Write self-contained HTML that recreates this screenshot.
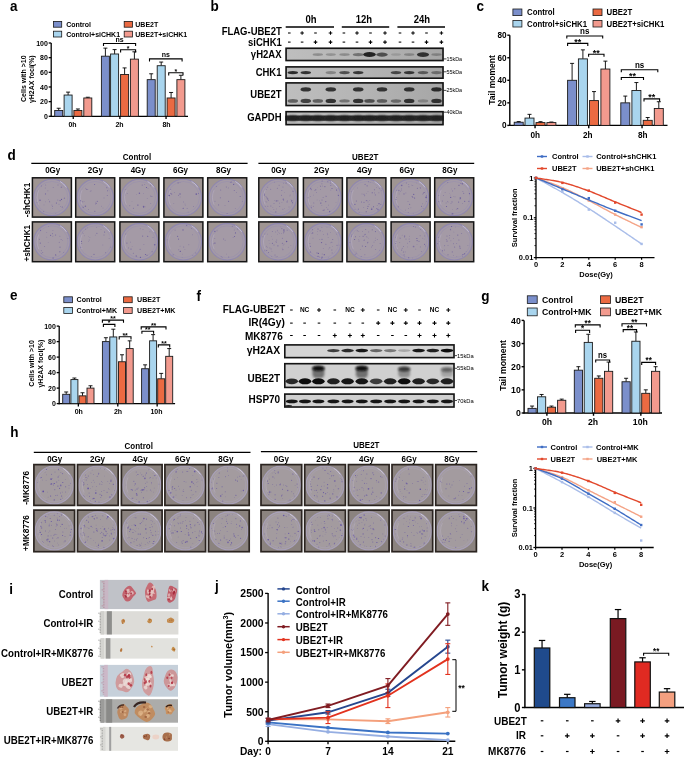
<!DOCTYPE html>
<html><head><meta charset="utf-8"><style>
html,body{margin:0;padding:0;background:#fff;width:685px;height:758px;overflow:hidden}
svg{display:block;will-change:transform}
</style></head><body>
<svg width="685" height="758" viewBox="0 0 685 758" font-family='"Liberation Sans", sans-serif'>
<defs>
<filter id="bl" x="-50%" y="-80%" width="200%" height="260%"><feGaussianBlur stdDeviation="1.1"/></filter>
<filter id="bl2" x="-50%" y="-80%" width="200%" height="260%"><feGaussianBlur stdDeviation="0.6"/></filter>
<filter id="bl3" x="-20%" y="-20%" width="140%" height="140%"><feGaussianBlur stdDeviation="0.35"/></filter>
<linearGradient id="gb" x1="0" y1="0" x2="1" y2="0"><stop offset="0" stop-color="#bebebe"/><stop offset="0.5" stop-color="#b4b4b4"/><stop offset="1" stop-color="#a6a6a6"/></linearGradient>
<radialGradient id="dish" cx="50%" cy="50%" r="50%"><stop offset="0" stop-color="#b8b0ba"/><stop offset="0.85" stop-color="#b4acb8"/><stop offset="1" stop-color="#a8a0c0"/></radialGradient>
</defs>
<rect x="0.00" y="0.00" width="685.00" height="758.00" fill="#ffffff"/>
<text x="10.00" y="11.00" font-size="14.58" font-weight="bold" text-anchor="start" fill="#000" textLength="7.51" lengthAdjust="spacingAndGlyphs">a</text>
<text x="210.60" y="10.80" font-size="14.58" font-weight="bold" text-anchor="start" fill="#000" textLength="8.25" lengthAdjust="spacingAndGlyphs">b</text>
<text x="476.50" y="11.00" font-size="14.58" font-weight="bold" text-anchor="start" fill="#000" textLength="7.51" lengthAdjust="spacingAndGlyphs">c</text>
<text x="7.60" y="159.80" font-size="14.58" font-weight="bold" text-anchor="start" fill="#000" textLength="8.25" lengthAdjust="spacingAndGlyphs">d</text>
<text x="10.00" y="300.30" font-size="14.58" font-weight="bold" text-anchor="start" fill="#000" textLength="7.51" lengthAdjust="spacingAndGlyphs">e</text>
<text x="196.60" y="300.80" font-size="14.58" font-weight="bold" text-anchor="start" fill="#000" textLength="4.50" lengthAdjust="spacingAndGlyphs">f</text>
<text x="481.20" y="300.50" font-size="14.58" font-weight="bold" text-anchor="start" fill="#000" textLength="8.25" lengthAdjust="spacingAndGlyphs">g</text>
<text x="10.20" y="437.10" font-size="14.58" font-weight="bold" text-anchor="start" fill="#000" textLength="8.25" lengthAdjust="spacingAndGlyphs">h</text>
<text x="9.30" y="593.70" font-size="14.58" font-weight="bold" text-anchor="start" fill="#000" textLength="3.75" lengthAdjust="spacingAndGlyphs">i</text>
<text x="215.00" y="591.20" font-size="14.58" font-weight="bold" text-anchor="start" fill="#000" textLength="3.75" lengthAdjust="spacingAndGlyphs">j</text>
<text x="481.60" y="591.30" font-size="14.58" font-weight="bold" text-anchor="start" fill="#000" textLength="7.51" lengthAdjust="spacingAndGlyphs">k</text>
<rect x="53.40" y="21.40" width="8.30" height="5.80" fill="#7b8fcb" stroke="#1a1a1a" stroke-width="0.8"/>
<text x="66.20" y="26.70" font-size="7.56" font-weight="bold" text-anchor="start" fill="#000" textLength="24.88" lengthAdjust="spacingAndGlyphs">Control</text>
<rect x="53.40" y="31.20" width="8.30" height="5.80" fill="#a9d5ee" stroke="#1a1a1a" stroke-width="0.8"/>
<text x="66.20" y="36.50" font-size="7.56" font-weight="bold" text-anchor="start" fill="#000" textLength="53.87" lengthAdjust="spacingAndGlyphs">Control+siCHK1</text>
<rect x="124.20" y="21.40" width="8.30" height="5.80" fill="#eb6a42" stroke="#1a1a1a" stroke-width="0.8"/>
<text x="135.30" y="26.70" font-size="7.56" font-weight="bold" text-anchor="start" fill="#000" textLength="22.95" lengthAdjust="spacingAndGlyphs">UBE2T</text>
<rect x="124.20" y="31.20" width="8.30" height="5.80" fill="#f29a8e" stroke="#1a1a1a" stroke-width="0.8"/>
<text x="135.30" y="36.50" font-size="7.56" font-weight="bold" text-anchor="start" fill="#000" textLength="51.93" lengthAdjust="spacingAndGlyphs">UBE2T+siCHK1</text>
<line x1="51.20" y1="43.00" x2="51.20" y2="116.90" stroke="#000" stroke-width="1.3"/>
<line x1="50.60" y1="116.30" x2="188.00" y2="116.30" stroke="#000" stroke-width="1.3"/>
<line x1="48.70" y1="116.30" x2="51.20" y2="116.30" stroke="#000" stroke-width="1.3"/>
<text x="47.90" y="118.82" font-size="7.56" font-weight="bold" text-anchor="end" fill="#000" textLength="3.89" lengthAdjust="spacingAndGlyphs">0</text>
<line x1="48.70" y1="101.64" x2="51.20" y2="101.64" stroke="#000" stroke-width="1.3"/>
<text x="47.90" y="104.16" font-size="7.56" font-weight="bold" text-anchor="end" fill="#000" textLength="7.79" lengthAdjust="spacingAndGlyphs">20</text>
<line x1="48.70" y1="86.98" x2="51.20" y2="86.98" stroke="#000" stroke-width="1.3"/>
<text x="47.90" y="89.50" font-size="7.56" font-weight="bold" text-anchor="end" fill="#000" textLength="7.79" lengthAdjust="spacingAndGlyphs">40</text>
<line x1="48.70" y1="72.32" x2="51.20" y2="72.32" stroke="#000" stroke-width="1.3"/>
<text x="47.90" y="74.84" font-size="7.56" font-weight="bold" text-anchor="end" fill="#000" textLength="7.79" lengthAdjust="spacingAndGlyphs">60</text>
<line x1="48.70" y1="57.66" x2="51.20" y2="57.66" stroke="#000" stroke-width="1.3"/>
<text x="47.90" y="60.18" font-size="7.56" font-weight="bold" text-anchor="end" fill="#000" textLength="7.79" lengthAdjust="spacingAndGlyphs">80</text>
<line x1="48.70" y1="43.00" x2="51.20" y2="43.00" stroke="#000" stroke-width="1.3"/>
<text x="47.90" y="45.52" font-size="7.56" font-weight="bold" text-anchor="end" fill="#000" textLength="11.68" lengthAdjust="spacingAndGlyphs">100</text>
<line x1="58.70" y1="108.24" x2="58.70" y2="110.44" stroke="#000" stroke-width="0.9"/>
<line x1="56.70" y1="108.24" x2="60.70" y2="108.24" stroke="#000" stroke-width="0.9"/>
<rect x="54.70" y="110.44" width="8.00" height="5.86" fill="#7b8fcb" stroke="#1a1a1a" stroke-width="0.9"/>
<line x1="68.10" y1="92.11" x2="68.10" y2="95.04" stroke="#000" stroke-width="0.9"/>
<line x1="66.10" y1="92.11" x2="70.10" y2="92.11" stroke="#000" stroke-width="0.9"/>
<rect x="64.10" y="95.04" width="8.00" height="21.26" fill="#a9d5ee" stroke="#1a1a1a" stroke-width="0.9"/>
<line x1="77.90" y1="108.97" x2="77.90" y2="110.44" stroke="#000" stroke-width="0.9"/>
<line x1="75.90" y1="108.97" x2="79.90" y2="108.97" stroke="#000" stroke-width="0.9"/>
<rect x="73.90" y="110.44" width="8.00" height="5.86" fill="#eb6a42" stroke="#1a1a1a" stroke-width="0.9"/>
<line x1="87.80" y1="97.24" x2="87.80" y2="97.97" stroke="#000" stroke-width="0.9"/>
<line x1="85.80" y1="97.24" x2="89.80" y2="97.24" stroke="#000" stroke-width="0.9"/>
<rect x="83.80" y="97.97" width="8.00" height="18.33" fill="#f29a8e" stroke="#1a1a1a" stroke-width="0.9"/>
<line x1="105.40" y1="48.13" x2="105.40" y2="56.19" stroke="#000" stroke-width="0.9"/>
<line x1="103.40" y1="48.13" x2="107.40" y2="48.13" stroke="#000" stroke-width="0.9"/>
<rect x="101.40" y="56.19" width="8.00" height="60.11" fill="#7b8fcb" stroke="#1a1a1a" stroke-width="0.9"/>
<line x1="114.60" y1="49.60" x2="114.60" y2="53.99" stroke="#000" stroke-width="0.9"/>
<line x1="112.60" y1="49.60" x2="116.60" y2="49.60" stroke="#000" stroke-width="0.9"/>
<rect x="110.60" y="53.99" width="8.00" height="62.30" fill="#a9d5ee" stroke="#1a1a1a" stroke-width="0.9"/>
<line x1="124.60" y1="67.92" x2="124.60" y2="74.52" stroke="#000" stroke-width="0.9"/>
<line x1="122.60" y1="67.92" x2="126.60" y2="67.92" stroke="#000" stroke-width="0.9"/>
<rect x="120.60" y="74.52" width="8.00" height="41.78" fill="#eb6a42" stroke="#1a1a1a" stroke-width="0.9"/>
<line x1="134.40" y1="51.80" x2="134.40" y2="59.13" stroke="#000" stroke-width="0.9"/>
<line x1="132.40" y1="51.80" x2="136.40" y2="51.80" stroke="#000" stroke-width="0.9"/>
<rect x="130.40" y="59.13" width="8.00" height="57.17" fill="#f29a8e" stroke="#1a1a1a" stroke-width="0.9"/>
<line x1="151.20" y1="73.79" x2="151.20" y2="79.65" stroke="#000" stroke-width="0.9"/>
<line x1="149.20" y1="73.79" x2="153.20" y2="73.79" stroke="#000" stroke-width="0.9"/>
<rect x="147.20" y="79.65" width="8.00" height="36.65" fill="#7b8fcb" stroke="#1a1a1a" stroke-width="0.9"/>
<line x1="161.20" y1="62.06" x2="161.20" y2="65.72" stroke="#000" stroke-width="0.9"/>
<line x1="159.20" y1="62.06" x2="163.20" y2="62.06" stroke="#000" stroke-width="0.9"/>
<rect x="157.20" y="65.72" width="8.00" height="50.58" fill="#a9d5ee" stroke="#1a1a1a" stroke-width="0.9"/>
<line x1="171.10" y1="92.48" x2="171.10" y2="97.97" stroke="#000" stroke-width="0.9"/>
<line x1="169.10" y1="92.48" x2="173.10" y2="92.48" stroke="#000" stroke-width="0.9"/>
<rect x="167.10" y="97.97" width="8.00" height="18.33" fill="#eb6a42" stroke="#1a1a1a" stroke-width="0.9"/>
<line x1="180.90" y1="75.25" x2="180.90" y2="79.65" stroke="#000" stroke-width="0.9"/>
<line x1="178.90" y1="75.25" x2="182.90" y2="75.25" stroke="#000" stroke-width="0.9"/>
<rect x="176.90" y="79.65" width="8.00" height="36.65" fill="#f29a8e" stroke="#1a1a1a" stroke-width="0.9"/>
<text x="72.50" y="127.20" font-size="7.56" font-weight="bold" text-anchor="middle" fill="#000" textLength="8.17" lengthAdjust="spacingAndGlyphs">0h</text>
<text x="119.50" y="127.20" font-size="7.56" font-weight="bold" text-anchor="middle" fill="#000" textLength="8.17" lengthAdjust="spacingAndGlyphs">2h</text>
<text x="166.50" y="127.20" font-size="7.56" font-weight="bold" text-anchor="middle" fill="#000" textLength="8.17" lengthAdjust="spacingAndGlyphs">8h</text>
<line x1="73.25" y1="116.30" x2="73.25" y2="119.10" stroke="#000" stroke-width="1.3"/>
<line x1="119.90" y1="116.30" x2="119.90" y2="119.10" stroke="#000" stroke-width="1.3"/>
<line x1="166.05" y1="116.30" x2="166.05" y2="119.10" stroke="#000" stroke-width="1.3"/>
<text x="26.30" y="78.70" font-size="7.56" font-weight="bold" text-anchor="middle" fill="#000" transform="rotate(-90 26.30 78.70)" textLength="46.49" lengthAdjust="spacingAndGlyphs">Cells with &gt;10</text>
<text x="34.00" y="79.20" font-size="7.56" font-weight="bold" text-anchor="middle" fill="#000" transform="rotate(-90 34.00 79.20)" textLength="47.84" lengthAdjust="spacingAndGlyphs">γH2AX foci(%)</text>
<path d="M103.50 46.10V43.50H135.60V46.10" fill="none" stroke="#000" stroke-width="1.1"/>
<text x="119.55" y="41.80" font-size="7.56" font-weight="bold" text-anchor="middle" fill="#000" textLength="8.17" lengthAdjust="spacingAndGlyphs">ns</text>
<path d="M120.60 52.40V49.80H135.60V52.40" fill="none" stroke="#000" stroke-width="1.1"/>
<text x="128.10" y="50.51" font-size="7.56" font-weight="bold" text-anchor="middle" fill="#000" textLength="2.72" lengthAdjust="spacingAndGlyphs">*</text>
<path d="M149.50 61.50V58.90H182.10V61.50" fill="none" stroke="#000" stroke-width="1.1"/>
<text x="165.80" y="57.20" font-size="7.56" font-weight="bold" text-anchor="middle" fill="#000" textLength="8.17" lengthAdjust="spacingAndGlyphs">ns</text>
<path d="M168.70 75.40V72.80H183.00V75.40" fill="none" stroke="#000" stroke-width="1.1"/>
<text x="175.85" y="73.51" font-size="7.56" font-weight="bold" text-anchor="middle" fill="#000" textLength="2.72" lengthAdjust="spacingAndGlyphs">*</text>
<rect x="512.90" y="9.00" width="9.00" height="6.60" fill="#7b8fcb" stroke="#1a1a1a" stroke-width="0.8"/>
<text x="527.00" y="15.20" font-size="8.42" font-weight="bold" text-anchor="start" fill="#000" textLength="27.73" lengthAdjust="spacingAndGlyphs">Control</text>
<rect x="512.90" y="20.40" width="9.00" height="6.60" fill="#a9d5ee" stroke="#1a1a1a" stroke-width="0.8"/>
<text x="527.00" y="26.60" font-size="8.42" font-weight="bold" text-anchor="start" fill="#000" textLength="60.02" lengthAdjust="spacingAndGlyphs">Control+siCHK1</text>
<rect x="593.00" y="9.00" width="9.00" height="6.60" fill="#eb6a42" stroke="#1a1a1a" stroke-width="0.8"/>
<text x="606.60" y="15.20" font-size="8.42" font-weight="bold" text-anchor="start" fill="#000" textLength="25.57" lengthAdjust="spacingAndGlyphs">UBE2T</text>
<rect x="593.00" y="20.40" width="9.00" height="6.60" fill="#f29a8e" stroke="#1a1a1a" stroke-width="0.8"/>
<text x="606.60" y="26.60" font-size="8.42" font-weight="bold" text-anchor="start" fill="#000" textLength="57.87" lengthAdjust="spacingAndGlyphs">UBE2T+siCHK1</text>
<line x1="509.80" y1="35.20" x2="509.80" y2="126.00" stroke="#000" stroke-width="1.4"/>
<line x1="509.20" y1="125.40" x2="667.50" y2="125.40" stroke="#000" stroke-width="1.4"/>
<line x1="507.30" y1="125.40" x2="509.80" y2="125.40" stroke="#000" stroke-width="1.4"/>
<text x="506.50" y="128.35" font-size="8.86" font-weight="bold" text-anchor="end" fill="#000" textLength="4.56" lengthAdjust="spacingAndGlyphs">0</text>
<line x1="507.30" y1="102.85" x2="509.80" y2="102.85" stroke="#000" stroke-width="1.4"/>
<text x="506.50" y="105.80" font-size="8.86" font-weight="bold" text-anchor="end" fill="#000" textLength="9.12" lengthAdjust="spacingAndGlyphs">20</text>
<line x1="507.30" y1="80.30" x2="509.80" y2="80.30" stroke="#000" stroke-width="1.4"/>
<text x="506.50" y="83.25" font-size="8.86" font-weight="bold" text-anchor="end" fill="#000" textLength="9.12" lengthAdjust="spacingAndGlyphs">40</text>
<line x1="507.30" y1="57.75" x2="509.80" y2="57.75" stroke="#000" stroke-width="1.4"/>
<text x="506.50" y="60.70" font-size="8.86" font-weight="bold" text-anchor="end" fill="#000" textLength="9.12" lengthAdjust="spacingAndGlyphs">60</text>
<line x1="507.30" y1="35.20" x2="509.80" y2="35.20" stroke="#000" stroke-width="1.4"/>
<text x="506.50" y="38.15" font-size="8.86" font-weight="bold" text-anchor="end" fill="#000" textLength="9.12" lengthAdjust="spacingAndGlyphs">80</text>
<line x1="518.70" y1="121.57" x2="518.70" y2="122.24" stroke="#000" stroke-width="0.9"/>
<line x1="516.70" y1="121.57" x2="520.70" y2="121.57" stroke="#000" stroke-width="0.9"/>
<rect x="514.20" y="122.24" width="9.00" height="3.16" fill="#7b8fcb" stroke="#1a1a1a" stroke-width="0.9"/>
<line x1="529.50" y1="114.35" x2="529.50" y2="118.07" stroke="#000" stroke-width="0.9"/>
<line x1="527.50" y1="114.35" x2="531.50" y2="114.35" stroke="#000" stroke-width="0.9"/>
<rect x="525.00" y="118.07" width="9.00" height="7.33" fill="#a9d5ee" stroke="#1a1a1a" stroke-width="0.9"/>
<line x1="540.50" y1="121.68" x2="540.50" y2="122.58" stroke="#000" stroke-width="0.9"/>
<line x1="538.50" y1="121.68" x2="542.50" y2="121.68" stroke="#000" stroke-width="0.9"/>
<rect x="536.00" y="122.58" width="9.00" height="2.82" fill="#eb6a42" stroke="#1a1a1a" stroke-width="0.9"/>
<line x1="551.40" y1="122.02" x2="551.40" y2="122.58" stroke="#000" stroke-width="0.9"/>
<line x1="549.40" y1="122.02" x2="553.40" y2="122.02" stroke="#000" stroke-width="0.9"/>
<rect x="546.90" y="122.58" width="9.00" height="2.82" fill="#f29a8e" stroke="#1a1a1a" stroke-width="0.9"/>
<line x1="572.10" y1="63.39" x2="572.10" y2="80.30" stroke="#000" stroke-width="0.9"/>
<line x1="570.10" y1="63.39" x2="574.10" y2="63.39" stroke="#000" stroke-width="0.9"/>
<rect x="567.60" y="80.30" width="9.00" height="45.10" fill="#7b8fcb" stroke="#1a1a1a" stroke-width="0.9"/>
<line x1="582.90" y1="49.86" x2="582.90" y2="58.88" stroke="#000" stroke-width="0.9"/>
<line x1="580.90" y1="49.86" x2="584.90" y2="49.86" stroke="#000" stroke-width="0.9"/>
<rect x="578.40" y="58.88" width="9.00" height="66.52" fill="#a9d5ee" stroke="#1a1a1a" stroke-width="0.9"/>
<line x1="594.00" y1="91.58" x2="594.00" y2="100.59" stroke="#000" stroke-width="0.9"/>
<line x1="592.00" y1="91.58" x2="596.00" y2="91.58" stroke="#000" stroke-width="0.9"/>
<rect x="589.50" y="100.59" width="9.00" height="24.81" fill="#eb6a42" stroke="#1a1a1a" stroke-width="0.9"/>
<line x1="605.40" y1="61.13" x2="605.40" y2="69.03" stroke="#000" stroke-width="0.9"/>
<line x1="603.40" y1="61.13" x2="607.40" y2="61.13" stroke="#000" stroke-width="0.9"/>
<rect x="600.90" y="69.03" width="9.00" height="56.38" fill="#f29a8e" stroke="#1a1a1a" stroke-width="0.9"/>
<line x1="625.30" y1="96.09" x2="625.30" y2="102.85" stroke="#000" stroke-width="0.9"/>
<line x1="623.30" y1="96.09" x2="627.30" y2="96.09" stroke="#000" stroke-width="0.9"/>
<rect x="620.80" y="102.85" width="9.00" height="22.55" fill="#7b8fcb" stroke="#1a1a1a" stroke-width="0.9"/>
<line x1="636.40" y1="82.56" x2="636.40" y2="90.45" stroke="#000" stroke-width="0.9"/>
<line x1="634.40" y1="82.56" x2="638.40" y2="82.56" stroke="#000" stroke-width="0.9"/>
<rect x="631.90" y="90.45" width="9.00" height="34.95" fill="#a9d5ee" stroke="#1a1a1a" stroke-width="0.9"/>
<line x1="647.70" y1="117.51" x2="647.70" y2="120.33" stroke="#000" stroke-width="0.9"/>
<line x1="645.70" y1="117.51" x2="649.70" y2="117.51" stroke="#000" stroke-width="0.9"/>
<rect x="643.20" y="120.33" width="9.00" height="5.07" fill="#eb6a42" stroke="#1a1a1a" stroke-width="0.9"/>
<line x1="658.80" y1="101.72" x2="658.80" y2="108.49" stroke="#000" stroke-width="0.9"/>
<line x1="656.80" y1="101.72" x2="660.80" y2="101.72" stroke="#000" stroke-width="0.9"/>
<rect x="654.30" y="108.49" width="9.00" height="16.91" fill="#f29a8e" stroke="#1a1a1a" stroke-width="0.9"/>
<text x="535.20" y="137.90" font-size="8.86" font-weight="bold" text-anchor="middle" fill="#000" textLength="9.57" lengthAdjust="spacingAndGlyphs">0h</text>
<text x="587.80" y="137.90" font-size="8.86" font-weight="bold" text-anchor="middle" fill="#000" textLength="9.57" lengthAdjust="spacingAndGlyphs">2h</text>
<text x="642.70" y="137.90" font-size="8.86" font-weight="bold" text-anchor="middle" fill="#000" textLength="9.57" lengthAdjust="spacingAndGlyphs">8h</text>
<line x1="535.05" y1="125.40" x2="535.05" y2="128.20" stroke="#000" stroke-width="1.4"/>
<line x1="588.75" y1="125.40" x2="588.75" y2="128.20" stroke="#000" stroke-width="1.4"/>
<line x1="642.05" y1="125.40" x2="642.05" y2="128.20" stroke="#000" stroke-width="1.4"/>
<text x="494.70" y="80.00" font-size="9.18" font-weight="bold" text-anchor="middle" fill="#000" transform="rotate(-90 494.70 80.00)" textLength="49.43" lengthAdjust="spacingAndGlyphs">Tail moment</text>
<path d="M566.80 38.60V36.00H602.70V38.60" fill="none" stroke="#000" stroke-width="1.1"/>
<text x="584.75" y="34.30" font-size="8.64" font-weight="bold" text-anchor="middle" fill="#000" textLength="9.34" lengthAdjust="spacingAndGlyphs">ns</text>
<path d="M567.60 46.00V43.40H587.80V46.00" fill="none" stroke="#000" stroke-width="1.1"/>
<text x="577.70" y="44.76" font-size="9.68" font-weight="bold" text-anchor="middle" fill="#000" textLength="6.97" lengthAdjust="spacingAndGlyphs">**</text>
<path d="M588.60 56.80V54.20H604.00V56.80" fill="none" stroke="#000" stroke-width="1.1"/>
<text x="596.30" y="55.56" font-size="9.68" font-weight="bold" text-anchor="middle" fill="#000" textLength="6.97" lengthAdjust="spacingAndGlyphs">**</text>
<path d="M621.30 72.30V69.70H657.80V72.30" fill="none" stroke="#000" stroke-width="1.1"/>
<text x="639.55" y="68.00" font-size="8.64" font-weight="bold" text-anchor="middle" fill="#000" textLength="9.34" lengthAdjust="spacingAndGlyphs">ns</text>
<path d="M621.30 80.10V77.50H643.50V80.10" fill="none" stroke="#000" stroke-width="1.1"/>
<text x="632.40" y="78.86" font-size="9.68" font-weight="bold" text-anchor="middle" fill="#000" textLength="6.97" lengthAdjust="spacingAndGlyphs">**</text>
<path d="M644.00 101.50V98.90H659.60V101.50" fill="none" stroke="#000" stroke-width="1.1"/>
<text x="651.80" y="100.26" font-size="9.68" font-weight="bold" text-anchor="middle" fill="#000" textLength="6.97" lengthAdjust="spacingAndGlyphs">**</text>
<rect x="63.80" y="296.80" width="8.60" height="5.90" fill="#7b8fcb" stroke="#1a1a1a" stroke-width="0.8"/>
<text x="76.60" y="302.40" font-size="7.67" font-weight="bold" text-anchor="start" fill="#000" textLength="25.24" lengthAdjust="spacingAndGlyphs">Control</text>
<rect x="63.80" y="307.50" width="8.60" height="5.90" fill="#a9d5ee" stroke="#1a1a1a" stroke-width="0.8"/>
<text x="76.60" y="313.10" font-size="7.67" font-weight="bold" text-anchor="start" fill="#000" textLength="40.43" lengthAdjust="spacingAndGlyphs">Control+MK</text>
<rect x="123.60" y="296.80" width="8.60" height="5.90" fill="#eb6a42" stroke="#1a1a1a" stroke-width="0.8"/>
<text x="137.00" y="302.40" font-size="7.67" font-weight="bold" text-anchor="start" fill="#000" textLength="23.28" lengthAdjust="spacingAndGlyphs">UBE2T</text>
<rect x="123.60" y="307.50" width="8.60" height="5.90" fill="#f29a8e" stroke="#1a1a1a" stroke-width="0.8"/>
<text x="137.00" y="313.10" font-size="7.67" font-weight="bold" text-anchor="start" fill="#000" textLength="38.47" lengthAdjust="spacingAndGlyphs">UBE2T+MK</text>
<line x1="59.20" y1="326.10" x2="59.20" y2="404.20" stroke="#000" stroke-width="1.3"/>
<line x1="58.60" y1="403.60" x2="175.10" y2="403.60" stroke="#000" stroke-width="1.3"/>
<line x1="56.70" y1="403.60" x2="59.20" y2="403.60" stroke="#000" stroke-width="1.3"/>
<text x="55.90" y="406.12" font-size="7.56" font-weight="bold" text-anchor="end" fill="#000" textLength="3.89" lengthAdjust="spacingAndGlyphs">0</text>
<line x1="56.70" y1="388.10" x2="59.20" y2="388.10" stroke="#000" stroke-width="1.3"/>
<text x="55.90" y="390.62" font-size="7.56" font-weight="bold" text-anchor="end" fill="#000" textLength="7.79" lengthAdjust="spacingAndGlyphs">20</text>
<line x1="56.70" y1="372.60" x2="59.20" y2="372.60" stroke="#000" stroke-width="1.3"/>
<text x="55.90" y="375.12" font-size="7.56" font-weight="bold" text-anchor="end" fill="#000" textLength="7.79" lengthAdjust="spacingAndGlyphs">40</text>
<line x1="56.70" y1="357.10" x2="59.20" y2="357.10" stroke="#000" stroke-width="1.3"/>
<text x="55.90" y="359.62" font-size="7.56" font-weight="bold" text-anchor="end" fill="#000" textLength="7.79" lengthAdjust="spacingAndGlyphs">60</text>
<line x1="56.70" y1="341.60" x2="59.20" y2="341.60" stroke="#000" stroke-width="1.3"/>
<text x="55.90" y="344.12" font-size="7.56" font-weight="bold" text-anchor="end" fill="#000" textLength="7.79" lengthAdjust="spacingAndGlyphs">80</text>
<line x1="56.70" y1="326.10" x2="59.20" y2="326.10" stroke="#000" stroke-width="1.3"/>
<text x="55.90" y="328.62" font-size="7.56" font-weight="bold" text-anchor="end" fill="#000" textLength="11.68" lengthAdjust="spacingAndGlyphs">100</text>
<line x1="66.20" y1="391.98" x2="66.20" y2="394.30" stroke="#000" stroke-width="0.9"/>
<line x1="64.20" y1="391.98" x2="68.20" y2="391.98" stroke="#000" stroke-width="0.9"/>
<rect x="62.70" y="394.30" width="7.00" height="9.30" fill="#7b8fcb" stroke="#1a1a1a" stroke-width="0.9"/>
<line x1="74.40" y1="378.03" x2="74.40" y2="379.58" stroke="#000" stroke-width="0.9"/>
<line x1="72.40" y1="378.03" x2="76.40" y2="378.03" stroke="#000" stroke-width="0.9"/>
<rect x="70.90" y="379.58" width="7.00" height="24.02" fill="#a9d5ee" stroke="#1a1a1a" stroke-width="0.9"/>
<line x1="82.50" y1="392.75" x2="82.50" y2="395.85" stroke="#000" stroke-width="0.9"/>
<line x1="80.50" y1="392.75" x2="84.50" y2="392.75" stroke="#000" stroke-width="0.9"/>
<rect x="79.00" y="395.85" width="7.00" height="7.75" fill="#eb6a42" stroke="#1a1a1a" stroke-width="0.9"/>
<line x1="90.50" y1="385.78" x2="90.50" y2="388.10" stroke="#000" stroke-width="0.9"/>
<line x1="88.50" y1="385.78" x2="92.50" y2="385.78" stroke="#000" stroke-width="0.9"/>
<rect x="87.00" y="388.10" width="7.00" height="15.50" fill="#f29a8e" stroke="#1a1a1a" stroke-width="0.9"/>
<line x1="105.90" y1="337.73" x2="105.90" y2="341.60" stroke="#000" stroke-width="0.9"/>
<line x1="103.90" y1="337.73" x2="107.90" y2="337.73" stroke="#000" stroke-width="0.9"/>
<rect x="102.40" y="341.60" width="7.00" height="62.00" fill="#7b8fcb" stroke="#1a1a1a" stroke-width="0.9"/>
<line x1="113.30" y1="329.20" x2="113.30" y2="336.95" stroke="#000" stroke-width="0.9"/>
<line x1="111.30" y1="329.20" x2="115.30" y2="329.20" stroke="#000" stroke-width="0.9"/>
<rect x="109.80" y="336.95" width="7.00" height="66.65" fill="#a9d5ee" stroke="#1a1a1a" stroke-width="0.9"/>
<line x1="122.00" y1="354.78" x2="122.00" y2="361.75" stroke="#000" stroke-width="0.9"/>
<line x1="120.00" y1="354.78" x2="124.00" y2="354.78" stroke="#000" stroke-width="0.9"/>
<rect x="118.50" y="361.75" width="7.00" height="41.85" fill="#eb6a42" stroke="#1a1a1a" stroke-width="0.9"/>
<line x1="129.70" y1="340.83" x2="129.70" y2="348.58" stroke="#000" stroke-width="0.9"/>
<line x1="127.70" y1="340.83" x2="131.70" y2="340.83" stroke="#000" stroke-width="0.9"/>
<rect x="126.20" y="348.58" width="7.00" height="55.02" fill="#f29a8e" stroke="#1a1a1a" stroke-width="0.9"/>
<line x1="145.10" y1="364.85" x2="145.10" y2="368.73" stroke="#000" stroke-width="0.9"/>
<line x1="143.10" y1="364.85" x2="147.10" y2="364.85" stroke="#000" stroke-width="0.9"/>
<rect x="141.60" y="368.73" width="7.00" height="34.88" fill="#7b8fcb" stroke="#1a1a1a" stroke-width="0.9"/>
<line x1="153.10" y1="334.62" x2="153.10" y2="340.83" stroke="#000" stroke-width="0.9"/>
<line x1="151.10" y1="334.62" x2="155.10" y2="334.62" stroke="#000" stroke-width="0.9"/>
<rect x="149.60" y="340.83" width="7.00" height="62.77" fill="#a9d5ee" stroke="#1a1a1a" stroke-width="0.9"/>
<line x1="161.20" y1="373.38" x2="161.20" y2="378.80" stroke="#000" stroke-width="0.9"/>
<line x1="159.20" y1="373.38" x2="163.20" y2="373.38" stroke="#000" stroke-width="0.9"/>
<rect x="157.70" y="378.80" width="7.00" height="24.80" fill="#eb6a42" stroke="#1a1a1a" stroke-width="0.9"/>
<line x1="169.20" y1="348.58" x2="169.20" y2="356.33" stroke="#000" stroke-width="0.9"/>
<line x1="167.20" y1="348.58" x2="171.20" y2="348.58" stroke="#000" stroke-width="0.9"/>
<rect x="165.70" y="356.33" width="7.00" height="47.27" fill="#f29a8e" stroke="#1a1a1a" stroke-width="0.9"/>
<text x="78.80" y="414.30" font-size="7.56" font-weight="bold" text-anchor="middle" fill="#000" textLength="8.17" lengthAdjust="spacingAndGlyphs">0h</text>
<text x="118.00" y="414.30" font-size="7.56" font-weight="bold" text-anchor="middle" fill="#000" textLength="8.17" lengthAdjust="spacingAndGlyphs">2h</text>
<text x="156.50" y="414.30" font-size="7.56" font-weight="bold" text-anchor="middle" fill="#000" textLength="12.06" lengthAdjust="spacingAndGlyphs">10h</text>
<line x1="78.35" y1="403.60" x2="78.35" y2="406.40" stroke="#000" stroke-width="1.3"/>
<line x1="117.80" y1="403.60" x2="117.80" y2="406.40" stroke="#000" stroke-width="1.3"/>
<line x1="157.15" y1="403.60" x2="157.15" y2="406.40" stroke="#000" stroke-width="1.3"/>
<text x="33.60" y="363.40" font-size="7.56" font-weight="bold" text-anchor="middle" fill="#000" transform="rotate(-90 33.60 363.40)" textLength="46.49" lengthAdjust="spacingAndGlyphs">Cells with &gt;10</text>
<text x="42.60" y="363.60" font-size="7.56" font-weight="bold" text-anchor="middle" fill="#000" transform="rotate(-90 42.60 363.60)" textLength="47.84" lengthAdjust="spacingAndGlyphs">γH2AX foci(%)</text>
<path d="M102.40 322.70V320.10H123.50V322.70" fill="none" stroke="#000" stroke-width="1.1"/>
<text x="112.95" y="320.81" font-size="7.56" font-weight="bold" text-anchor="middle" fill="#000" textLength="5.45" lengthAdjust="spacingAndGlyphs">**</text>
<path d="M103.40 327.00V324.40H114.90V327.00" fill="none" stroke="#000" stroke-width="1.1"/>
<text x="109.15" y="325.11" font-size="7.56" font-weight="bold" text-anchor="middle" fill="#000" textLength="2.72" lengthAdjust="spacingAndGlyphs">*</text>
<path d="M119.20 339.40V336.80H131.00V339.40" fill="none" stroke="#000" stroke-width="1.1"/>
<text x="125.10" y="337.51" font-size="7.56" font-weight="bold" text-anchor="middle" fill="#000" textLength="5.45" lengthAdjust="spacingAndGlyphs">**</text>
<path d="M141.20 329.50V326.90H166.00V329.50" fill="none" stroke="#000" stroke-width="1.1"/>
<text x="153.60" y="327.61" font-size="7.56" font-weight="bold" text-anchor="middle" fill="#000" textLength="5.45" lengthAdjust="spacingAndGlyphs">**</text>
<path d="M141.90 333.80V331.20H153.60V333.80" fill="none" stroke="#000" stroke-width="1.1"/>
<text x="147.75" y="331.91" font-size="7.56" font-weight="bold" text-anchor="middle" fill="#000" textLength="5.45" lengthAdjust="spacingAndGlyphs">**</text>
<path d="M158.30 347.50V344.90H169.70V347.50" fill="none" stroke="#000" stroke-width="1.1"/>
<text x="164.00" y="345.61" font-size="7.56" font-weight="bold" text-anchor="middle" fill="#000" textLength="5.45" lengthAdjust="spacingAndGlyphs">**</text>
<rect x="527.30" y="295.80" width="9.90" height="7.80" fill="#7b8fcb" stroke="#1a1a1a" stroke-width="0.8"/>
<text x="542.00" y="302.80" font-size="9.40" font-weight="bold" text-anchor="start" fill="#000" textLength="30.93" lengthAdjust="spacingAndGlyphs">Control</text>
<rect x="527.30" y="308.00" width="9.90" height="7.80" fill="#a9d5ee" stroke="#1a1a1a" stroke-width="0.8"/>
<text x="542.00" y="315.00" font-size="9.40" font-weight="bold" text-anchor="start" fill="#000" textLength="49.54" lengthAdjust="spacingAndGlyphs">Control+MK</text>
<rect x="600.60" y="295.80" width="9.90" height="7.80" fill="#eb6a42" stroke="#1a1a1a" stroke-width="0.8"/>
<text x="615.00" y="302.80" font-size="9.40" font-weight="bold" text-anchor="start" fill="#000" textLength="28.52" lengthAdjust="spacingAndGlyphs">UBE2T</text>
<rect x="600.60" y="308.00" width="9.90" height="7.80" fill="#f29a8e" stroke="#1a1a1a" stroke-width="0.8"/>
<text x="615.00" y="315.00" font-size="9.40" font-weight="bold" text-anchor="start" fill="#000" textLength="47.13" lengthAdjust="spacingAndGlyphs">UBE2T+MK</text>
<line x1="524.10" y1="320.40" x2="524.10" y2="413.60" stroke="#000" stroke-width="1.4"/>
<line x1="523.50" y1="413.00" x2="662.00" y2="413.00" stroke="#000" stroke-width="1.4"/>
<line x1="521.60" y1="413.00" x2="524.10" y2="413.00" stroke="#000" stroke-width="1.4"/>
<text x="520.80" y="416.13" font-size="9.40" font-weight="bold" text-anchor="end" fill="#000" textLength="4.84" lengthAdjust="spacingAndGlyphs">0</text>
<line x1="521.60" y1="389.85" x2="524.10" y2="389.85" stroke="#000" stroke-width="1.4"/>
<text x="520.80" y="392.98" font-size="9.40" font-weight="bold" text-anchor="end" fill="#000" textLength="9.68" lengthAdjust="spacingAndGlyphs">10</text>
<line x1="521.60" y1="366.70" x2="524.10" y2="366.70" stroke="#000" stroke-width="1.4"/>
<text x="520.80" y="369.83" font-size="9.40" font-weight="bold" text-anchor="end" fill="#000" textLength="9.68" lengthAdjust="spacingAndGlyphs">20</text>
<line x1="521.60" y1="343.55" x2="524.10" y2="343.55" stroke="#000" stroke-width="1.4"/>
<text x="520.80" y="346.68" font-size="9.40" font-weight="bold" text-anchor="end" fill="#000" textLength="9.68" lengthAdjust="spacingAndGlyphs">30</text>
<line x1="521.60" y1="320.40" x2="524.10" y2="320.40" stroke="#000" stroke-width="1.4"/>
<text x="520.80" y="323.53" font-size="9.40" font-weight="bold" text-anchor="end" fill="#000" textLength="9.68" lengthAdjust="spacingAndGlyphs">40</text>
<line x1="532.10" y1="406.06" x2="532.10" y2="408.37" stroke="#000" stroke-width="0.9"/>
<line x1="530.10" y1="406.06" x2="534.10" y2="406.06" stroke="#000" stroke-width="0.9"/>
<rect x="528.00" y="408.37" width="8.20" height="4.63" fill="#7b8fcb" stroke="#1a1a1a" stroke-width="0.9"/>
<line x1="541.60" y1="394.48" x2="541.60" y2="396.80" stroke="#000" stroke-width="0.9"/>
<line x1="539.60" y1="394.48" x2="543.60" y2="394.48" stroke="#000" stroke-width="0.9"/>
<rect x="537.50" y="396.80" width="8.20" height="16.20" fill="#a9d5ee" stroke="#1a1a1a" stroke-width="0.9"/>
<line x1="551.50" y1="406.06" x2="551.50" y2="407.21" stroke="#000" stroke-width="0.9"/>
<line x1="549.50" y1="406.06" x2="553.50" y2="406.06" stroke="#000" stroke-width="0.9"/>
<rect x="547.40" y="407.21" width="8.20" height="5.79" fill="#eb6a42" stroke="#1a1a1a" stroke-width="0.9"/>
<line x1="561.70" y1="399.11" x2="561.70" y2="400.27" stroke="#000" stroke-width="0.9"/>
<line x1="559.70" y1="399.11" x2="563.70" y2="399.11" stroke="#000" stroke-width="0.9"/>
<rect x="557.60" y="400.27" width="8.20" height="12.73" fill="#f29a8e" stroke="#1a1a1a" stroke-width="0.9"/>
<line x1="578.40" y1="366.70" x2="578.40" y2="370.17" stroke="#000" stroke-width="0.9"/>
<line x1="576.40" y1="366.70" x2="580.40" y2="366.70" stroke="#000" stroke-width="0.9"/>
<rect x="574.30" y="370.17" width="8.20" height="42.83" fill="#7b8fcb" stroke="#1a1a1a" stroke-width="0.9"/>
<line x1="588.30" y1="334.29" x2="588.30" y2="342.39" stroke="#000" stroke-width="0.9"/>
<line x1="586.30" y1="334.29" x2="590.30" y2="334.29" stroke="#000" stroke-width="0.9"/>
<rect x="584.20" y="342.39" width="8.20" height="70.61" fill="#a9d5ee" stroke="#1a1a1a" stroke-width="0.9"/>
<line x1="598.80" y1="375.96" x2="598.80" y2="378.27" stroke="#000" stroke-width="0.9"/>
<line x1="596.80" y1="375.96" x2="600.80" y2="375.96" stroke="#000" stroke-width="0.9"/>
<rect x="594.70" y="378.27" width="8.20" height="34.73" fill="#eb6a42" stroke="#1a1a1a" stroke-width="0.9"/>
<line x1="608.60" y1="362.07" x2="608.60" y2="371.33" stroke="#000" stroke-width="0.9"/>
<line x1="606.60" y1="362.07" x2="610.60" y2="362.07" stroke="#000" stroke-width="0.9"/>
<rect x="604.50" y="371.33" width="8.20" height="41.67" fill="#f29a8e" stroke="#1a1a1a" stroke-width="0.9"/>
<line x1="626.10" y1="378.27" x2="626.10" y2="381.75" stroke="#000" stroke-width="0.9"/>
<line x1="624.10" y1="378.27" x2="628.10" y2="378.27" stroke="#000" stroke-width="0.9"/>
<rect x="622.00" y="381.75" width="8.20" height="31.25" fill="#7b8fcb" stroke="#1a1a1a" stroke-width="0.9"/>
<line x1="635.90" y1="331.98" x2="635.90" y2="341.24" stroke="#000" stroke-width="0.9"/>
<line x1="633.90" y1="331.98" x2="637.90" y2="331.98" stroke="#000" stroke-width="0.9"/>
<rect x="631.80" y="341.24" width="8.20" height="71.76" fill="#a9d5ee" stroke="#1a1a1a" stroke-width="0.9"/>
<line x1="645.80" y1="389.85" x2="645.80" y2="393.32" stroke="#000" stroke-width="0.9"/>
<line x1="643.80" y1="389.85" x2="647.80" y2="389.85" stroke="#000" stroke-width="0.9"/>
<rect x="641.70" y="393.32" width="8.20" height="19.68" fill="#eb6a42" stroke="#1a1a1a" stroke-width="0.9"/>
<line x1="655.60" y1="366.70" x2="655.60" y2="371.33" stroke="#000" stroke-width="0.9"/>
<line x1="653.60" y1="366.70" x2="657.60" y2="366.70" stroke="#000" stroke-width="0.9"/>
<rect x="651.50" y="371.33" width="8.20" height="41.67" fill="#f29a8e" stroke="#1a1a1a" stroke-width="0.9"/>
<text x="547.00" y="424.50" font-size="9.40" font-weight="bold" text-anchor="middle" fill="#000" textLength="10.15" lengthAdjust="spacingAndGlyphs">0h</text>
<text x="593.00" y="424.50" font-size="9.40" font-weight="bold" text-anchor="middle" fill="#000" textLength="10.15" lengthAdjust="spacingAndGlyphs">2h</text>
<text x="640.30" y="424.50" font-size="9.40" font-weight="bold" text-anchor="middle" fill="#000" textLength="14.99" lengthAdjust="spacingAndGlyphs">10h</text>
<line x1="546.90" y1="413.00" x2="546.90" y2="415.80" stroke="#000" stroke-width="1.4"/>
<line x1="593.50" y1="413.00" x2="593.50" y2="415.80" stroke="#000" stroke-width="1.4"/>
<line x1="640.85" y1="413.00" x2="640.85" y2="415.80" stroke="#000" stroke-width="1.4"/>
<text x="505.70" y="365.40" font-size="9.40" font-weight="bold" text-anchor="middle" fill="#000" transform="rotate(-90 505.70 365.40)" textLength="50.59" lengthAdjust="spacingAndGlyphs">Tail moment</text>
<path d="M575.30 327.50V324.90H600.10V327.50" fill="none" stroke="#000" stroke-width="1.1"/>
<text x="587.70" y="325.94" font-size="8.64" font-weight="bold" text-anchor="middle" fill="#000" textLength="6.23" lengthAdjust="spacingAndGlyphs">**</text>
<path d="M575.60 332.90V330.30H589.60V332.90" fill="none" stroke="#000" stroke-width="1.1"/>
<text x="582.60" y="331.34" font-size="8.64" font-weight="bold" text-anchor="middle" fill="#000" textLength="3.11" lengthAdjust="spacingAndGlyphs">*</text>
<path d="M595.70 362.60V360.00H609.60V362.60" fill="none" stroke="#000" stroke-width="1.1"/>
<text x="602.65" y="358.30" font-size="8.42" font-weight="bold" text-anchor="middle" fill="#000" textLength="9.10" lengthAdjust="spacingAndGlyphs">ns</text>
<path d="M622.00 326.40V323.80H646.50V326.40" fill="none" stroke="#000" stroke-width="1.1"/>
<text x="634.25" y="324.84" font-size="8.64" font-weight="bold" text-anchor="middle" fill="#000" textLength="6.23" lengthAdjust="spacingAndGlyphs">**</text>
<path d="M623.20 332.20V329.60H636.60V332.20" fill="none" stroke="#000" stroke-width="1.1"/>
<text x="629.90" y="330.64" font-size="8.64" font-weight="bold" text-anchor="middle" fill="#000" textLength="6.23" lengthAdjust="spacingAndGlyphs">**</text>
<path d="M641.70 365.00V362.40H655.60V365.00" fill="none" stroke="#000" stroke-width="1.1"/>
<text x="648.65" y="363.44" font-size="8.64" font-weight="bold" text-anchor="middle" fill="#000" textLength="6.23" lengthAdjust="spacingAndGlyphs">**</text>
<text x="311.00" y="23.20" font-size="10.26" font-weight="bold" text-anchor="middle" fill="#000" textLength="11.09" lengthAdjust="spacingAndGlyphs">0h</text>
<line x1="285.70" y1="27.00" x2="334.00" y2="27.00" stroke="#000" stroke-width="1.3"/>
<text x="364.00" y="23.20" font-size="10.26" font-weight="bold" text-anchor="middle" fill="#000" textLength="16.37" lengthAdjust="spacingAndGlyphs">12h</text>
<line x1="341.80" y1="27.00" x2="389.20" y2="27.00" stroke="#000" stroke-width="1.3"/>
<text x="422.00" y="23.20" font-size="10.26" font-weight="bold" text-anchor="middle" fill="#000" textLength="16.37" lengthAdjust="spacingAndGlyphs">24h</text>
<line x1="397.40" y1="27.00" x2="445.00" y2="27.00" stroke="#000" stroke-width="1.3"/>
<text x="281.80" y="35.40" font-size="10.26" font-weight="bold" text-anchor="end" fill="#000" textLength="60.17" lengthAdjust="spacingAndGlyphs">FLAG-UBE2T</text>
<text x="281.80" y="45.60" font-size="10.26" font-weight="bold" text-anchor="end" fill="#000" textLength="33.79" lengthAdjust="spacingAndGlyphs">siCHK1</text>
<path d="M288.00 33.00H290.60" stroke="#000" stroke-width="1.05"/>
<path d="M288.00 42.10H290.60" stroke="#000" stroke-width="1.05"/>
<path d="M300.30 33.00H303.90M302.10 31.20V34.80" stroke="#000" stroke-width="1.05"/>
<path d="M300.80 42.10H303.40" stroke="#000" stroke-width="1.05"/>
<path d="M314.20 33.00H316.80" stroke="#000" stroke-width="1.05"/>
<path d="M313.70 42.10H317.30M315.50 40.30V43.90" stroke="#000" stroke-width="1.05"/>
<path d="M328.70 33.00H332.30M330.50 31.20V34.80" stroke="#000" stroke-width="1.05"/>
<path d="M328.70 42.10H332.30M330.50 40.30V43.90" stroke="#000" stroke-width="1.05"/>
<path d="M342.60 33.00H345.20" stroke="#000" stroke-width="1.05"/>
<path d="M342.60 42.10H345.20" stroke="#000" stroke-width="1.05"/>
<path d="M355.20 33.00H358.80M357.00 31.20V34.80" stroke="#000" stroke-width="1.05"/>
<path d="M355.70 42.10H358.30" stroke="#000" stroke-width="1.05"/>
<path d="M369.20 33.00H371.80" stroke="#000" stroke-width="1.05"/>
<path d="M368.70 42.10H372.30M370.50 40.30V43.90" stroke="#000" stroke-width="1.05"/>
<path d="M383.20 33.00H386.80M385.00 31.20V34.80" stroke="#000" stroke-width="1.05"/>
<path d="M383.20 42.10H386.80M385.00 40.30V43.90" stroke="#000" stroke-width="1.05"/>
<path d="M398.70 33.00H401.30" stroke="#000" stroke-width="1.05"/>
<path d="M398.70 42.10H401.30" stroke="#000" stroke-width="1.05"/>
<path d="M411.20 33.00H414.80M413.00 31.20V34.80" stroke="#000" stroke-width="1.05"/>
<path d="M411.70 42.10H414.30" stroke="#000" stroke-width="1.05"/>
<path d="M425.20 33.00H427.80" stroke="#000" stroke-width="1.05"/>
<path d="M424.70 42.10H428.30M426.50 40.30V43.90" stroke="#000" stroke-width="1.05"/>
<path d="M439.60 33.00H443.20M441.40 31.20V34.80" stroke="#000" stroke-width="1.05"/>
<path d="M439.60 42.10H443.20M441.40 40.30V43.90" stroke="#000" stroke-width="1.05"/>
<text x="281.50" y="58.20" font-size="10.26" font-weight="bold" text-anchor="end" fill="#000" textLength="30.63" lengthAdjust="spacingAndGlyphs">γH2AX</text>
<text x="281.50" y="75.80" font-size="10.26" font-weight="bold" text-anchor="end" fill="#000" textLength="25.87" lengthAdjust="spacingAndGlyphs">CHK1</text>
<text x="281.50" y="98.40" font-size="10.26" font-weight="bold" text-anchor="end" fill="#000" textLength="31.15" lengthAdjust="spacingAndGlyphs">UBE2T</text>
<text x="281.50" y="121.20" font-size="10.26" font-weight="bold" text-anchor="end" fill="#000" textLength="34.31" lengthAdjust="spacingAndGlyphs">GAPDH</text>
<clipPath id="cp1"><rect x="285.3" y="47.5" width="158.5" height="13.799999999999997"/></clipPath>
<rect x="285.30" y="47.50" width="158.50" height="13.80" fill="url(#gb)"/>
<g clip-path="url(#cp1)">
<ellipse cx="317.80" cy="54.60" rx="5.20" ry="1.45" fill="#1e1e1e" opacity="0.28" filter="url(#bl2)"/>
<ellipse cx="330.80" cy="54.60" rx="5.12" ry="1.38" fill="#1e1e1e" opacity="0.24" filter="url(#bl2)"/>
<ellipse cx="344.50" cy="54.60" rx="5.20" ry="1.45" fill="#1e1e1e" opacity="0.28" filter="url(#bl2)"/>
<ellipse cx="358.20" cy="54.60" rx="5.42" ry="1.68" fill="#1e1e1e" opacity="0.43" filter="url(#bl2)"/>
<ellipse cx="369.50" cy="54.60" rx="6.25" ry="2.50" fill="#1e1e1e" opacity="0.95" filter="url(#bl2)"/>
<ellipse cx="382.00" cy="54.60" rx="5.80" ry="2.05" fill="#1e1e1e" opacity="0.66" filter="url(#bl2)"/>
<ellipse cx="396.00" cy="54.60" rx="4.97" ry="1.23" fill="#1e1e1e" opacity="0.14" filter="url(#bl2)"/>
<ellipse cx="409.20" cy="54.60" rx="5.20" ry="1.45" fill="#1e1e1e" opacity="0.28" filter="url(#bl2)"/>
<ellipse cx="423.00" cy="54.60" rx="6.10" ry="2.35" fill="#1e1e1e" opacity="0.85" filter="url(#bl2)"/>
<ellipse cx="436.50" cy="54.60" rx="5.20" ry="1.45" fill="#1e1e1e" opacity="0.28" filter="url(#bl2)"/>
</g>
<rect x="286.10" y="48.30" width="156.90" height="12.20" fill="none" stroke="#141414" stroke-width="1.6"/>
<clipPath id="cp2"><rect x="285.3" y="66.1" width="158.5" height="12.900000000000006"/></clipPath>
<rect x="285.30" y="66.10" width="158.50" height="12.90" fill="url(#gb)"/>
<g clip-path="url(#cp2)">
<ellipse cx="292.80" cy="72.60" rx="5.25" ry="1.60" fill="#1e1e1e" opacity="0.90" filter="url(#bl2)"/>
<ellipse cx="305.80" cy="72.60" rx="5.25" ry="1.60" fill="#1e1e1e" opacity="0.85" filter="url(#bl2)"/>
<ellipse cx="330.80" cy="72.60" rx="5.25" ry="1.60" fill="#1e1e1e" opacity="0.33" filter="url(#bl2)"/>
<ellipse cx="344.50" cy="72.60" rx="5.25" ry="1.60" fill="#1e1e1e" opacity="0.66" filter="url(#bl2)"/>
<ellipse cx="358.20" cy="72.60" rx="5.25" ry="1.60" fill="#1e1e1e" opacity="0.81" filter="url(#bl2)"/>
<ellipse cx="396.00" cy="72.60" rx="5.25" ry="1.60" fill="#1e1e1e" opacity="0.71" filter="url(#bl2)"/>
<ellipse cx="409.20" cy="72.60" rx="5.25" ry="1.60" fill="#1e1e1e" opacity="0.81" filter="url(#bl2)"/>
<ellipse cx="423.00" cy="72.60" rx="5.25" ry="1.60" fill="#1e1e1e" opacity="0.57" filter="url(#bl2)"/>
<ellipse cx="436.50" cy="72.60" rx="5.25" ry="1.60" fill="#1e1e1e" opacity="0.43" filter="url(#bl2)"/>
</g>
<rect x="286.10" y="66.90" width="156.90" height="11.30" fill="none" stroke="#141414" stroke-width="1.6"/>
<clipPath id="cp3"><rect x="285.3" y="82.1" width="158.5" height="24.200000000000003"/></clipPath>
<rect x="285.30" y="82.10" width="158.50" height="24.20" fill="url(#gb)"/>
<g clip-path="url(#cp3)">
<ellipse cx="305.80" cy="89.40" rx="5.25" ry="2.10" fill="#1e1e1e" opacity="0.85" filter="url(#bl2)"/>
<ellipse cx="330.80" cy="89.40" rx="5.25" ry="2.10" fill="#1e1e1e" opacity="0.85" filter="url(#bl2)"/>
<ellipse cx="358.20" cy="89.40" rx="5.25" ry="2.10" fill="#1e1e1e" opacity="0.85" filter="url(#bl2)"/>
<ellipse cx="382.00" cy="89.40" rx="5.25" ry="2.10" fill="#1e1e1e" opacity="0.85" filter="url(#bl2)"/>
<ellipse cx="409.20" cy="89.40" rx="5.25" ry="2.10" fill="#1e1e1e" opacity="0.85" filter="url(#bl2)"/>
<ellipse cx="436.50" cy="89.40" rx="5.25" ry="2.10" fill="#1e1e1e" opacity="0.90" filter="url(#bl2)"/>
<ellipse cx="292.80" cy="100.90" rx="5.25" ry="1.86" fill="#1e1e1e" opacity="0.57" filter="url(#bl2)"/>
<ellipse cx="305.80" cy="100.90" rx="5.25" ry="2.08" fill="#1e1e1e" opacity="0.76" filter="url(#bl2)"/>
<ellipse cx="317.80" cy="100.90" rx="5.25" ry="1.86" fill="#1e1e1e" opacity="0.57" filter="url(#bl2)"/>
<ellipse cx="330.80" cy="100.90" rx="5.25" ry="2.19" fill="#1e1e1e" opacity="0.85" filter="url(#bl2)"/>
<ellipse cx="344.50" cy="100.90" rx="5.25" ry="1.70" fill="#1e1e1e" opacity="0.43" filter="url(#bl2)"/>
<ellipse cx="358.20" cy="100.90" rx="5.25" ry="2.19" fill="#1e1e1e" opacity="0.85" filter="url(#bl2)"/>
<ellipse cx="369.50" cy="100.90" rx="5.25" ry="1.97" fill="#1e1e1e" opacity="0.66" filter="url(#bl2)"/>
<ellipse cx="382.00" cy="100.90" rx="5.25" ry="1.86" fill="#1e1e1e" opacity="0.57" filter="url(#bl2)"/>
<ellipse cx="396.00" cy="100.90" rx="5.25" ry="1.75" fill="#1e1e1e" opacity="0.47" filter="url(#bl2)"/>
<ellipse cx="409.20" cy="100.90" rx="5.25" ry="2.19" fill="#1e1e1e" opacity="0.85" filter="url(#bl2)"/>
<ellipse cx="423.00" cy="100.90" rx="5.25" ry="1.53" fill="#1e1e1e" opacity="0.28" filter="url(#bl2)"/>
<ellipse cx="436.50" cy="100.90" rx="5.25" ry="2.19" fill="#1e1e1e" opacity="0.85" filter="url(#bl2)"/>
</g>
<rect x="286.10" y="82.90" width="156.90" height="22.60" fill="none" stroke="#141414" stroke-width="1.6"/>
<clipPath id="cp4"><rect x="285.3" y="110.9" width="158.5" height="14.5"/></clipPath>
<rect x="285.30" y="110.90" width="158.50" height="14.50" fill="url(#gb)"/>
<g clip-path="url(#cp4)">
<rect x="284" y="115.6" width="162" height="5.2" rx="2.2" fill="#2e2e2e" filter="url(#bl2)"/>
<ellipse cx="292.80" cy="118.20" rx="6.25" ry="2.90" fill="#1e1e1e" opacity="0.75" filter="url(#bl)"/>
<ellipse cx="305.80" cy="118.20" rx="6.25" ry="2.90" fill="#1e1e1e" opacity="0.75" filter="url(#bl)"/>
<ellipse cx="317.80" cy="118.20" rx="6.25" ry="2.90" fill="#1e1e1e" opacity="0.75" filter="url(#bl)"/>
<ellipse cx="330.80" cy="118.20" rx="6.25" ry="2.90" fill="#1e1e1e" opacity="0.75" filter="url(#bl)"/>
<ellipse cx="344.50" cy="118.20" rx="6.25" ry="2.90" fill="#1e1e1e" opacity="0.75" filter="url(#bl)"/>
<ellipse cx="358.20" cy="118.20" rx="6.25" ry="2.90" fill="#1e1e1e" opacity="0.75" filter="url(#bl)"/>
<ellipse cx="369.50" cy="118.20" rx="6.25" ry="2.90" fill="#1e1e1e" opacity="0.75" filter="url(#bl)"/>
<ellipse cx="382.00" cy="118.20" rx="6.25" ry="2.90" fill="#1e1e1e" opacity="0.75" filter="url(#bl)"/>
<ellipse cx="396.00" cy="118.20" rx="6.25" ry="2.90" fill="#1e1e1e" opacity="0.75" filter="url(#bl)"/>
<ellipse cx="409.20" cy="118.20" rx="6.25" ry="2.90" fill="#1e1e1e" opacity="0.75" filter="url(#bl)"/>
<ellipse cx="423.00" cy="118.20" rx="6.25" ry="2.90" fill="#1e1e1e" opacity="0.75" filter="url(#bl)"/>
<ellipse cx="436.50" cy="118.20" rx="6.25" ry="2.90" fill="#1e1e1e" opacity="0.75" filter="url(#bl)"/>
</g>
<rect x="286.10" y="111.70" width="156.90" height="12.90" fill="none" stroke="#141414" stroke-width="1.6"/>
<line x1="443.60" y1="58.90" x2="446.50" y2="58.90" stroke="#000" stroke-width="0.7"/>
<text x="446.50" y="60.80" font-size="5.83" font-weight="normal" text-anchor="start" fill="#000" textLength="15.61" lengthAdjust="spacingAndGlyphs">15kDa</text>
<line x1="443.60" y1="71.80" x2="446.50" y2="71.80" stroke="#000" stroke-width="0.7"/>
<text x="446.50" y="73.70" font-size="5.83" font-weight="normal" text-anchor="start" fill="#000" textLength="15.61" lengthAdjust="spacingAndGlyphs">55kDa</text>
<line x1="443.60" y1="90.40" x2="446.50" y2="90.40" stroke="#000" stroke-width="0.7"/>
<text x="446.50" y="92.30" font-size="5.83" font-weight="normal" text-anchor="start" fill="#000" textLength="15.61" lengthAdjust="spacingAndGlyphs">25kDa</text>
<line x1="443.60" y1="112.20" x2="446.50" y2="112.20" stroke="#000" stroke-width="0.7"/>
<text x="446.50" y="114.10" font-size="5.83" font-weight="normal" text-anchor="start" fill="#000" textLength="15.61" lengthAdjust="spacingAndGlyphs">40kDa</text>
<text x="285.40" y="313.20" font-size="10.69" font-weight="bold" text-anchor="end" fill="#000" textLength="62.70" lengthAdjust="spacingAndGlyphs">FLAG-UBE2T</text>
<text x="284.80" y="325.80" font-size="11.02" font-weight="bold" text-anchor="end" fill="#000" textLength="36.27" lengthAdjust="spacingAndGlyphs">IR(4Gy)</text>
<text x="282.70" y="339.80" font-size="10.80" font-weight="bold" text-anchor="end" fill="#000" textLength="37.80" lengthAdjust="spacingAndGlyphs">MK8776</text>
<path d="M290.10 310.00H292.70" stroke="#000" stroke-width="1.05"/>
<path d="M290.10 323.10H292.70" stroke="#000" stroke-width="1.05"/>
<path d="M290.10 335.50H292.70" stroke="#000" stroke-width="1.05"/>
<text x="304.60" y="312.40" font-size="7.02" font-weight="bold" text-anchor="middle" fill="#000" textLength="9.39" lengthAdjust="spacingAndGlyphs">NC</text>
<path d="M303.30 323.10H305.90" stroke="#000" stroke-width="1.05"/>
<path d="M303.30 335.50H305.90" stroke="#000" stroke-width="1.05"/>
<path d="M317.00 310.00H321.00M319.00 308.00V312.00" stroke="#000" stroke-width="1.05"/>
<path d="M317.70 323.10H320.30" stroke="#000" stroke-width="1.05"/>
<path d="M317.70 335.50H320.30" stroke="#000" stroke-width="1.05"/>
<path d="M333.50 310.00H336.10" stroke="#000" stroke-width="1.05"/>
<path d="M333.50 323.10H336.10" stroke="#000" stroke-width="1.05"/>
<path d="M332.80 335.50H336.80M334.80 333.50V337.50" stroke="#000" stroke-width="1.05"/>
<text x="349.90" y="312.40" font-size="7.02" font-weight="bold" text-anchor="middle" fill="#000" textLength="9.39" lengthAdjust="spacingAndGlyphs">NC</text>
<path d="M348.60 323.10H351.20" stroke="#000" stroke-width="1.05"/>
<path d="M347.90 335.50H351.90M349.90 333.50V337.50" stroke="#000" stroke-width="1.05"/>
<path d="M360.80 310.00H364.80M362.80 308.00V312.00" stroke="#000" stroke-width="1.05"/>
<path d="M361.50 323.10H364.10" stroke="#000" stroke-width="1.05"/>
<path d="M360.80 335.50H364.80M362.80 333.50V337.50" stroke="#000" stroke-width="1.05"/>
<path d="M376.90 310.00H379.50" stroke="#000" stroke-width="1.05"/>
<path d="M376.20 323.10H380.20M378.20 321.10V325.10" stroke="#000" stroke-width="1.05"/>
<path d="M376.90 335.50H379.50" stroke="#000" stroke-width="1.05"/>
<text x="392.40" y="312.40" font-size="7.02" font-weight="bold" text-anchor="middle" fill="#000" textLength="9.39" lengthAdjust="spacingAndGlyphs">NC</text>
<path d="M390.40 323.10H394.40M392.40 321.10V325.10" stroke="#000" stroke-width="1.05"/>
<path d="M391.10 335.50H393.70" stroke="#000" stroke-width="1.05"/>
<path d="M403.80 310.00H407.80M405.80 308.00V312.00" stroke="#000" stroke-width="1.05"/>
<path d="M403.80 323.10H407.80M405.80 321.10V325.10" stroke="#000" stroke-width="1.05"/>
<path d="M404.50 335.50H407.10" stroke="#000" stroke-width="1.05"/>
<path d="M418.20 310.00H420.80" stroke="#000" stroke-width="1.05"/>
<path d="M417.50 323.10H421.50M419.50 321.10V325.10" stroke="#000" stroke-width="1.05"/>
<path d="M417.50 335.50H421.50M419.50 333.50V337.50" stroke="#000" stroke-width="1.05"/>
<text x="434.50" y="312.40" font-size="7.02" font-weight="bold" text-anchor="middle" fill="#000" textLength="9.39" lengthAdjust="spacingAndGlyphs">NC</text>
<path d="M432.50 323.10H436.50M434.50 321.10V325.10" stroke="#000" stroke-width="1.05"/>
<path d="M432.50 335.50H436.50M434.50 333.50V337.50" stroke="#000" stroke-width="1.05"/>
<path d="M446.30 310.00H450.30M448.30 308.00V312.00" stroke="#000" stroke-width="1.05"/>
<path d="M446.30 323.10H450.30M448.30 321.10V325.10" stroke="#000" stroke-width="1.05"/>
<path d="M446.30 335.50H450.30M448.30 333.50V337.50" stroke="#000" stroke-width="1.05"/>
<text x="280.20" y="354.40" font-size="11.23" font-weight="bold" text-anchor="end" fill="#000" textLength="33.53" lengthAdjust="spacingAndGlyphs">γH2AX</text>
<text x="280.20" y="381.60" font-size="10.80" font-weight="bold" text-anchor="end" fill="#000" textLength="32.78" lengthAdjust="spacingAndGlyphs">UBE2T</text>
<text x="280.20" y="403.10" font-size="10.80" font-weight="bold" text-anchor="end" fill="#000" textLength="31.69" lengthAdjust="spacingAndGlyphs">HSP70</text>
<clipPath id="cp5"><rect x="284.0" y="344.1" width="170.8" height="14.299999999999955"/></clipPath>
<rect x="284.00" y="344.10" width="170.80" height="14.30" fill="#d4d4d4"/>
<g clip-path="url(#cp5)">
<ellipse cx="333.40" cy="350.60" rx="6.25" ry="1.68" fill="#111" opacity="0.75" filter="url(#bl2)"/>
<ellipse cx="347.60" cy="350.60" rx="6.25" ry="1.73" fill="#111" opacity="0.85" filter="url(#bl2)"/>
<ellipse cx="361.80" cy="350.60" rx="6.25" ry="1.77" fill="#111" opacity="0.95" filter="url(#bl2)"/>
<ellipse cx="376.20" cy="350.60" rx="6.25" ry="1.58" fill="#111" opacity="0.55" filter="url(#bl2)"/>
<ellipse cx="390.20" cy="350.60" rx="6.25" ry="1.53" fill="#111" opacity="0.45" filter="url(#bl2)"/>
<ellipse cx="404.20" cy="350.60" rx="6.25" ry="1.41" fill="#111" opacity="0.22" filter="url(#bl2)"/>
<ellipse cx="418.60" cy="350.60" rx="6.25" ry="1.77" fill="#111" opacity="0.95" filter="url(#bl2)"/>
<ellipse cx="432.80" cy="350.60" rx="6.25" ry="1.75" fill="#111" opacity="0.90" filter="url(#bl2)"/>
<ellipse cx="447.00" cy="350.60" rx="6.25" ry="1.80" fill="#111" opacity="1.00" filter="url(#bl2)"/>
</g>
<rect x="284.80" y="344.90" width="169.20" height="12.70" fill="none" stroke="#141414" stroke-width="1.6"/>
<clipPath id="cp6"><rect x="284.0" y="362.9" width="170.8" height="25.30000000000001"/></clipPath>
<rect x="284.00" y="362.90" width="170.80" height="25.30" fill="#d0d0d0"/>
<g clip-path="url(#cp6)">
<ellipse cx="291.80" cy="381.30" rx="6.25" ry="2.92" fill="#111" opacity="0.85" filter="url(#bl2)"/>
<ellipse cx="305.00" cy="381.30" rx="6.25" ry="3.00" fill="#111" opacity="1.00" filter="url(#bl2)"/>
<ellipse cx="318.40" cy="381.30" rx="6.25" ry="3.00" fill="#111" opacity="1.00" filter="url(#bl2)"/>
<ellipse cx="333.40" cy="381.30" rx="6.25" ry="2.95" fill="#111" opacity="0.90" filter="url(#bl2)"/>
<ellipse cx="347.60" cy="381.30" rx="6.25" ry="2.98" fill="#111" opacity="0.95" filter="url(#bl2)"/>
<ellipse cx="361.80" cy="381.30" rx="6.25" ry="2.98" fill="#111" opacity="0.95" filter="url(#bl2)"/>
<ellipse cx="376.20" cy="381.30" rx="6.25" ry="2.88" fill="#111" opacity="0.75" filter="url(#bl2)"/>
<ellipse cx="390.20" cy="381.30" rx="6.25" ry="2.95" fill="#111" opacity="0.90" filter="url(#bl2)"/>
<ellipse cx="404.20" cy="381.30" rx="6.25" ry="3.00" fill="#111" opacity="1.00" filter="url(#bl2)"/>
<ellipse cx="418.60" cy="381.30" rx="6.25" ry="2.95" fill="#111" opacity="0.90" filter="url(#bl2)"/>
<ellipse cx="432.80" cy="381.30" rx="6.25" ry="2.92" fill="#111" opacity="0.85" filter="url(#bl2)"/>
<ellipse cx="447.00" cy="381.30" rx="6.25" ry="2.95" fill="#111" opacity="0.90" filter="url(#bl2)"/>
<rect x="312.40" y="366.50" width="12.0" height="11.50" rx="4" fill="#222" opacity="0.55" filter="url(#bl)"/>
<ellipse cx="318.40" cy="368.40" rx="6.25" ry="2.60" fill="#0a0a0a" opacity="1.00" filter="url(#bl)"/>
<rect x="355.80" y="366.50" width="12.0" height="11.50" rx="4" fill="#222" opacity="0.55" filter="url(#bl)"/>
<ellipse cx="361.80" cy="368.40" rx="6.25" ry="2.60" fill="#0a0a0a" opacity="1.00" filter="url(#bl)"/>
<rect x="398.20" y="367.40" width="12.0" height="10.00" rx="4" fill="#222" opacity="0.39" filter="url(#bl)"/>
<ellipse cx="404.20" cy="369.00" rx="6.25" ry="2.60" fill="#0a0a0a" opacity="0.70" filter="url(#bl)"/>
<rect x="441.00" y="368.15" width="12.0" height="8.75" rx="4" fill="#222" opacity="0.25" filter="url(#bl)"/>
<ellipse cx="447.00" cy="369.50" rx="6.25" ry="2.60" fill="#0a0a0a" opacity="0.45" filter="url(#bl)"/>
</g>
<rect x="284.80" y="363.70" width="169.20" height="23.70" fill="none" stroke="#141414" stroke-width="1.6"/>
<clipPath id="cp7"><rect x="284.0" y="393.3" width="170.8" height="14.5"/></clipPath>
<rect x="284.00" y="393.30" width="170.80" height="14.50" fill="#d0d0d0"/>
<g clip-path="url(#cp7)">
<ellipse cx="291.80" cy="401.40" rx="6.00" ry="1.90" fill="#111" opacity="0.95" filter="url(#bl2)"/>
<ellipse cx="305.00" cy="401.40" rx="6.00" ry="1.90" fill="#111" opacity="0.95" filter="url(#bl2)"/>
<ellipse cx="318.40" cy="401.40" rx="6.00" ry="1.90" fill="#111" opacity="0.95" filter="url(#bl2)"/>
<ellipse cx="333.40" cy="401.40" rx="6.00" ry="1.90" fill="#111" opacity="0.95" filter="url(#bl2)"/>
<ellipse cx="347.60" cy="401.40" rx="6.00" ry="1.90" fill="#111" opacity="0.95" filter="url(#bl2)"/>
<ellipse cx="361.80" cy="401.40" rx="6.00" ry="1.90" fill="#111" opacity="0.95" filter="url(#bl2)"/>
<ellipse cx="376.20" cy="401.40" rx="6.00" ry="1.90" fill="#111" opacity="0.95" filter="url(#bl2)"/>
<ellipse cx="390.20" cy="401.40" rx="6.00" ry="1.90" fill="#111" opacity="0.95" filter="url(#bl2)"/>
<ellipse cx="404.20" cy="401.40" rx="6.00" ry="1.90" fill="#111" opacity="0.95" filter="url(#bl2)"/>
<ellipse cx="418.60" cy="401.40" rx="6.00" ry="1.90" fill="#111" opacity="0.95" filter="url(#bl2)"/>
<ellipse cx="432.80" cy="401.40" rx="6.00" ry="1.90" fill="#111" opacity="0.95" filter="url(#bl2)"/>
<ellipse cx="447.00" cy="401.40" rx="6.00" ry="1.90" fill="#111" opacity="0.95" filter="url(#bl2)"/>
<ellipse cx="288.50" cy="405.80" rx="3.50" ry="0.90" fill="#111" opacity="0.90" filter="url(#bl2)"/>
</g>
<rect x="284.80" y="394.10" width="169.20" height="12.90" fill="none" stroke="#141414" stroke-width="1.6"/>
<line x1="454.80" y1="355.60" x2="457.00" y2="355.60" stroke="#000" stroke-width="0.7"/>
<text x="457.00" y="357.60" font-size="6.26" font-weight="normal" text-anchor="start" fill="#000" textLength="16.77" lengthAdjust="spacingAndGlyphs">15kDa</text>
<line x1="454.80" y1="368.30" x2="457.00" y2="368.30" stroke="#000" stroke-width="0.7"/>
<text x="457.00" y="370.30" font-size="6.26" font-weight="normal" text-anchor="start" fill="#000" textLength="16.77" lengthAdjust="spacingAndGlyphs">55kDa</text>
<line x1="454.80" y1="400.50" x2="457.00" y2="400.50" stroke="#000" stroke-width="0.7"/>
<text x="457.00" y="402.50" font-size="6.26" font-weight="normal" text-anchor="start" fill="#000" textLength="16.77" lengthAdjust="spacingAndGlyphs">70kDa</text>
<text x="137.00" y="159.50" font-size="8.64" font-weight="bold" text-anchor="middle" fill="#000" textLength="28.44" lengthAdjust="spacingAndGlyphs">Control</text>
<text x="365.20" y="159.50" font-size="8.64" font-weight="bold" text-anchor="middle" fill="#000" textLength="26.23" lengthAdjust="spacingAndGlyphs">UBE2T</text>
<line x1="31.30" y1="163.40" x2="247.60" y2="163.40" stroke="#000" stroke-width="1.2"/>
<line x1="258.40" y1="163.40" x2="474.20" y2="163.40" stroke="#000" stroke-width="1.2"/>
<text x="52.70" y="173.20" font-size="8.64" font-weight="bold" text-anchor="middle" fill="#000" textLength="15.12" lengthAdjust="spacingAndGlyphs">0Gy</text>
<text x="278.70" y="173.20" font-size="8.64" font-weight="bold" text-anchor="middle" fill="#000" textLength="15.12" lengthAdjust="spacingAndGlyphs">0Gy</text>
<text x="95.40" y="173.20" font-size="8.64" font-weight="bold" text-anchor="middle" fill="#000" textLength="15.12" lengthAdjust="spacingAndGlyphs">2Gy</text>
<text x="321.60" y="173.20" font-size="8.64" font-weight="bold" text-anchor="middle" fill="#000" textLength="15.12" lengthAdjust="spacingAndGlyphs">2Gy</text>
<text x="138.20" y="173.20" font-size="8.64" font-weight="bold" text-anchor="middle" fill="#000" textLength="15.12" lengthAdjust="spacingAndGlyphs">4Gy</text>
<text x="364.50" y="173.20" font-size="8.64" font-weight="bold" text-anchor="middle" fill="#000" textLength="15.12" lengthAdjust="spacingAndGlyphs">4Gy</text>
<text x="180.50" y="173.20" font-size="8.64" font-weight="bold" text-anchor="middle" fill="#000" textLength="15.12" lengthAdjust="spacingAndGlyphs">6Gy</text>
<text x="407.00" y="173.20" font-size="8.64" font-weight="bold" text-anchor="middle" fill="#000" textLength="15.12" lengthAdjust="spacingAndGlyphs">6Gy</text>
<text x="223.50" y="173.20" font-size="8.64" font-weight="bold" text-anchor="middle" fill="#000" textLength="15.12" lengthAdjust="spacingAndGlyphs">8Gy</text>
<text x="449.80" y="173.20" font-size="8.64" font-weight="bold" text-anchor="middle" fill="#000" textLength="15.12" lengthAdjust="spacingAndGlyphs">8Gy</text>
<text x="30.40" y="200.00" font-size="8.86" font-weight="bold" text-anchor="middle" fill="#000" transform="rotate(-90 30.40 200.00)" textLength="34.63" lengthAdjust="spacingAndGlyphs">-shCHK1</text>
<text x="30.40" y="243.20" font-size="8.86" font-weight="bold" text-anchor="middle" fill="#000" transform="rotate(-90 30.40 243.20)" textLength="36.68" lengthAdjust="spacingAndGlyphs">+shCHK1</text>
<rect x="32.40" y="177.80" width="39.00" height="39.30" fill="#9f9592"/>
<circle cx="51.90" cy="197.45" r="18.20" fill="#a49aa6"/>
<circle cx="51.90" cy="197.45" r="18.20" fill="none" stroke="#8a82b6" stroke-width="1.1" opacity="0.75"/>
<circle cx="51.90" cy="197.45" r="16.00" fill="none" stroke="#8a82b6" stroke-width="0.8" opacity="0.35"/>
<path d="M60.09 181.43 A17.40 17.40 0 0 1 66.46 187.44" stroke="#e6e2ee" stroke-width="1" fill="none" opacity="0.55"/>
<path d="M38.80 190.17 A17.20 17.20 0 0 0 38.80 204.73" stroke="#cfc8e8" stroke-width="0.8" fill="none" opacity="0.3"/>
<g fill="#54449a"><circle cx="45.5" cy="193.9" r="0.57" opacity="0.56"/><circle cx="47.9" cy="190.8" r="0.36" opacity="0.66"/><circle cx="55.8" cy="213.4" r="0.32" opacity="0.39"/><circle cx="53.2" cy="187.4" r="0.43" opacity="0.64"/><circle cx="45.6" cy="201.8" r="0.42" opacity="0.40"/><circle cx="58.0" cy="185.1" r="0.49" opacity="0.53"/><circle cx="44.0" cy="204.9" r="0.41" opacity="0.35"/><circle cx="40.0" cy="200.2" r="0.70" opacity="0.67"/><circle cx="64.4" cy="198.2" r="0.64" opacity="0.43"/><circle cx="57.8" cy="200.1" r="0.49" opacity="0.51"/><circle cx="45.3" cy="188.0" r="0.44" opacity="0.49"/><circle cx="61.4" cy="187.3" r="0.79" opacity="0.39"/><circle cx="61.5" cy="199.4" r="0.56" opacity="0.73"/><circle cx="62.2" cy="207.0" r="0.52" opacity="0.71"/><circle cx="56.4" cy="202.9" r="0.52" opacity="0.75"/><circle cx="37.0" cy="202.6" r="0.34" opacity="0.75"/><circle cx="49.6" cy="201.2" r="0.45" opacity="0.51"/><circle cx="60.1" cy="200.6" r="0.53" opacity="0.77"/><circle cx="51.9" cy="205.0" r="0.33" opacity="0.76"/><circle cx="49.7" cy="202.1" r="0.48" opacity="0.36"/><circle cx="41.5" cy="186.0" r="0.43" opacity="0.71"/><circle cx="52.5" cy="206.2" r="0.48" opacity="0.59"/><circle cx="43.7" cy="211.4" r="0.38" opacity="0.75"/><circle cx="48.7" cy="199.7" r="0.36" opacity="0.42"/><circle cx="59.0" cy="204.2" r="0.40" opacity="0.65"/><circle cx="45.7" cy="185.0" r="0.40" opacity="0.60"/><circle cx="60.5" cy="206.3" r="0.39" opacity="0.68"/><circle cx="52.5" cy="208.4" r="0.43" opacity="0.37"/></g>
<rect x="32.40" y="177.80" width="39.00" height="39.30" fill="none" stroke="#151515" stroke-width="1.5"/>
<rect x="75.70" y="177.80" width="39.00" height="39.30" fill="#9f9592"/>
<circle cx="95.20" cy="197.45" r="18.20" fill="#a49aa6"/>
<circle cx="95.20" cy="197.45" r="18.20" fill="none" stroke="#8a82b6" stroke-width="1.1" opacity="0.75"/>
<circle cx="95.20" cy="197.45" r="16.00" fill="none" stroke="#8a82b6" stroke-width="0.8" opacity="0.35"/>
<path d="M103.39 181.43 A17.40 17.40 0 0 1 109.76 187.44" stroke="#e6e2ee" stroke-width="1" fill="none" opacity="0.55"/>
<path d="M82.10 190.17 A17.20 17.20 0 0 0 82.10 204.73" stroke="#cfc8e8" stroke-width="0.8" fill="none" opacity="0.3"/>
<g fill="#54449a"><circle cx="103.0" cy="208.0" r="0.35" opacity="0.62"/><circle cx="85.4" cy="206.2" r="0.76" opacity="0.59"/><circle cx="86.4" cy="189.2" r="0.55" opacity="0.52"/><circle cx="96.1" cy="203.4" r="0.53" opacity="0.62"/><circle cx="84.2" cy="201.7" r="0.36" opacity="0.42"/><circle cx="85.6" cy="188.3" r="0.49" opacity="0.39"/><circle cx="88.3" cy="209.5" r="0.44" opacity="0.54"/><circle cx="82.4" cy="206.9" r="0.35" opacity="0.61"/><circle cx="87.7" cy="189.4" r="0.46" opacity="0.65"/><circle cx="106.8" cy="187.7" r="0.48" opacity="0.78"/><circle cx="82.7" cy="201.8" r="0.54" opacity="0.53"/><circle cx="94.6" cy="184.5" r="0.56" opacity="0.59"/><circle cx="107.2" cy="195.5" r="0.41" opacity="0.77"/><circle cx="97.3" cy="201.4" r="0.54" opacity="0.52"/><circle cx="94.8" cy="211.3" r="0.56" opacity="0.55"/><circle cx="91.1" cy="190.8" r="0.42" opacity="0.57"/><circle cx="95.8" cy="202.2" r="0.41" opacity="0.40"/><circle cx="101.5" cy="206.2" r="0.39" opacity="0.54"/><circle cx="95.5" cy="204.7" r="0.38" opacity="0.44"/><circle cx="80.6" cy="200.7" r="0.53" opacity="0.73"/><circle cx="90.2" cy="191.2" r="0.33" opacity="0.71"/><circle cx="83.4" cy="207.2" r="0.57" opacity="0.56"/><circle cx="104.0" cy="197.9" r="0.36" opacity="0.67"/><circle cx="107.6" cy="190.8" r="0.57" opacity="0.56"/></g>
<rect x="75.70" y="177.80" width="39.00" height="39.30" fill="none" stroke="#151515" stroke-width="1.5"/>
<rect x="119.90" y="177.80" width="39.00" height="39.30" fill="#9f9592"/>
<circle cx="139.40" cy="197.45" r="18.20" fill="#a49aa6"/>
<circle cx="139.40" cy="197.45" r="18.20" fill="none" stroke="#8a82b6" stroke-width="1.1" opacity="0.75"/>
<circle cx="139.40" cy="197.45" r="16.00" fill="none" stroke="#8a82b6" stroke-width="0.8" opacity="0.35"/>
<path d="M147.59 181.43 A17.40 17.40 0 0 1 153.96 187.44" stroke="#e6e2ee" stroke-width="1" fill="none" opacity="0.55"/>
<path d="M126.30 190.17 A17.20 17.20 0 0 0 126.30 204.73" stroke="#cfc8e8" stroke-width="0.8" fill="none" opacity="0.3"/>
<g fill="#54449a"><circle cx="150.6" cy="196.0" r="0.50" opacity="0.45"/><circle cx="150.8" cy="203.6" r="0.33" opacity="0.75"/><circle cx="143.4" cy="193.3" r="0.32" opacity="0.72"/><circle cx="147.2" cy="198.7" r="0.33" opacity="0.59"/><circle cx="143.7" cy="207.2" r="0.51" opacity="0.54"/><circle cx="142.2" cy="185.1" r="0.53" opacity="0.52"/><circle cx="125.2" cy="189.6" r="0.47" opacity="0.46"/><circle cx="137.9" cy="205.1" r="0.58" opacity="0.75"/><circle cx="125.6" cy="194.9" r="0.38" opacity="0.42"/><circle cx="132.0" cy="201.5" r="0.33" opacity="0.39"/><circle cx="144.8" cy="184.6" r="0.33" opacity="0.80"/><circle cx="151.9" cy="196.4" r="0.52" opacity="0.48"/><circle cx="127.1" cy="193.5" r="0.41" opacity="0.55"/><circle cx="139.4" cy="193.2" r="0.72" opacity="0.64"/><circle cx="148.0" cy="188.6" r="0.46" opacity="0.45"/><circle cx="129.8" cy="205.8" r="0.48" opacity="0.56"/><circle cx="133.4" cy="208.3" r="0.49" opacity="0.66"/><circle cx="146.5" cy="187.5" r="0.57" opacity="0.76"/><circle cx="143.6" cy="206.6" r="0.83" opacity="0.63"/><circle cx="150.6" cy="185.7" r="0.49" opacity="0.50"/><circle cx="136.5" cy="194.3" r="0.31" opacity="0.63"/><circle cx="145.1" cy="206.8" r="0.38" opacity="0.48"/></g>
<rect x="119.90" y="177.80" width="39.00" height="39.30" fill="none" stroke="#151515" stroke-width="1.5"/>
<rect x="163.90" y="177.80" width="39.00" height="39.30" fill="#9f9592"/>
<circle cx="183.40" cy="197.45" r="18.20" fill="#a49aa6"/>
<circle cx="183.40" cy="197.45" r="18.20" fill="none" stroke="#8a82b6" stroke-width="1.1" opacity="0.75"/>
<circle cx="183.40" cy="197.45" r="16.00" fill="none" stroke="#8a82b6" stroke-width="0.8" opacity="0.35"/>
<path d="M191.59 181.43 A17.40 17.40 0 0 1 197.96 187.44" stroke="#e6e2ee" stroke-width="1" fill="none" opacity="0.55"/>
<path d="M170.30 190.17 A17.20 17.20 0 0 0 170.30 204.73" stroke="#cfc8e8" stroke-width="0.8" fill="none" opacity="0.3"/>
<g fill="#54449a"><circle cx="198.5" cy="193.6" r="0.50" opacity="0.50"/><circle cx="180.0" cy="182.8" r="0.30" opacity="0.75"/><circle cx="193.4" cy="206.6" r="0.39" opacity="0.74"/><circle cx="174.3" cy="192.3" r="0.39" opacity="0.63"/><circle cx="173.8" cy="203.6" r="0.45" opacity="0.43"/><circle cx="178.6" cy="195.2" r="0.47" opacity="0.72"/><circle cx="183.2" cy="208.2" r="0.56" opacity="0.80"/><circle cx="188.1" cy="212.0" r="0.31" opacity="0.71"/><circle cx="170.7" cy="193.5" r="0.56" opacity="0.43"/><circle cx="180.1" cy="197.0" r="0.41" opacity="0.42"/><circle cx="180.0" cy="194.0" r="0.64" opacity="0.72"/><circle cx="183.6" cy="201.9" r="0.47" opacity="0.63"/><circle cx="171.7" cy="193.9" r="0.50" opacity="0.73"/><circle cx="178.1" cy="182.9" r="0.55" opacity="0.58"/><circle cx="169.2" cy="195.4" r="0.76" opacity="0.76"/><circle cx="187.1" cy="208.5" r="0.43" opacity="0.61"/><circle cx="170.7" cy="189.4" r="0.47" opacity="0.60"/><circle cx="196.3" cy="194.1" r="0.84" opacity="0.66"/><circle cx="185.0" cy="204.0" r="0.39" opacity="0.39"/><circle cx="185.3" cy="205.2" r="0.37" opacity="0.39"/></g>
<rect x="163.90" y="177.80" width="39.00" height="39.30" fill="none" stroke="#151515" stroke-width="1.5"/>
<rect x="207.70" y="177.80" width="39.00" height="39.30" fill="#9f9592"/>
<circle cx="227.20" cy="197.45" r="18.20" fill="#a49aa6"/>
<circle cx="227.20" cy="197.45" r="18.20" fill="none" stroke="#8a82b6" stroke-width="1.1" opacity="0.75"/>
<circle cx="227.20" cy="197.45" r="16.00" fill="none" stroke="#8a82b6" stroke-width="0.8" opacity="0.35"/>
<path d="M235.39 181.43 A17.40 17.40 0 0 1 241.76 187.44" stroke="#e6e2ee" stroke-width="1" fill="none" opacity="0.55"/>
<path d="M214.10 190.17 A17.20 17.20 0 0 0 214.10 204.73" stroke="#cfc8e8" stroke-width="0.8" fill="none" opacity="0.3"/>
<g fill="#54449a"><circle cx="234.3" cy="190.6" r="0.52" opacity="0.49"/><circle cx="228.3" cy="187.9" r="0.35" opacity="0.69"/><circle cx="235.3" cy="208.3" r="0.40" opacity="0.54"/><circle cx="218.6" cy="204.9" r="0.55" opacity="0.45"/><circle cx="240.2" cy="196.5" r="0.57" opacity="0.59"/><circle cx="227.1" cy="213.5" r="0.58" opacity="0.40"/><circle cx="233.7" cy="184.4" r="0.55" opacity="0.79"/><circle cx="226.3" cy="187.0" r="0.45" opacity="0.69"/><circle cx="216.6" cy="186.6" r="0.44" opacity="0.78"/><circle cx="231.4" cy="181.9" r="0.50" opacity="0.54"/><circle cx="225.0" cy="205.7" r="0.34" opacity="0.57"/><circle cx="230.4" cy="182.2" r="0.57" opacity="0.36"/><circle cx="228.6" cy="201.2" r="0.54" opacity="0.68"/><circle cx="215.0" cy="201.3" r="0.54" opacity="0.38"/><circle cx="220.6" cy="190.0" r="0.57" opacity="0.46"/><circle cx="236.7" cy="192.4" r="0.32" opacity="0.76"/><circle cx="220.4" cy="197.8" r="0.54" opacity="0.46"/><circle cx="242.3" cy="201.7" r="0.37" opacity="0.51"/></g>
<rect x="207.70" y="177.80" width="39.00" height="39.30" fill="none" stroke="#151515" stroke-width="1.5"/>
<rect x="258.80" y="177.80" width="39.00" height="39.30" fill="#9f9592"/>
<circle cx="278.30" cy="197.45" r="18.20" fill="#a49aa6"/>
<circle cx="278.30" cy="197.45" r="18.20" fill="none" stroke="#8a82b6" stroke-width="1.1" opacity="0.75"/>
<circle cx="278.30" cy="197.45" r="16.00" fill="none" stroke="#8a82b6" stroke-width="0.8" opacity="0.35"/>
<path d="M286.49 181.43 A17.40 17.40 0 0 1 292.86 187.44" stroke="#e6e2ee" stroke-width="1" fill="none" opacity="0.55"/>
<path d="M265.20 190.17 A17.20 17.20 0 0 0 265.20 204.73" stroke="#cfc8e8" stroke-width="0.8" fill="none" opacity="0.3"/>
<g fill="#54449a"><circle cx="274.4" cy="182.1" r="0.30" opacity="0.72"/><circle cx="292.4" cy="202.7" r="0.53" opacity="0.79"/><circle cx="270.9" cy="205.9" r="0.48" opacity="0.69"/><circle cx="276.3" cy="208.9" r="0.34" opacity="0.57"/><circle cx="287.1" cy="201.9" r="0.53" opacity="0.55"/><circle cx="292.2" cy="200.8" r="0.33" opacity="0.69"/><circle cx="266.7" cy="201.9" r="0.47" opacity="0.54"/><circle cx="281.9" cy="202.6" r="0.36" opacity="0.49"/><circle cx="284.3" cy="192.6" r="0.34" opacity="0.41"/><circle cx="286.1" cy="183.1" r="0.51" opacity="0.60"/><circle cx="268.4" cy="200.5" r="0.48" opacity="0.59"/><circle cx="267.8" cy="206.2" r="0.54" opacity="0.41"/><circle cx="266.4" cy="189.5" r="0.45" opacity="0.39"/><circle cx="264.6" cy="194.0" r="0.44" opacity="0.60"/><circle cx="281.8" cy="190.5" r="0.53" opacity="0.40"/><circle cx="279.7" cy="206.4" r="0.52" opacity="0.38"/><circle cx="277.4" cy="188.2" r="0.54" opacity="0.40"/><circle cx="272.8" cy="207.3" r="0.42" opacity="0.40"/><circle cx="277.8" cy="200.8" r="0.58" opacity="0.48"/><circle cx="284.7" cy="208.7" r="0.30" opacity="0.65"/><circle cx="264.5" cy="195.0" r="0.54" opacity="0.69"/><circle cx="283.5" cy="183.2" r="0.45" opacity="0.37"/><circle cx="282.9" cy="209.3" r="0.46" opacity="0.54"/><circle cx="287.3" cy="200.4" r="0.36" opacity="0.46"/><circle cx="279.1" cy="185.2" r="0.41" opacity="0.75"/><circle cx="276.3" cy="200.9" r="0.54" opacity="0.75"/><circle cx="267.8" cy="199.0" r="0.54" opacity="0.74"/><circle cx="275.8" cy="211.9" r="0.57" opacity="0.50"/><circle cx="290.2" cy="195.0" r="0.38" opacity="0.39"/><circle cx="270.7" cy="189.3" r="0.46" opacity="0.55"/><circle cx="291.0" cy="199.7" r="0.32" opacity="0.59"/><circle cx="265.4" cy="201.8" r="0.32" opacity="0.44"/><circle cx="279.5" cy="203.1" r="0.36" opacity="0.79"/><circle cx="267.3" cy="187.7" r="0.30" opacity="0.67"/><circle cx="281.5" cy="195.3" r="0.58" opacity="0.39"/><circle cx="265.2" cy="206.6" r="0.40" opacity="0.61"/><circle cx="267.9" cy="187.1" r="0.36" opacity="0.44"/><circle cx="293.0" cy="191.4" r="0.57" opacity="0.43"/><circle cx="282.9" cy="187.0" r="0.54" opacity="0.37"/><circle cx="289.0" cy="206.9" r="0.38" opacity="0.63"/><circle cx="283.3" cy="199.2" r="0.74" opacity="0.51"/><circle cx="274.3" cy="200.8" r="0.32" opacity="0.66"/><circle cx="267.1" cy="198.1" r="0.56" opacity="0.43"/><circle cx="266.6" cy="197.0" r="0.45" opacity="0.58"/><circle cx="291.6" cy="200.9" r="0.55" opacity="0.73"/><circle cx="289.9" cy="195.9" r="0.42" opacity="0.45"/><circle cx="273.9" cy="209.6" r="0.31" opacity="0.77"/><circle cx="265.2" cy="196.5" r="0.40" opacity="0.39"/><circle cx="274.0" cy="203.3" r="0.41" opacity="0.74"/><circle cx="283.6" cy="200.4" r="0.47" opacity="0.60"/></g>
<rect x="258.80" y="177.80" width="39.00" height="39.30" fill="none" stroke="#151515" stroke-width="1.5"/>
<rect x="303.40" y="177.80" width="39.00" height="39.30" fill="#9f9592"/>
<circle cx="322.90" cy="197.45" r="18.20" fill="#a49aa6"/>
<circle cx="322.90" cy="197.45" r="18.20" fill="none" stroke="#8a82b6" stroke-width="1.1" opacity="0.75"/>
<circle cx="322.90" cy="197.45" r="16.00" fill="none" stroke="#8a82b6" stroke-width="0.8" opacity="0.35"/>
<path d="M331.09 181.43 A17.40 17.40 0 0 1 337.46 187.44" stroke="#e6e2ee" stroke-width="1" fill="none" opacity="0.55"/>
<path d="M309.80 190.17 A17.20 17.20 0 0 0 309.80 204.73" stroke="#cfc8e8" stroke-width="0.8" fill="none" opacity="0.3"/>
<g fill="#54449a"><circle cx="323.2" cy="210.2" r="0.57" opacity="0.57"/><circle cx="320.7" cy="203.2" r="0.58" opacity="0.46"/><circle cx="311.2" cy="189.6" r="0.55" opacity="0.49"/><circle cx="327.8" cy="209.3" r="0.56" opacity="0.41"/><circle cx="319.7" cy="200.8" r="0.35" opacity="0.42"/><circle cx="321.8" cy="205.6" r="0.42" opacity="0.46"/><circle cx="314.9" cy="190.6" r="0.38" opacity="0.70"/><circle cx="330.8" cy="185.5" r="0.55" opacity="0.48"/><circle cx="324.2" cy="210.0" r="0.47" opacity="0.76"/><circle cx="327.8" cy="181.7" r="0.49" opacity="0.71"/><circle cx="308.0" cy="197.7" r="0.55" opacity="0.50"/><circle cx="313.3" cy="206.3" r="0.46" opacity="0.53"/><circle cx="321.9" cy="183.7" r="0.56" opacity="0.36"/><circle cx="311.2" cy="205.9" r="0.45" opacity="0.47"/><circle cx="311.3" cy="207.7" r="0.49" opacity="0.76"/><circle cx="336.5" cy="190.0" r="0.56" opacity="0.77"/><circle cx="313.8" cy="202.9" r="0.42" opacity="0.79"/><circle cx="317.7" cy="187.8" r="0.32" opacity="0.38"/><circle cx="323.1" cy="197.7" r="0.41" opacity="0.78"/><circle cx="325.8" cy="201.6" r="0.55" opacity="0.58"/><circle cx="313.5" cy="195.1" r="0.41" opacity="0.40"/><circle cx="338.3" cy="195.2" r="0.54" opacity="0.64"/><circle cx="336.0" cy="202.7" r="0.32" opacity="0.42"/><circle cx="338.7" cy="195.3" r="0.42" opacity="0.70"/><circle cx="329.7" cy="211.4" r="0.55" opacity="0.65"/><circle cx="322.0" cy="200.0" r="0.43" opacity="0.72"/><circle cx="320.4" cy="189.7" r="0.41" opacity="0.51"/><circle cx="310.7" cy="188.4" r="0.57" opacity="0.55"/><circle cx="332.0" cy="188.5" r="0.53" opacity="0.75"/><circle cx="326.5" cy="207.3" r="0.36" opacity="0.63"/><circle cx="325.9" cy="196.1" r="0.46" opacity="0.72"/><circle cx="322.1" cy="181.0" r="0.57" opacity="0.47"/><circle cx="320.7" cy="186.4" r="0.37" opacity="0.75"/><circle cx="317.1" cy="199.9" r="0.36" opacity="0.38"/><circle cx="322.7" cy="186.0" r="0.38" opacity="0.47"/><circle cx="310.3" cy="196.6" r="0.32" opacity="0.75"/><circle cx="320.2" cy="185.8" r="0.41" opacity="0.42"/><circle cx="321.0" cy="202.9" r="0.31" opacity="0.80"/><circle cx="326.3" cy="196.5" r="0.40" opacity="0.51"/><circle cx="316.5" cy="192.3" r="0.42" opacity="0.58"/><circle cx="328.5" cy="205.1" r="0.42" opacity="0.57"/><circle cx="324.9" cy="186.6" r="0.54" opacity="0.67"/><circle cx="330.6" cy="183.1" r="0.49" opacity="0.66"/><circle cx="315.7" cy="189.8" r="0.77" opacity="0.35"/><circle cx="329.4" cy="212.1" r="0.31" opacity="0.69"/><circle cx="330.8" cy="190.1" r="0.44" opacity="0.48"/></g>
<rect x="303.40" y="177.80" width="39.00" height="39.30" fill="none" stroke="#151515" stroke-width="1.5"/>
<rect x="346.90" y="177.80" width="39.00" height="39.30" fill="#9f9592"/>
<circle cx="366.40" cy="197.45" r="18.20" fill="#a49aa6"/>
<circle cx="366.40" cy="197.45" r="18.20" fill="none" stroke="#8a82b6" stroke-width="1.1" opacity="0.75"/>
<circle cx="366.40" cy="197.45" r="16.00" fill="none" stroke="#8a82b6" stroke-width="0.8" opacity="0.35"/>
<path d="M374.59 181.43 A17.40 17.40 0 0 1 380.96 187.44" stroke="#e6e2ee" stroke-width="1" fill="none" opacity="0.55"/>
<path d="M353.30 190.17 A17.20 17.20 0 0 0 353.30 204.73" stroke="#cfc8e8" stroke-width="0.8" fill="none" opacity="0.3"/>
<g fill="#54449a"><circle cx="376.7" cy="208.5" r="0.55" opacity="0.47"/><circle cx="368.0" cy="201.9" r="0.36" opacity="0.73"/><circle cx="369.1" cy="204.2" r="0.56" opacity="0.40"/><circle cx="359.1" cy="212.3" r="0.41" opacity="0.66"/><circle cx="364.0" cy="194.3" r="0.50" opacity="0.55"/><circle cx="358.4" cy="209.2" r="0.58" opacity="0.44"/><circle cx="367.1" cy="185.8" r="0.58" opacity="0.57"/><circle cx="379.2" cy="188.4" r="0.33" opacity="0.78"/><circle cx="367.5" cy="208.5" r="0.48" opacity="0.70"/><circle cx="371.7" cy="209.2" r="0.75" opacity="0.71"/><circle cx="370.3" cy="182.5" r="0.35" opacity="0.42"/><circle cx="365.1" cy="184.4" r="0.55" opacity="0.46"/><circle cx="380.9" cy="204.5" r="0.48" opacity="0.68"/><circle cx="356.4" cy="201.0" r="0.52" opacity="0.57"/><circle cx="363.7" cy="207.5" r="0.41" opacity="0.43"/><circle cx="351.1" cy="191.4" r="0.46" opacity="0.36"/><circle cx="374.6" cy="192.9" r="0.38" opacity="0.75"/><circle cx="369.8" cy="200.3" r="0.36" opacity="0.58"/><circle cx="377.2" cy="205.5" r="0.44" opacity="0.38"/><circle cx="355.0" cy="209.3" r="0.42" opacity="0.52"/><circle cx="364.0" cy="202.2" r="0.47" opacity="0.78"/><circle cx="364.7" cy="195.7" r="0.47" opacity="0.65"/><circle cx="362.0" cy="194.0" r="0.43" opacity="0.39"/><circle cx="376.4" cy="187.6" r="0.35" opacity="0.53"/><circle cx="357.3" cy="187.9" r="0.33" opacity="0.60"/><circle cx="371.9" cy="207.9" r="0.48" opacity="0.40"/><circle cx="379.0" cy="203.7" r="0.58" opacity="0.75"/><circle cx="361.5" cy="202.0" r="0.49" opacity="0.74"/><circle cx="366.3" cy="193.7" r="0.39" opacity="0.37"/><circle cx="366.9" cy="200.6" r="0.49" opacity="0.67"/><circle cx="372.2" cy="192.8" r="0.53" opacity="0.72"/><circle cx="368.0" cy="206.4" r="0.56" opacity="0.53"/><circle cx="366.2" cy="200.8" r="0.52" opacity="0.41"/><circle cx="377.9" cy="209.5" r="0.86" opacity="0.43"/><circle cx="374.5" cy="189.7" r="0.54" opacity="0.52"/><circle cx="375.4" cy="194.9" r="0.56" opacity="0.41"/><circle cx="381.2" cy="190.6" r="0.33" opacity="0.57"/><circle cx="366.2" cy="211.8" r="0.56" opacity="0.71"/><circle cx="354.9" cy="204.4" r="0.54" opacity="0.69"/><circle cx="351.9" cy="203.9" r="0.40" opacity="0.55"/><circle cx="373.5" cy="206.7" r="0.51" opacity="0.77"/><circle cx="368.0" cy="191.8" r="0.44" opacity="0.36"/><circle cx="378.9" cy="192.8" r="0.39" opacity="0.65"/><circle cx="368.4" cy="181.8" r="0.46" opacity="0.61"/></g>
<rect x="346.90" y="177.80" width="39.00" height="39.30" fill="none" stroke="#151515" stroke-width="1.5"/>
<rect x="391.10" y="177.80" width="39.00" height="39.30" fill="#9f9592"/>
<circle cx="410.60" cy="197.45" r="18.20" fill="#a49aa6"/>
<circle cx="410.60" cy="197.45" r="18.20" fill="none" stroke="#8a82b6" stroke-width="1.1" opacity="0.75"/>
<circle cx="410.60" cy="197.45" r="16.00" fill="none" stroke="#8a82b6" stroke-width="0.8" opacity="0.35"/>
<path d="M418.79 181.43 A17.40 17.40 0 0 1 425.16 187.44" stroke="#e6e2ee" stroke-width="1" fill="none" opacity="0.55"/>
<path d="M397.50 190.17 A17.20 17.20 0 0 0 397.50 204.73" stroke="#cfc8e8" stroke-width="0.8" fill="none" opacity="0.3"/>
<g fill="#54449a"><circle cx="408.5" cy="208.6" r="0.45" opacity="0.58"/><circle cx="422.7" cy="194.1" r="0.45" opacity="0.55"/><circle cx="408.2" cy="212.6" r="0.35" opacity="0.75"/><circle cx="399.1" cy="193.9" r="0.32" opacity="0.70"/><circle cx="408.8" cy="184.4" r="0.34" opacity="0.80"/><circle cx="420.0" cy="187.6" r="0.42" opacity="0.42"/><circle cx="426.5" cy="201.6" r="0.41" opacity="0.57"/><circle cx="426.5" cy="195.8" r="0.49" opacity="0.59"/><circle cx="401.7" cy="185.5" r="0.79" opacity="0.56"/><circle cx="398.9" cy="190.4" r="0.56" opacity="0.54"/><circle cx="396.0" cy="199.4" r="0.51" opacity="0.53"/><circle cx="401.6" cy="189.9" r="0.49" opacity="0.54"/><circle cx="404.0" cy="193.9" r="0.53" opacity="0.62"/><circle cx="408.0" cy="201.7" r="0.37" opacity="0.70"/><circle cx="396.9" cy="190.3" r="0.56" opacity="0.42"/><circle cx="408.9" cy="186.7" r="0.53" opacity="0.45"/><circle cx="424.1" cy="192.5" r="0.52" opacity="0.78"/><circle cx="413.7" cy="194.4" r="0.62" opacity="0.68"/><circle cx="396.5" cy="197.6" r="0.33" opacity="0.75"/><circle cx="405.9" cy="192.9" r="0.33" opacity="0.73"/><circle cx="423.1" cy="208.3" r="0.33" opacity="0.63"/><circle cx="416.6" cy="183.0" r="0.31" opacity="0.41"/><circle cx="422.7" cy="203.8" r="0.34" opacity="0.66"/><circle cx="412.7" cy="185.4" r="0.49" opacity="0.45"/><circle cx="413.2" cy="213.6" r="0.37" opacity="0.37"/><circle cx="405.3" cy="210.1" r="0.36" opacity="0.63"/><circle cx="420.5" cy="188.0" r="0.54" opacity="0.51"/><circle cx="410.9" cy="207.8" r="0.33" opacity="0.58"/><circle cx="423.3" cy="193.3" r="0.48" opacity="0.61"/><circle cx="398.9" cy="191.9" r="0.45" opacity="0.39"/><circle cx="417.4" cy="188.3" r="0.52" opacity="0.58"/><circle cx="412.2" cy="196.5" r="0.57" opacity="0.58"/><circle cx="401.6" cy="188.3" r="0.39" opacity="0.48"/><circle cx="412.8" cy="197.5" r="0.57" opacity="0.50"/><circle cx="400.4" cy="191.2" r="0.40" opacity="0.61"/><circle cx="421.5" cy="206.2" r="0.50" opacity="0.67"/><circle cx="414.6" cy="198.0" r="0.55" opacity="0.80"/><circle cx="426.1" cy="197.4" r="0.80" opacity="0.73"/><circle cx="398.3" cy="206.7" r="0.56" opacity="0.52"/><circle cx="409.6" cy="204.2" r="0.57" opacity="0.61"/><circle cx="411.6" cy="185.0" r="0.31" opacity="0.66"/><circle cx="406.3" cy="183.0" r="0.38" opacity="0.69"/></g>
<rect x="391.10" y="177.80" width="39.00" height="39.30" fill="none" stroke="#151515" stroke-width="1.5"/>
<rect x="434.70" y="177.80" width="39.00" height="39.30" fill="#9f9592"/>
<circle cx="454.20" cy="197.45" r="18.20" fill="#a49aa6"/>
<circle cx="454.20" cy="197.45" r="18.20" fill="none" stroke="#8a82b6" stroke-width="1.1" opacity="0.75"/>
<circle cx="454.20" cy="197.45" r="16.00" fill="none" stroke="#8a82b6" stroke-width="0.8" opacity="0.35"/>
<path d="M462.39 181.43 A17.40 17.40 0 0 1 468.76 187.44" stroke="#e6e2ee" stroke-width="1" fill="none" opacity="0.55"/>
<path d="M441.10 190.17 A17.20 17.20 0 0 0 441.10 204.73" stroke="#cfc8e8" stroke-width="0.8" fill="none" opacity="0.3"/>
<g fill="#54449a"><circle cx="463.7" cy="193.3" r="0.53" opacity="0.57"/><circle cx="452.4" cy="209.6" r="0.32" opacity="0.49"/><circle cx="468.8" cy="201.2" r="0.56" opacity="0.63"/><circle cx="443.5" cy="195.5" r="0.47" opacity="0.47"/><circle cx="446.5" cy="206.5" r="0.58" opacity="0.70"/><circle cx="438.8" cy="201.6" r="0.57" opacity="0.44"/><circle cx="447.5" cy="201.7" r="0.43" opacity="0.57"/><circle cx="451.0" cy="203.4" r="0.34" opacity="0.78"/><circle cx="455.0" cy="196.8" r="0.37" opacity="0.56"/><circle cx="457.7" cy="208.6" r="0.43" opacity="0.58"/><circle cx="450.7" cy="197.4" r="0.56" opacity="0.74"/><circle cx="452.0" cy="201.9" r="0.58" opacity="0.43"/><circle cx="469.9" cy="193.8" r="0.33" opacity="0.41"/><circle cx="458.6" cy="202.1" r="0.55" opacity="0.60"/><circle cx="451.3" cy="188.9" r="0.32" opacity="0.46"/><circle cx="450.3" cy="195.1" r="0.31" opacity="0.35"/><circle cx="460.0" cy="199.6" r="0.33" opacity="0.73"/><circle cx="453.5" cy="196.2" r="0.32" opacity="0.56"/><circle cx="442.4" cy="200.9" r="0.50" opacity="0.46"/><circle cx="451.9" cy="213.9" r="0.45" opacity="0.77"/><circle cx="459.1" cy="185.2" r="0.51" opacity="0.44"/><circle cx="448.6" cy="202.0" r="0.35" opacity="0.43"/><circle cx="460.3" cy="198.1" r="0.81" opacity="0.67"/><circle cx="452.4" cy="190.9" r="0.43" opacity="0.77"/><circle cx="449.5" cy="193.5" r="0.32" opacity="0.41"/><circle cx="460.4" cy="183.4" r="0.33" opacity="0.76"/><circle cx="456.3" cy="209.1" r="0.37" opacity="0.69"/><circle cx="457.8" cy="208.8" r="0.48" opacity="0.78"/><circle cx="462.9" cy="191.4" r="0.40" opacity="0.74"/><circle cx="458.8" cy="185.3" r="0.57" opacity="0.43"/><circle cx="454.8" cy="188.7" r="0.48" opacity="0.63"/><circle cx="452.7" cy="213.8" r="0.76" opacity="0.49"/><circle cx="438.8" cy="195.5" r="0.47" opacity="0.50"/><circle cx="464.7" cy="201.3" r="0.56" opacity="0.73"/><circle cx="462.3" cy="183.8" r="0.74" opacity="0.61"/><circle cx="462.6" cy="203.4" r="0.37" opacity="0.56"/><circle cx="447.7" cy="182.5" r="0.54" opacity="0.42"/><circle cx="445.1" cy="192.6" r="0.42" opacity="0.56"/><circle cx="469.4" cy="193.6" r="0.53" opacity="0.73"/><circle cx="446.1" cy="203.0" r="0.44" opacity="0.47"/></g>
<rect x="434.70" y="177.80" width="39.00" height="39.30" fill="none" stroke="#151515" stroke-width="1.5"/>
<rect x="32.40" y="221.90" width="39.00" height="39.80" fill="#9f9592"/>
<circle cx="51.90" cy="241.80" r="18.20" fill="#a49aa6"/>
<circle cx="51.90" cy="241.80" r="18.20" fill="none" stroke="#8a82b6" stroke-width="1.1" opacity="0.75"/>
<circle cx="51.90" cy="241.80" r="16.00" fill="none" stroke="#8a82b6" stroke-width="0.8" opacity="0.35"/>
<path d="M60.09 225.78 A17.40 17.40 0 0 1 66.46 231.79" stroke="#e6e2ee" stroke-width="1" fill="none" opacity="0.55"/>
<path d="M38.80 234.52 A17.20 17.20 0 0 0 38.80 249.08" stroke="#cfc8e8" stroke-width="0.8" fill="none" opacity="0.3"/>
<g fill="#54449a"><circle cx="55.5" cy="235.0" r="0.56" opacity="0.53"/><circle cx="46.8" cy="237.2" r="0.35" opacity="0.45"/><circle cx="46.7" cy="232.3" r="0.41" opacity="0.45"/><circle cx="48.6" cy="226.3" r="0.40" opacity="0.49"/><circle cx="52.4" cy="233.7" r="0.46" opacity="0.74"/><circle cx="52.3" cy="236.3" r="0.33" opacity="0.45"/><circle cx="53.1" cy="258.0" r="0.86" opacity="0.36"/><circle cx="40.5" cy="230.2" r="0.55" opacity="0.68"/><circle cx="40.3" cy="243.1" r="0.54" opacity="0.66"/><circle cx="50.6" cy="235.3" r="0.52" opacity="0.79"/><circle cx="52.9" cy="230.6" r="0.46" opacity="0.52"/><circle cx="55.8" cy="255.1" r="0.55" opacity="0.69"/><circle cx="41.3" cy="250.7" r="0.43" opacity="0.61"/><circle cx="67.9" cy="238.4" r="0.34" opacity="0.69"/><circle cx="59.8" cy="251.8" r="0.68" opacity="0.38"/><circle cx="41.7" cy="253.6" r="0.32" opacity="0.74"/><circle cx="42.7" cy="252.5" r="0.47" opacity="0.57"/><circle cx="62.4" cy="240.6" r="0.36" opacity="0.47"/><circle cx="63.8" cy="252.7" r="0.34" opacity="0.70"/><circle cx="48.2" cy="242.5" r="0.36" opacity="0.54"/><circle cx="53.1" cy="236.0" r="0.31" opacity="0.51"/><circle cx="55.6" cy="254.6" r="0.46" opacity="0.49"/><circle cx="44.6" cy="246.4" r="0.45" opacity="0.64"/><circle cx="61.1" cy="239.6" r="0.47" opacity="0.72"/><circle cx="39.3" cy="239.2" r="0.46" opacity="0.75"/><circle cx="59.2" cy="242.3" r="0.44" opacity="0.66"/><circle cx="59.9" cy="236.2" r="0.45" opacity="0.46"/><circle cx="60.0" cy="247.2" r="0.62" opacity="0.43"/></g>
<rect x="32.40" y="221.90" width="39.00" height="39.80" fill="none" stroke="#151515" stroke-width="1.5"/>
<rect x="75.70" y="221.90" width="39.00" height="39.80" fill="#9f9592"/>
<circle cx="95.20" cy="241.80" r="18.20" fill="#a49aa6"/>
<circle cx="95.20" cy="241.80" r="18.20" fill="none" stroke="#8a82b6" stroke-width="1.1" opacity="0.75"/>
<circle cx="95.20" cy="241.80" r="16.00" fill="none" stroke="#8a82b6" stroke-width="0.8" opacity="0.35"/>
<path d="M103.39 225.78 A17.40 17.40 0 0 1 109.76 231.79" stroke="#e6e2ee" stroke-width="1" fill="none" opacity="0.55"/>
<path d="M82.10 234.52 A17.20 17.20 0 0 0 82.10 249.08" stroke="#cfc8e8" stroke-width="0.8" fill="none" opacity="0.3"/>
<g fill="#54449a"><circle cx="81.7" cy="243.4" r="0.47" opacity="0.76"/><circle cx="95.3" cy="235.1" r="0.36" opacity="0.53"/><circle cx="109.1" cy="238.5" r="0.43" opacity="0.45"/><circle cx="82.4" cy="232.1" r="0.35" opacity="0.51"/><circle cx="88.7" cy="236.5" r="0.32" opacity="0.49"/><circle cx="85.6" cy="229.1" r="0.46" opacity="0.71"/><circle cx="102.8" cy="245.0" r="0.49" opacity="0.35"/><circle cx="101.0" cy="229.7" r="0.42" opacity="0.43"/><circle cx="89.2" cy="239.9" r="0.49" opacity="0.45"/><circle cx="94.0" cy="254.4" r="0.55" opacity="0.53"/><circle cx="89.9" cy="237.6" r="0.32" opacity="0.63"/><circle cx="84.4" cy="235.8" r="0.33" opacity="0.57"/><circle cx="88.5" cy="241.2" r="0.32" opacity="0.66"/><circle cx="87.2" cy="227.8" r="0.40" opacity="0.50"/><circle cx="81.5" cy="241.4" r="0.54" opacity="0.61"/><circle cx="96.7" cy="227.4" r="0.42" opacity="0.50"/><circle cx="83.1" cy="233.4" r="0.36" opacity="0.52"/><circle cx="110.8" cy="247.1" r="0.40" opacity="0.79"/><circle cx="96.9" cy="233.2" r="0.56" opacity="0.60"/><circle cx="80.8" cy="247.3" r="0.56" opacity="0.49"/><circle cx="104.6" cy="232.0" r="0.56" opacity="0.66"/><circle cx="104.0" cy="235.0" r="0.47" opacity="0.55"/><circle cx="105.6" cy="252.8" r="0.45" opacity="0.59"/><circle cx="91.3" cy="256.6" r="0.38" opacity="0.63"/></g>
<rect x="75.70" y="221.90" width="39.00" height="39.80" fill="none" stroke="#151515" stroke-width="1.5"/>
<rect x="119.90" y="221.90" width="39.00" height="39.80" fill="#9f9592"/>
<circle cx="139.40" cy="241.80" r="18.20" fill="#a49aa6"/>
<circle cx="139.40" cy="241.80" r="18.20" fill="none" stroke="#8a82b6" stroke-width="1.1" opacity="0.75"/>
<circle cx="139.40" cy="241.80" r="16.00" fill="none" stroke="#8a82b6" stroke-width="0.8" opacity="0.35"/>
<path d="M147.59 225.78 A17.40 17.40 0 0 1 153.96 231.79" stroke="#e6e2ee" stroke-width="1" fill="none" opacity="0.55"/>
<path d="M126.30 234.52 A17.20 17.20 0 0 0 126.30 249.08" stroke="#cfc8e8" stroke-width="0.8" fill="none" opacity="0.3"/>
<g fill="#54449a"><circle cx="154.7" cy="244.8" r="0.80" opacity="0.60"/><circle cx="140.5" cy="257.4" r="0.54" opacity="0.62"/><circle cx="130.5" cy="242.1" r="0.42" opacity="0.56"/><circle cx="153.0" cy="237.6" r="0.31" opacity="0.79"/><circle cx="140.3" cy="228.8" r="0.48" opacity="0.42"/><circle cx="132.1" cy="246.7" r="0.35" opacity="0.37"/><circle cx="145.5" cy="254.5" r="0.55" opacity="0.73"/><circle cx="142.6" cy="236.1" r="0.56" opacity="0.56"/><circle cx="143.9" cy="244.4" r="0.49" opacity="0.40"/><circle cx="133.3" cy="253.3" r="0.47" opacity="0.66"/><circle cx="152.1" cy="251.7" r="0.49" opacity="0.77"/><circle cx="140.1" cy="249.3" r="0.48" opacity="0.77"/><circle cx="143.0" cy="229.4" r="0.40" opacity="0.64"/><circle cx="149.9" cy="231.7" r="0.44" opacity="0.44"/><circle cx="136.3" cy="256.1" r="0.80" opacity="0.44"/><circle cx="128.4" cy="247.9" r="0.40" opacity="0.78"/><circle cx="131.0" cy="249.1" r="0.56" opacity="0.59"/><circle cx="147.0" cy="255.2" r="0.53" opacity="0.63"/><circle cx="140.2" cy="257.1" r="0.44" opacity="0.79"/><circle cx="126.9" cy="243.1" r="0.57" opacity="0.55"/><circle cx="147.7" cy="236.3" r="0.54" opacity="0.78"/><circle cx="125.7" cy="234.0" r="0.44" opacity="0.51"/></g>
<rect x="119.90" y="221.90" width="39.00" height="39.80" fill="none" stroke="#151515" stroke-width="1.5"/>
<rect x="163.90" y="221.90" width="39.00" height="39.80" fill="#9f9592"/>
<circle cx="183.40" cy="241.80" r="18.20" fill="#a49aa6"/>
<circle cx="183.40" cy="241.80" r="18.20" fill="none" stroke="#8a82b6" stroke-width="1.1" opacity="0.75"/>
<circle cx="183.40" cy="241.80" r="16.00" fill="none" stroke="#8a82b6" stroke-width="0.8" opacity="0.35"/>
<path d="M191.59 225.78 A17.40 17.40 0 0 1 197.96 231.79" stroke="#e6e2ee" stroke-width="1" fill="none" opacity="0.55"/>
<path d="M170.30 234.52 A17.20 17.20 0 0 0 170.30 249.08" stroke="#cfc8e8" stroke-width="0.8" fill="none" opacity="0.3"/>
<g fill="#54449a"><circle cx="183.7" cy="247.0" r="0.49" opacity="0.63"/><circle cx="192.8" cy="255.4" r="0.49" opacity="0.38"/><circle cx="191.6" cy="228.3" r="0.39" opacity="0.79"/><circle cx="192.3" cy="234.8" r="0.33" opacity="0.79"/><circle cx="180.2" cy="251.4" r="0.54" opacity="0.76"/><circle cx="177.6" cy="236.2" r="0.57" opacity="0.74"/><circle cx="178.7" cy="249.7" r="0.57" opacity="0.39"/><circle cx="188.8" cy="244.7" r="0.49" opacity="0.43"/><circle cx="167.1" cy="239.8" r="0.43" opacity="0.41"/><circle cx="180.5" cy="251.0" r="0.36" opacity="0.50"/><circle cx="184.9" cy="249.2" r="0.32" opacity="0.69"/><circle cx="180.1" cy="246.2" r="0.42" opacity="0.41"/><circle cx="182.2" cy="257.6" r="0.32" opacity="0.36"/><circle cx="173.2" cy="254.8" r="0.54" opacity="0.47"/><circle cx="182.4" cy="254.1" r="0.42" opacity="0.37"/><circle cx="186.7" cy="225.4" r="0.57" opacity="0.53"/><circle cx="195.8" cy="252.9" r="0.42" opacity="0.79"/><circle cx="175.1" cy="230.1" r="0.45" opacity="0.71"/><circle cx="183.0" cy="229.9" r="0.56" opacity="0.78"/><circle cx="178.5" cy="239.1" r="0.53" opacity="0.72"/></g>
<rect x="163.90" y="221.90" width="39.00" height="39.80" fill="none" stroke="#151515" stroke-width="1.5"/>
<rect x="207.70" y="221.90" width="39.00" height="39.80" fill="#9f9592"/>
<circle cx="227.20" cy="241.80" r="18.20" fill="#a49aa6"/>
<circle cx="227.20" cy="241.80" r="18.20" fill="none" stroke="#8a82b6" stroke-width="1.1" opacity="0.75"/>
<circle cx="227.20" cy="241.80" r="16.00" fill="none" stroke="#8a82b6" stroke-width="0.8" opacity="0.35"/>
<path d="M235.39 225.78 A17.40 17.40 0 0 1 241.76 231.79" stroke="#e6e2ee" stroke-width="1" fill="none" opacity="0.55"/>
<path d="M214.10 234.52 A17.20 17.20 0 0 0 214.10 249.08" stroke="#cfc8e8" stroke-width="0.8" fill="none" opacity="0.3"/>
<g fill="#54449a"><circle cx="233.1" cy="237.3" r="0.33" opacity="0.69"/><circle cx="237.6" cy="228.9" r="0.49" opacity="0.66"/><circle cx="214.9" cy="243.1" r="0.64" opacity="0.74"/><circle cx="232.4" cy="226.3" r="0.51" opacity="0.42"/><circle cx="235.5" cy="232.9" r="0.54" opacity="0.70"/><circle cx="217.1" cy="230.8" r="0.42" opacity="0.59"/><circle cx="214.5" cy="231.3" r="0.55" opacity="0.62"/><circle cx="228.8" cy="257.0" r="0.41" opacity="0.74"/><circle cx="213.4" cy="243.8" r="0.35" opacity="0.78"/><circle cx="215.6" cy="231.8" r="0.46" opacity="0.55"/><circle cx="221.2" cy="256.8" r="0.48" opacity="0.50"/><circle cx="226.6" cy="254.1" r="0.47" opacity="0.39"/><circle cx="225.1" cy="240.2" r="0.34" opacity="0.78"/><circle cx="234.5" cy="236.5" r="0.57" opacity="0.71"/><circle cx="222.6" cy="257.4" r="0.35" opacity="0.44"/><circle cx="223.7" cy="239.1" r="0.49" opacity="0.71"/><circle cx="234.3" cy="230.0" r="0.44" opacity="0.47"/><circle cx="214.8" cy="238.6" r="0.44" opacity="0.70"/></g>
<rect x="207.70" y="221.90" width="39.00" height="39.80" fill="none" stroke="#151515" stroke-width="1.5"/>
<rect x="258.80" y="221.90" width="39.00" height="39.80" fill="#9f9592"/>
<circle cx="278.30" cy="241.80" r="18.20" fill="#a49aa6"/>
<circle cx="278.30" cy="241.80" r="18.20" fill="none" stroke="#8a82b6" stroke-width="1.1" opacity="0.75"/>
<circle cx="278.30" cy="241.80" r="16.00" fill="none" stroke="#8a82b6" stroke-width="0.8" opacity="0.35"/>
<path d="M286.49 225.78 A17.40 17.40 0 0 1 292.86 231.79" stroke="#e6e2ee" stroke-width="1" fill="none" opacity="0.55"/>
<path d="M265.20 234.52 A17.20 17.20 0 0 0 265.20 249.08" stroke="#cfc8e8" stroke-width="0.8" fill="none" opacity="0.3"/>
<g fill="#54449a"><circle cx="283.9" cy="230.1" r="0.80" opacity="0.64"/><circle cx="277.4" cy="230.3" r="0.44" opacity="0.53"/><circle cx="264.9" cy="234.0" r="0.46" opacity="0.49"/><circle cx="278.9" cy="232.3" r="0.32" opacity="0.58"/><circle cx="283.5" cy="232.1" r="0.49" opacity="0.57"/><circle cx="288.3" cy="247.2" r="0.36" opacity="0.47"/><circle cx="275.7" cy="231.9" r="0.41" opacity="0.63"/><circle cx="266.7" cy="250.6" r="0.50" opacity="0.61"/><circle cx="276.7" cy="240.0" r="0.42" opacity="0.51"/><circle cx="264.7" cy="250.8" r="0.51" opacity="0.37"/><circle cx="277.8" cy="231.5" r="0.31" opacity="0.42"/><circle cx="286.6" cy="241.5" r="0.74" opacity="0.74"/><circle cx="276.0" cy="241.7" r="0.47" opacity="0.56"/><circle cx="262.9" cy="236.8" r="0.42" opacity="0.75"/><circle cx="272.3" cy="231.5" r="0.39" opacity="0.69"/><circle cx="277.6" cy="234.2" r="0.38" opacity="0.40"/><circle cx="279.5" cy="233.3" r="0.38" opacity="0.45"/><circle cx="283.6" cy="233.1" r="0.32" opacity="0.70"/><circle cx="284.0" cy="244.1" r="0.31" opacity="0.64"/><circle cx="277.3" cy="256.7" r="0.35" opacity="0.54"/><circle cx="267.2" cy="247.3" r="0.46" opacity="0.37"/><circle cx="271.1" cy="248.9" r="0.42" opacity="0.74"/><circle cx="283.2" cy="245.1" r="0.43" opacity="0.39"/><circle cx="284.2" cy="231.8" r="0.50" opacity="0.56"/><circle cx="269.9" cy="247.9" r="0.42" opacity="0.67"/><circle cx="272.7" cy="239.2" r="0.35" opacity="0.45"/><circle cx="268.5" cy="252.5" r="0.56" opacity="0.47"/><circle cx="272.4" cy="243.3" r="0.53" opacity="0.69"/><circle cx="281.6" cy="233.6" r="0.36" opacity="0.56"/><circle cx="274.0" cy="245.0" r="0.49" opacity="0.65"/><circle cx="282.3" cy="238.3" r="0.44" opacity="0.67"/><circle cx="271.9" cy="251.2" r="0.35" opacity="0.46"/><circle cx="290.9" cy="245.7" r="0.31" opacity="0.66"/><circle cx="287.0" cy="230.1" r="0.43" opacity="0.67"/><circle cx="269.8" cy="243.7" r="0.32" opacity="0.48"/><circle cx="271.4" cy="236.6" r="0.36" opacity="0.37"/><circle cx="271.5" cy="256.6" r="0.36" opacity="0.49"/><circle cx="277.9" cy="245.8" r="0.60" opacity="0.54"/><circle cx="266.5" cy="246.2" r="0.41" opacity="0.65"/><circle cx="267.4" cy="234.1" r="0.33" opacity="0.59"/><circle cx="287.6" cy="230.6" r="0.34" opacity="0.36"/><circle cx="280.8" cy="226.9" r="0.32" opacity="0.43"/><circle cx="281.9" cy="228.6" r="0.56" opacity="0.50"/><circle cx="276.5" cy="242.4" r="0.43" opacity="0.50"/><circle cx="282.9" cy="249.6" r="0.53" opacity="0.51"/><circle cx="276.1" cy="256.7" r="0.48" opacity="0.41"/><circle cx="282.4" cy="243.2" r="0.56" opacity="0.56"/><circle cx="269.0" cy="240.4" r="0.37" opacity="0.43"/><circle cx="275.0" cy="254.9" r="0.50" opacity="0.49"/><circle cx="282.3" cy="248.2" r="0.41" opacity="0.35"/></g>
<rect x="258.80" y="221.90" width="39.00" height="39.80" fill="none" stroke="#151515" stroke-width="1.5"/>
<rect x="303.40" y="221.90" width="39.00" height="39.80" fill="#9f9592"/>
<circle cx="322.90" cy="241.80" r="18.20" fill="#a49aa6"/>
<circle cx="322.90" cy="241.80" r="18.20" fill="none" stroke="#8a82b6" stroke-width="1.1" opacity="0.75"/>
<circle cx="322.90" cy="241.80" r="16.00" fill="none" stroke="#8a82b6" stroke-width="0.8" opacity="0.35"/>
<path d="M331.09 225.78 A17.40 17.40 0 0 1 337.46 231.79" stroke="#e6e2ee" stroke-width="1" fill="none" opacity="0.55"/>
<path d="M309.80 234.52 A17.20 17.20 0 0 0 309.80 249.08" stroke="#cfc8e8" stroke-width="0.8" fill="none" opacity="0.3"/>
<g fill="#54449a"><circle cx="323.3" cy="248.6" r="0.41" opacity="0.53"/><circle cx="331.9" cy="250.0" r="0.46" opacity="0.71"/><circle cx="339.1" cy="245.1" r="0.42" opacity="0.52"/><circle cx="321.7" cy="242.4" r="0.50" opacity="0.62"/><circle cx="312.5" cy="229.8" r="0.44" opacity="0.77"/><circle cx="328.1" cy="237.3" r="0.33" opacity="0.63"/><circle cx="330.5" cy="242.8" r="0.39" opacity="0.47"/><circle cx="318.4" cy="253.4" r="0.56" opacity="0.77"/><circle cx="331.8" cy="242.2" r="0.55" opacity="0.50"/><circle cx="322.1" cy="257.2" r="0.58" opacity="0.69"/><circle cx="321.9" cy="227.4" r="0.42" opacity="0.64"/><circle cx="336.7" cy="234.1" r="0.38" opacity="0.53"/><circle cx="329.7" cy="247.8" r="0.57" opacity="0.40"/><circle cx="310.4" cy="246.2" r="0.53" opacity="0.63"/><circle cx="321.8" cy="258.3" r="0.43" opacity="0.76"/><circle cx="320.1" cy="230.8" r="0.50" opacity="0.66"/><circle cx="332.8" cy="239.6" r="0.39" opacity="0.56"/><circle cx="327.3" cy="233.3" r="0.44" opacity="0.46"/><circle cx="325.9" cy="244.3" r="0.51" opacity="0.51"/><circle cx="317.5" cy="231.5" r="0.45" opacity="0.35"/><circle cx="312.7" cy="232.9" r="0.58" opacity="0.59"/><circle cx="332.5" cy="246.4" r="0.32" opacity="0.42"/><circle cx="323.5" cy="234.3" r="0.34" opacity="0.71"/><circle cx="310.3" cy="252.1" r="0.50" opacity="0.69"/><circle cx="332.1" cy="252.9" r="0.45" opacity="0.76"/><circle cx="313.0" cy="238.1" r="0.38" opacity="0.68"/><circle cx="309.9" cy="243.5" r="0.50" opacity="0.38"/><circle cx="319.8" cy="239.3" r="0.40" opacity="0.54"/><circle cx="327.7" cy="234.7" r="0.44" opacity="0.61"/><circle cx="318.0" cy="256.3" r="0.56" opacity="0.78"/><circle cx="332.8" cy="239.4" r="0.31" opacity="0.77"/><circle cx="322.0" cy="239.2" r="0.52" opacity="0.68"/><circle cx="327.0" cy="227.3" r="0.36" opacity="0.38"/><circle cx="318.0" cy="229.0" r="0.52" opacity="0.76"/><circle cx="337.0" cy="245.2" r="0.53" opacity="0.52"/><circle cx="328.7" cy="249.0" r="0.35" opacity="0.49"/><circle cx="328.5" cy="257.3" r="0.33" opacity="0.38"/><circle cx="317.6" cy="234.6" r="0.32" opacity="0.40"/><circle cx="311.9" cy="233.6" r="0.44" opacity="0.62"/><circle cx="321.3" cy="242.8" r="0.45" opacity="0.75"/><circle cx="317.0" cy="252.9" r="0.55" opacity="0.49"/><circle cx="324.3" cy="254.7" r="0.63" opacity="0.69"/><circle cx="322.2" cy="254.0" r="0.44" opacity="0.50"/><circle cx="319.4" cy="257.0" r="0.43" opacity="0.47"/><circle cx="330.6" cy="232.5" r="0.43" opacity="0.36"/><circle cx="322.4" cy="231.5" r="0.32" opacity="0.43"/></g>
<rect x="303.40" y="221.90" width="39.00" height="39.80" fill="none" stroke="#151515" stroke-width="1.5"/>
<rect x="346.90" y="221.90" width="39.00" height="39.80" fill="#9f9592"/>
<circle cx="366.40" cy="241.80" r="18.20" fill="#a49aa6"/>
<circle cx="366.40" cy="241.80" r="18.20" fill="none" stroke="#8a82b6" stroke-width="1.1" opacity="0.75"/>
<circle cx="366.40" cy="241.80" r="16.00" fill="none" stroke="#8a82b6" stroke-width="0.8" opacity="0.35"/>
<path d="M374.59 225.78 A17.40 17.40 0 0 1 380.96 231.79" stroke="#e6e2ee" stroke-width="1" fill="none" opacity="0.55"/>
<path d="M353.30 234.52 A17.20 17.20 0 0 0 353.30 249.08" stroke="#cfc8e8" stroke-width="0.8" fill="none" opacity="0.3"/>
<g fill="#54449a"><circle cx="364.7" cy="234.9" r="0.33" opacity="0.70"/><circle cx="361.2" cy="256.6" r="0.47" opacity="0.62"/><circle cx="355.5" cy="236.7" r="0.53" opacity="0.58"/><circle cx="374.0" cy="242.1" r="0.34" opacity="0.78"/><circle cx="356.0" cy="251.9" r="0.32" opacity="0.38"/><circle cx="372.3" cy="229.8" r="0.55" opacity="0.55"/><circle cx="372.6" cy="245.6" r="0.54" opacity="0.35"/><circle cx="367.0" cy="237.1" r="0.30" opacity="0.76"/><circle cx="356.8" cy="253.2" r="0.36" opacity="0.70"/><circle cx="365.6" cy="246.5" r="0.54" opacity="0.70"/><circle cx="375.3" cy="231.7" r="0.33" opacity="0.74"/><circle cx="359.0" cy="241.0" r="0.51" opacity="0.42"/><circle cx="351.9" cy="234.3" r="0.34" opacity="0.54"/><circle cx="366.3" cy="236.6" r="0.45" opacity="0.40"/><circle cx="368.3" cy="238.2" r="0.33" opacity="0.42"/><circle cx="377.3" cy="239.5" r="0.48" opacity="0.48"/><circle cx="360.6" cy="249.5" r="0.35" opacity="0.66"/><circle cx="367.7" cy="242.3" r="0.38" opacity="0.42"/><circle cx="367.9" cy="242.3" r="0.52" opacity="0.36"/><circle cx="371.5" cy="246.9" r="0.50" opacity="0.38"/><circle cx="349.9" cy="242.5" r="0.46" opacity="0.52"/><circle cx="358.8" cy="231.6" r="0.47" opacity="0.51"/><circle cx="375.7" cy="249.6" r="0.45" opacity="0.75"/><circle cx="380.1" cy="243.6" r="0.49" opacity="0.63"/><circle cx="375.4" cy="231.6" r="0.54" opacity="0.42"/><circle cx="364.1" cy="240.3" r="0.51" opacity="0.56"/><circle cx="364.5" cy="239.5" r="0.33" opacity="0.41"/><circle cx="363.1" cy="236.3" r="0.56" opacity="0.63"/><circle cx="354.6" cy="239.4" r="0.52" opacity="0.79"/><circle cx="375.2" cy="240.4" r="0.30" opacity="0.71"/><circle cx="357.3" cy="230.8" r="0.55" opacity="0.43"/><circle cx="365.7" cy="229.5" r="0.51" opacity="0.51"/><circle cx="359.8" cy="236.4" r="0.36" opacity="0.60"/><circle cx="367.6" cy="243.0" r="0.48" opacity="0.45"/><circle cx="358.7" cy="239.6" r="0.45" opacity="0.43"/><circle cx="364.9" cy="254.7" r="0.44" opacity="0.58"/><circle cx="362.7" cy="231.7" r="0.33" opacity="0.69"/><circle cx="368.7" cy="231.9" r="0.43" opacity="0.68"/><circle cx="362.4" cy="245.9" r="0.52" opacity="0.58"/><circle cx="355.2" cy="254.2" r="0.53" opacity="0.40"/><circle cx="375.4" cy="238.1" r="0.37" opacity="0.50"/><circle cx="351.4" cy="236.0" r="0.45" opacity="0.78"/><circle cx="365.2" cy="234.4" r="0.57" opacity="0.46"/><circle cx="379.9" cy="250.2" r="0.31" opacity="0.78"/></g>
<rect x="346.90" y="221.90" width="39.00" height="39.80" fill="none" stroke="#151515" stroke-width="1.5"/>
<rect x="391.10" y="221.90" width="39.00" height="39.80" fill="#9f9592"/>
<circle cx="410.60" cy="241.80" r="18.20" fill="#a49aa6"/>
<circle cx="410.60" cy="241.80" r="18.20" fill="none" stroke="#8a82b6" stroke-width="1.1" opacity="0.75"/>
<circle cx="410.60" cy="241.80" r="16.00" fill="none" stroke="#8a82b6" stroke-width="0.8" opacity="0.35"/>
<path d="M418.79 225.78 A17.40 17.40 0 0 1 425.16 231.79" stroke="#e6e2ee" stroke-width="1" fill="none" opacity="0.55"/>
<path d="M397.50 234.52 A17.20 17.20 0 0 0 397.50 249.08" stroke="#cfc8e8" stroke-width="0.8" fill="none" opacity="0.3"/>
<g fill="#54449a"><circle cx="416.9" cy="238.6" r="0.52" opacity="0.79"/><circle cx="400.2" cy="238.2" r="0.32" opacity="0.78"/><circle cx="419.0" cy="241.3" r="0.53" opacity="0.61"/><circle cx="403.6" cy="246.5" r="0.42" opacity="0.66"/><circle cx="407.4" cy="246.9" r="0.30" opacity="0.58"/><circle cx="399.8" cy="242.3" r="0.33" opacity="0.79"/><circle cx="401.6" cy="250.1" r="0.56" opacity="0.43"/><circle cx="417.0" cy="244.4" r="0.33" opacity="0.42"/><circle cx="405.2" cy="251.9" r="0.41" opacity="0.58"/><circle cx="412.7" cy="258.0" r="0.37" opacity="0.53"/><circle cx="409.6" cy="241.6" r="0.58" opacity="0.36"/><circle cx="408.7" cy="257.7" r="0.51" opacity="0.72"/><circle cx="421.3" cy="251.4" r="0.35" opacity="0.77"/><circle cx="403.4" cy="251.9" r="0.48" opacity="0.71"/><circle cx="422.7" cy="238.2" r="0.40" opacity="0.47"/><circle cx="425.7" cy="245.9" r="0.37" opacity="0.66"/><circle cx="424.5" cy="244.2" r="0.53" opacity="0.72"/><circle cx="404.4" cy="237.4" r="0.34" opacity="0.57"/><circle cx="420.1" cy="235.7" r="0.43" opacity="0.62"/><circle cx="404.6" cy="236.1" r="0.65" opacity="0.67"/><circle cx="406.0" cy="239.1" r="0.54" opacity="0.36"/><circle cx="409.1" cy="239.0" r="0.43" opacity="0.63"/><circle cx="413.6" cy="246.5" r="0.86" opacity="0.47"/><circle cx="415.7" cy="249.1" r="0.40" opacity="0.52"/><circle cx="395.8" cy="243.5" r="0.44" opacity="0.74"/><circle cx="409.5" cy="236.2" r="0.45" opacity="0.38"/><circle cx="415.5" cy="227.0" r="0.43" opacity="0.73"/><circle cx="395.4" cy="237.2" r="0.40" opacity="0.36"/><circle cx="402.2" cy="235.2" r="0.35" opacity="0.46"/><circle cx="407.5" cy="243.2" r="0.41" opacity="0.55"/><circle cx="400.0" cy="238.0" r="0.46" opacity="0.52"/><circle cx="420.4" cy="229.6" r="0.40" opacity="0.72"/><circle cx="424.2" cy="239.0" r="0.33" opacity="0.58"/><circle cx="402.2" cy="248.2" r="0.42" opacity="0.72"/><circle cx="420.3" cy="246.9" r="0.46" opacity="0.74"/><circle cx="396.0" cy="241.4" r="0.30" opacity="0.75"/><circle cx="397.0" cy="246.0" r="0.36" opacity="0.61"/><circle cx="413.6" cy="226.5" r="0.48" opacity="0.71"/><circle cx="424.4" cy="235.9" r="0.38" opacity="0.75"/><circle cx="404.5" cy="256.8" r="0.33" opacity="0.38"/><circle cx="404.1" cy="254.9" r="0.66" opacity="0.40"/><circle cx="417.1" cy="240.6" r="0.56" opacity="0.68"/></g>
<rect x="391.10" y="221.90" width="39.00" height="39.80" fill="none" stroke="#151515" stroke-width="1.5"/>
<rect x="434.70" y="221.90" width="39.00" height="39.80" fill="#9f9592"/>
<circle cx="454.20" cy="241.80" r="18.20" fill="#a49aa6"/>
<circle cx="454.20" cy="241.80" r="18.20" fill="none" stroke="#8a82b6" stroke-width="1.1" opacity="0.75"/>
<circle cx="454.20" cy="241.80" r="16.00" fill="none" stroke="#8a82b6" stroke-width="0.8" opacity="0.35"/>
<path d="M462.39 225.78 A17.40 17.40 0 0 1 468.76 231.79" stroke="#e6e2ee" stroke-width="1" fill="none" opacity="0.55"/>
<path d="M441.10 234.52 A17.20 17.20 0 0 0 441.10 249.08" stroke="#cfc8e8" stroke-width="0.8" fill="none" opacity="0.3"/>
<g fill="#54449a"><circle cx="447.0" cy="241.1" r="0.57" opacity="0.62"/><circle cx="458.9" cy="240.0" r="0.52" opacity="0.46"/><circle cx="448.0" cy="254.8" r="0.56" opacity="0.49"/><circle cx="460.4" cy="248.3" r="0.36" opacity="0.58"/><circle cx="459.9" cy="246.9" r="0.55" opacity="0.39"/><circle cx="461.7" cy="233.5" r="0.41" opacity="0.66"/><circle cx="444.7" cy="245.8" r="0.45" opacity="0.67"/><circle cx="456.7" cy="243.3" r="0.40" opacity="0.70"/><circle cx="449.3" cy="237.9" r="0.42" opacity="0.57"/><circle cx="453.5" cy="255.6" r="0.38" opacity="0.52"/><circle cx="439.2" cy="241.6" r="0.40" opacity="0.60"/><circle cx="446.3" cy="239.7" r="0.39" opacity="0.72"/><circle cx="462.9" cy="254.5" r="0.56" opacity="0.64"/><circle cx="454.6" cy="247.0" r="0.57" opacity="0.54"/><circle cx="450.5" cy="229.3" r="0.55" opacity="0.56"/><circle cx="466.1" cy="251.4" r="0.34" opacity="0.45"/><circle cx="457.8" cy="235.1" r="0.53" opacity="0.62"/><circle cx="453.9" cy="232.0" r="0.35" opacity="0.63"/><circle cx="448.0" cy="245.4" r="0.35" opacity="0.65"/><circle cx="453.6" cy="243.7" r="0.43" opacity="0.69"/><circle cx="450.8" cy="230.5" r="0.32" opacity="0.56"/><circle cx="455.4" cy="227.0" r="0.34" opacity="0.60"/><circle cx="459.6" cy="245.9" r="0.50" opacity="0.46"/><circle cx="464.7" cy="253.7" r="0.50" opacity="0.72"/><circle cx="456.8" cy="256.7" r="0.40" opacity="0.39"/><circle cx="452.3" cy="251.9" r="0.53" opacity="0.47"/><circle cx="447.0" cy="236.1" r="0.53" opacity="0.45"/><circle cx="444.5" cy="250.0" r="0.48" opacity="0.59"/><circle cx="449.7" cy="235.4" r="0.39" opacity="0.71"/><circle cx="459.9" cy="248.2" r="0.55" opacity="0.35"/><circle cx="438.3" cy="237.3" r="0.44" opacity="0.72"/><circle cx="464.2" cy="253.9" r="0.31" opacity="0.66"/><circle cx="442.5" cy="250.5" r="0.42" opacity="0.59"/><circle cx="451.6" cy="226.5" r="0.57" opacity="0.79"/><circle cx="467.9" cy="245.6" r="0.47" opacity="0.48"/><circle cx="453.5" cy="238.7" r="0.42" opacity="0.45"/><circle cx="450.9" cy="240.8" r="0.34" opacity="0.58"/><circle cx="442.5" cy="250.9" r="0.50" opacity="0.35"/><circle cx="437.7" cy="243.7" r="0.45" opacity="0.71"/><circle cx="462.7" cy="256.1" r="0.40" opacity="0.80"/></g>
<rect x="434.70" y="221.90" width="39.00" height="39.80" fill="none" stroke="#151515" stroke-width="1.5"/>
<text x="138.70" y="448.60" font-size="8.64" font-weight="bold" text-anchor="middle" fill="#000" textLength="28.44" lengthAdjust="spacingAndGlyphs">Control</text>
<text x="366.40" y="448.20" font-size="8.64" font-weight="bold" text-anchor="middle" fill="#000" textLength="26.23" lengthAdjust="spacingAndGlyphs">UBE2T</text>
<line x1="33.80" y1="452.30" x2="250.50" y2="452.30" stroke="#000" stroke-width="1.2"/>
<line x1="260.90" y1="451.60" x2="477.20" y2="451.60" stroke="#000" stroke-width="1.2"/>
<text x="54.70" y="461.80" font-size="8.64" font-weight="bold" text-anchor="middle" fill="#000" textLength="15.12" lengthAdjust="spacingAndGlyphs">0Gy</text>
<text x="281.40" y="461.80" font-size="8.64" font-weight="bold" text-anchor="middle" fill="#000" textLength="15.12" lengthAdjust="spacingAndGlyphs">0Gy</text>
<text x="97.50" y="461.80" font-size="8.64" font-weight="bold" text-anchor="middle" fill="#000" textLength="15.12" lengthAdjust="spacingAndGlyphs">2Gy</text>
<text x="323.80" y="461.80" font-size="8.64" font-weight="bold" text-anchor="middle" fill="#000" textLength="15.12" lengthAdjust="spacingAndGlyphs">2Gy</text>
<text x="140.10" y="461.80" font-size="8.64" font-weight="bold" text-anchor="middle" fill="#000" textLength="15.12" lengthAdjust="spacingAndGlyphs">4Gy</text>
<text x="366.50" y="461.80" font-size="8.64" font-weight="bold" text-anchor="middle" fill="#000" textLength="15.12" lengthAdjust="spacingAndGlyphs">4Gy</text>
<text x="182.60" y="461.80" font-size="8.64" font-weight="bold" text-anchor="middle" fill="#000" textLength="15.12" lengthAdjust="spacingAndGlyphs">6Gy</text>
<text x="409.10" y="461.80" font-size="8.64" font-weight="bold" text-anchor="middle" fill="#000" textLength="15.12" lengthAdjust="spacingAndGlyphs">6Gy</text>
<text x="225.90" y="461.80" font-size="8.64" font-weight="bold" text-anchor="middle" fill="#000" textLength="15.12" lengthAdjust="spacingAndGlyphs">8Gy</text>
<text x="451.80" y="461.80" font-size="8.64" font-weight="bold" text-anchor="middle" fill="#000" textLength="15.12" lengthAdjust="spacingAndGlyphs">8Gy</text>
<text x="29.40" y="487.80" font-size="8.86" font-weight="bold" text-anchor="middle" fill="#000" transform="rotate(-90 29.40 487.80)" textLength="33.73" lengthAdjust="spacingAndGlyphs">-MK8776</text>
<text x="29.40" y="533.00" font-size="8.86" font-weight="bold" text-anchor="middle" fill="#000" transform="rotate(-90 29.40 533.00)" textLength="35.78" lengthAdjust="spacingAndGlyphs">+MK8776</text>
<rect x="33.90" y="464.60" width="40.70" height="40.80" fill="#8b837f"/>
<circle cx="54.25" cy="485.00" r="19.05" fill="#a39b9f"/>
<circle cx="54.25" cy="485.00" r="19.05" fill="none" stroke="#aea6c8" stroke-width="1.1" opacity="0.75"/>
<circle cx="54.25" cy="485.00" r="16.85" fill="none" stroke="#aea6c8" stroke-width="0.8" opacity="0.35"/>
<path d="M62.82 468.24 A18.25 18.25 0 0 1 69.49 474.52" stroke="#e6e2ee" stroke-width="1" fill="none" opacity="0.55"/>
<path d="M40.53 477.38 A18.05 18.05 0 0 0 40.53 492.62" stroke="#cfc8e8" stroke-width="0.8" fill="none" opacity="0.3"/>
<g fill="#5c4aa4"><circle cx="65.7" cy="492.0" r="0.40" opacity="0.76"/><circle cx="37.4" cy="482.6" r="0.37" opacity="0.66"/><circle cx="46.5" cy="469.6" r="0.52" opacity="0.85"/><circle cx="65.6" cy="486.8" r="0.54" opacity="0.68"/><circle cx="55.6" cy="495.3" r="0.41" opacity="0.92"/><circle cx="46.6" cy="474.8" r="0.33" opacity="0.66"/><circle cx="60.4" cy="493.0" r="0.39" opacity="0.90"/><circle cx="60.7" cy="485.4" r="0.84" opacity="0.58"/><circle cx="42.4" cy="480.0" r="0.35" opacity="0.81"/><circle cx="69.0" cy="485.5" r="0.39" opacity="0.74"/><circle cx="45.1" cy="472.2" r="0.33" opacity="0.55"/><circle cx="60.7" cy="499.2" r="0.54" opacity="0.79"/><circle cx="58.5" cy="469.3" r="0.51" opacity="0.85"/><circle cx="48.1" cy="497.1" r="0.36" opacity="0.64"/><circle cx="53.5" cy="485.0" r="0.41" opacity="0.90"/><circle cx="52.5" cy="478.4" r="0.40" opacity="0.49"/><circle cx="56.8" cy="482.1" r="0.48" opacity="0.93"/><circle cx="47.6" cy="492.1" r="0.33" opacity="0.61"/><circle cx="46.1" cy="480.6" r="0.33" opacity="0.48"/><circle cx="62.8" cy="482.6" r="0.51" opacity="0.93"/><circle cx="54.5" cy="483.4" r="0.51" opacity="0.84"/><circle cx="50.5" cy="484.5" r="0.29" opacity="0.81"/><circle cx="61.6" cy="495.9" r="0.51" opacity="0.81"/><circle cx="58.9" cy="470.8" r="0.28" opacity="0.74"/><circle cx="58.1" cy="477.0" r="0.62" opacity="0.68"/><circle cx="62.3" cy="498.1" r="0.45" opacity="0.62"/><circle cx="59.6" cy="488.4" r="0.55" opacity="0.72"/><circle cx="40.6" cy="478.3" r="0.33" opacity="0.52"/><circle cx="62.3" cy="492.1" r="0.44" opacity="0.64"/><circle cx="51.4" cy="483.9" r="0.84" opacity="0.65"/><circle cx="53.9" cy="483.5" r="0.62" opacity="0.52"/><circle cx="41.1" cy="477.5" r="0.57" opacity="0.89"/><circle cx="43.2" cy="491.4" r="0.87" opacity="0.91"/><circle cx="50.6" cy="496.0" r="0.56" opacity="0.91"/><circle cx="51.1" cy="479.1" r="0.87" opacity="0.79"/><circle cx="46.9" cy="500.6" r="0.35" opacity="0.58"/><circle cx="51.6" cy="474.2" r="0.46" opacity="0.81"/><circle cx="58.4" cy="476.8" r="0.31" opacity="0.54"/><circle cx="55.0" cy="472.0" r="0.46" opacity="0.65"/><circle cx="60.9" cy="472.7" r="0.38" opacity="0.71"/><circle cx="62.5" cy="473.6" r="0.61" opacity="0.56"/><circle cx="59.0" cy="475.3" r="0.28" opacity="0.67"/><circle cx="54.8" cy="489.7" r="0.49" opacity="0.91"/><circle cx="57.2" cy="495.2" r="0.53" opacity="0.56"/><circle cx="54.3" cy="499.9" r="0.71" opacity="0.68"/><circle cx="65.3" cy="479.4" r="0.40" opacity="0.49"/><circle cx="58.8" cy="480.2" r="0.41" opacity="0.59"/><circle cx="57.9" cy="486.1" r="0.54" opacity="0.72"/><circle cx="70.5" cy="483.2" r="0.49" opacity="0.56"/><circle cx="69.0" cy="488.1" r="0.29" opacity="0.78"/></g>
<rect x="33.90" y="464.60" width="40.70" height="40.80" fill="none" stroke="#2b2420" stroke-width="1.7"/>
<rect x="77.50" y="464.60" width="40.70" height="40.80" fill="#8b837f"/>
<circle cx="97.85" cy="485.00" r="19.05" fill="#a39b9f"/>
<circle cx="97.85" cy="485.00" r="19.05" fill="none" stroke="#aea6c8" stroke-width="1.1" opacity="0.75"/>
<circle cx="97.85" cy="485.00" r="16.85" fill="none" stroke="#aea6c8" stroke-width="0.8" opacity="0.35"/>
<path d="M106.42 468.24 A18.25 18.25 0 0 1 113.09 474.52" stroke="#e6e2ee" stroke-width="1" fill="none" opacity="0.55"/>
<path d="M84.13 477.38 A18.05 18.05 0 0 0 84.13 492.62" stroke="#cfc8e8" stroke-width="0.8" fill="none" opacity="0.3"/>
<g fill="#5c4aa4"><circle cx="84.3" cy="484.1" r="0.37" opacity="0.81"/><circle cx="98.7" cy="473.2" r="0.53" opacity="0.75"/><circle cx="107.1" cy="492.3" r="0.57" opacity="0.64"/><circle cx="93.3" cy="480.2" r="0.38" opacity="0.69"/><circle cx="84.7" cy="496.3" r="0.44" opacity="0.49"/><circle cx="87.7" cy="478.0" r="0.36" opacity="0.76"/><circle cx="82.1" cy="481.0" r="0.40" opacity="0.79"/><circle cx="89.1" cy="493.0" r="0.57" opacity="0.46"/><circle cx="104.6" cy="476.0" r="0.37" opacity="0.55"/><circle cx="90.9" cy="473.1" r="0.42" opacity="0.62"/><circle cx="92.2" cy="470.0" r="0.30" opacity="0.85"/><circle cx="113.3" cy="484.2" r="0.57" opacity="0.87"/><circle cx="97.2" cy="476.2" r="0.49" opacity="0.72"/><circle cx="99.0" cy="502.0" r="0.52" opacity="0.57"/><circle cx="101.5" cy="491.6" r="0.39" opacity="0.82"/><circle cx="83.7" cy="495.3" r="0.30" opacity="0.89"/><circle cx="83.5" cy="484.9" r="0.53" opacity="0.54"/><circle cx="114.3" cy="490.5" r="0.40" opacity="0.50"/><circle cx="87.4" cy="484.7" r="0.33" opacity="0.79"/><circle cx="85.4" cy="475.0" r="0.57" opacity="0.49"/><circle cx="83.7" cy="482.8" r="0.55" opacity="0.68"/><circle cx="95.8" cy="493.1" r="0.83" opacity="0.82"/><circle cx="101.9" cy="484.4" r="0.34" opacity="0.86"/><circle cx="104.5" cy="469.6" r="0.46" opacity="0.69"/><circle cx="83.8" cy="479.7" r="0.37" opacity="0.54"/><circle cx="109.8" cy="483.4" r="0.29" opacity="0.78"/><circle cx="102.2" cy="482.2" r="0.29" opacity="0.84"/><circle cx="101.6" cy="495.5" r="0.66" opacity="0.50"/><circle cx="89.6" cy="496.2" r="0.49" opacity="0.90"/><circle cx="86.0" cy="477.6" r="0.49" opacity="0.95"/><circle cx="109.2" cy="497.2" r="0.42" opacity="0.63"/><circle cx="91.3" cy="482.2" r="0.30" opacity="0.93"/><circle cx="98.5" cy="474.6" r="0.49" opacity="0.51"/><circle cx="88.1" cy="488.4" r="0.87" opacity="0.84"/><circle cx="111.8" cy="494.8" r="0.50" opacity="0.78"/><circle cx="110.0" cy="496.9" r="0.56" opacity="0.82"/><circle cx="93.4" cy="474.4" r="0.36" opacity="0.74"/><circle cx="93.9" cy="498.4" r="0.67" opacity="0.87"/><circle cx="88.4" cy="476.1" r="0.49" opacity="0.72"/><circle cx="90.3" cy="500.7" r="0.31" opacity="0.76"/><circle cx="100.0" cy="494.3" r="0.57" opacity="0.54"/><circle cx="100.3" cy="468.2" r="0.46" opacity="0.53"/><circle cx="95.9" cy="490.2" r="0.43" opacity="0.61"/><circle cx="92.9" cy="498.7" r="0.54" opacity="0.70"/><circle cx="109.1" cy="489.4" r="0.32" opacity="0.50"/><circle cx="101.4" cy="481.4" r="0.39" opacity="0.74"/><circle cx="96.5" cy="486.7" r="0.40" opacity="0.67"/><circle cx="111.0" cy="480.3" r="0.71" opacity="0.51"/><circle cx="95.3" cy="501.4" r="0.56" opacity="0.58"/><circle cx="100.8" cy="497.6" r="0.46" opacity="0.83"/><circle cx="90.6" cy="488.8" r="0.32" opacity="0.82"/><circle cx="107.8" cy="481.4" r="0.37" opacity="0.60"/><circle cx="87.1" cy="495.0" r="0.32" opacity="0.50"/><circle cx="110.9" cy="481.3" r="0.53" opacity="0.79"/><circle cx="86.2" cy="480.1" r="0.48" opacity="0.76"/><circle cx="94.3" cy="482.2" r="0.37" opacity="0.60"/><circle cx="99.8" cy="484.0" r="0.42" opacity="0.94"/><circle cx="92.7" cy="486.8" r="0.47" opacity="0.47"/><circle cx="108.4" cy="488.8" r="0.43" opacity="0.50"/><circle cx="104.0" cy="490.6" r="0.49" opacity="0.56"/></g>
<rect x="77.50" y="464.60" width="40.70" height="40.80" fill="none" stroke="#2b2420" stroke-width="1.7"/>
<rect x="121.40" y="464.60" width="40.70" height="40.80" fill="#8b837f"/>
<circle cx="141.75" cy="485.00" r="19.05" fill="#a39b9f"/>
<circle cx="141.75" cy="485.00" r="19.05" fill="none" stroke="#aea6c8" stroke-width="1.1" opacity="0.75"/>
<circle cx="141.75" cy="485.00" r="16.85" fill="none" stroke="#aea6c8" stroke-width="0.8" opacity="0.35"/>
<path d="M150.32 468.24 A18.25 18.25 0 0 1 156.99 474.52" stroke="#e6e2ee" stroke-width="1" fill="none" opacity="0.55"/>
<path d="M128.03 477.38 A18.05 18.05 0 0 0 128.03 492.62" stroke="#cfc8e8" stroke-width="0.8" fill="none" opacity="0.3"/>
<g fill="#5c4aa4"><circle cx="146.7" cy="486.7" r="0.40" opacity="0.90"/><circle cx="154.2" cy="488.1" r="0.38" opacity="0.53"/><circle cx="136.5" cy="493.7" r="0.65" opacity="0.67"/><circle cx="153.3" cy="492.1" r="0.30" opacity="0.67"/><circle cx="146.2" cy="482.0" r="0.32" opacity="0.46"/><circle cx="153.0" cy="478.0" r="0.36" opacity="0.83"/><circle cx="133.0" cy="498.1" r="0.34" opacity="0.71"/><circle cx="145.3" cy="475.8" r="0.40" opacity="0.71"/><circle cx="136.2" cy="472.1" r="0.48" opacity="0.69"/><circle cx="136.5" cy="475.6" r="0.29" opacity="0.54"/><circle cx="148.9" cy="469.8" r="0.48" opacity="0.62"/><circle cx="138.1" cy="488.0" r="0.42" opacity="0.62"/><circle cx="143.7" cy="489.8" r="0.77" opacity="0.63"/><circle cx="143.4" cy="497.7" r="0.50" opacity="0.77"/><circle cx="159.0" cy="484.1" r="0.47" opacity="0.69"/><circle cx="149.4" cy="500.7" r="0.41" opacity="0.47"/><circle cx="146.9" cy="490.8" r="0.36" opacity="0.59"/><circle cx="131.3" cy="489.6" r="0.61" opacity="0.63"/><circle cx="151.5" cy="491.1" r="0.28" opacity="0.49"/><circle cx="137.9" cy="474.5" r="0.58" opacity="0.69"/><circle cx="141.8" cy="474.8" r="0.38" opacity="0.93"/><circle cx="150.2" cy="477.4" r="0.50" opacity="0.64"/><circle cx="142.2" cy="489.9" r="0.84" opacity="0.71"/><circle cx="135.2" cy="483.4" r="0.48" opacity="0.84"/><circle cx="137.0" cy="489.0" r="0.57" opacity="0.76"/><circle cx="145.3" cy="474.7" r="0.30" opacity="0.78"/><circle cx="132.2" cy="498.3" r="0.50" opacity="0.78"/><circle cx="136.6" cy="499.7" r="0.29" opacity="0.89"/><circle cx="135.3" cy="484.4" r="0.43" opacity="0.63"/><circle cx="149.8" cy="478.6" r="0.36" opacity="0.55"/><circle cx="136.9" cy="495.0" r="0.86" opacity="0.55"/><circle cx="147.2" cy="501.6" r="0.55" opacity="0.73"/><circle cx="150.3" cy="490.0" r="0.38" opacity="0.91"/><circle cx="146.4" cy="473.0" r="0.52" opacity="0.82"/><circle cx="143.2" cy="476.2" r="0.53" opacity="0.69"/><circle cx="135.2" cy="490.1" r="0.43" opacity="0.77"/><circle cx="154.3" cy="475.7" r="0.46" opacity="0.80"/><circle cx="144.6" cy="487.8" r="0.54" opacity="0.78"/><circle cx="132.5" cy="490.0" r="0.51" opacity="0.83"/><circle cx="144.9" cy="478.3" r="0.87" opacity="0.66"/><circle cx="125.8" cy="485.0" r="0.33" opacity="0.63"/><circle cx="147.2" cy="482.1" r="0.36" opacity="0.61"/><circle cx="145.5" cy="483.6" r="0.40" opacity="0.74"/><circle cx="151.5" cy="482.7" r="0.47" opacity="0.67"/><circle cx="133.9" cy="481.2" r="0.49" opacity="0.90"/><circle cx="139.1" cy="501.9" r="0.63" opacity="0.78"/><circle cx="140.5" cy="472.9" r="0.29" opacity="0.52"/><circle cx="153.1" cy="473.0" r="0.35" opacity="0.68"/><circle cx="155.1" cy="475.2" r="0.51" opacity="0.74"/><circle cx="151.6" cy="483.8" r="0.40" opacity="0.48"/><circle cx="141.6" cy="492.2" r="0.40" opacity="0.75"/><circle cx="134.6" cy="485.1" r="0.29" opacity="0.83"/><circle cx="156.2" cy="477.9" r="0.37" opacity="0.68"/><circle cx="140.7" cy="490.2" r="0.41" opacity="0.59"/><circle cx="147.5" cy="501.0" r="0.30" opacity="0.65"/></g>
<rect x="121.40" y="464.60" width="40.70" height="40.80" fill="none" stroke="#2b2420" stroke-width="1.7"/>
<rect x="164.90" y="464.60" width="40.70" height="40.80" fill="#8b837f"/>
<circle cx="185.25" cy="485.00" r="19.05" fill="#a39b9f"/>
<circle cx="185.25" cy="485.00" r="19.05" fill="none" stroke="#aea6c8" stroke-width="1.1" opacity="0.75"/>
<circle cx="185.25" cy="485.00" r="16.85" fill="none" stroke="#aea6c8" stroke-width="0.8" opacity="0.35"/>
<path d="M193.82 468.24 A18.25 18.25 0 0 1 200.49 474.52" stroke="#e6e2ee" stroke-width="1" fill="none" opacity="0.55"/>
<path d="M171.53 477.38 A18.05 18.05 0 0 0 171.53 492.62" stroke="#cfc8e8" stroke-width="0.8" fill="none" opacity="0.3"/>
<g fill="#5c4aa4"><circle cx="197.9" cy="481.8" r="0.33" opacity="0.66"/><circle cx="186.0" cy="482.0" r="0.33" opacity="0.86"/><circle cx="197.2" cy="486.6" r="0.41" opacity="0.50"/><circle cx="182.6" cy="491.0" r="0.34" opacity="0.63"/><circle cx="182.1" cy="495.6" r="0.31" opacity="0.71"/><circle cx="176.1" cy="470.1" r="0.31" opacity="0.69"/><circle cx="186.8" cy="471.4" r="0.41" opacity="0.72"/><circle cx="189.7" cy="468.5" r="0.42" opacity="0.85"/><circle cx="174.7" cy="488.6" r="0.50" opacity="0.84"/><circle cx="191.9" cy="481.9" r="0.74" opacity="0.92"/><circle cx="186.4" cy="497.7" r="0.49" opacity="0.69"/><circle cx="172.1" cy="487.3" r="0.47" opacity="0.68"/><circle cx="179.6" cy="489.0" r="0.29" opacity="0.93"/><circle cx="178.5" cy="486.2" r="0.42" opacity="0.86"/><circle cx="176.0" cy="495.1" r="0.30" opacity="0.65"/><circle cx="191.3" cy="490.2" r="0.52" opacity="0.55"/><circle cx="193.4" cy="483.3" r="0.60" opacity="0.53"/><circle cx="182.6" cy="472.0" r="0.55" opacity="0.53"/><circle cx="192.8" cy="475.4" r="0.42" opacity="0.45"/><circle cx="190.2" cy="486.7" r="0.69" opacity="0.72"/><circle cx="176.0" cy="490.1" r="0.36" opacity="0.83"/><circle cx="201.9" cy="480.1" r="0.29" opacity="0.82"/><circle cx="196.9" cy="479.3" r="0.35" opacity="0.92"/><circle cx="193.5" cy="494.4" r="0.39" opacity="0.49"/><circle cx="172.4" cy="488.9" r="0.52" opacity="0.61"/><circle cx="183.7" cy="491.5" r="0.44" opacity="0.78"/><circle cx="169.0" cy="490.5" r="0.57" opacity="0.62"/><circle cx="184.1" cy="481.5" r="0.47" opacity="0.71"/><circle cx="194.8" cy="484.8" r="0.36" opacity="0.51"/><circle cx="183.0" cy="500.7" r="0.32" opacity="0.66"/><circle cx="170.6" cy="492.9" r="0.71" opacity="0.74"/><circle cx="171.3" cy="492.1" r="0.44" opacity="0.82"/><circle cx="176.1" cy="471.9" r="0.78" opacity="0.53"/><circle cx="195.8" cy="491.7" r="0.56" opacity="0.50"/><circle cx="190.7" cy="497.6" r="0.54" opacity="0.49"/><circle cx="192.1" cy="494.9" r="0.41" opacity="0.64"/><circle cx="194.7" cy="471.4" r="0.85" opacity="0.78"/><circle cx="173.5" cy="497.1" r="0.86" opacity="0.51"/><circle cx="172.6" cy="486.7" r="0.62" opacity="0.52"/><circle cx="183.5" cy="489.8" r="0.41" opacity="0.64"/><circle cx="177.6" cy="477.7" r="0.30" opacity="0.86"/><circle cx="187.7" cy="471.4" r="0.52" opacity="0.56"/><circle cx="174.5" cy="479.2" r="0.49" opacity="0.50"/><circle cx="196.6" cy="482.8" r="0.28" opacity="0.76"/><circle cx="177.5" cy="469.3" r="0.47" opacity="0.54"/></g>
<rect x="164.90" y="464.60" width="40.70" height="40.80" fill="none" stroke="#2b2420" stroke-width="1.7"/>
<rect x="208.50" y="464.60" width="40.70" height="40.80" fill="#8b837f"/>
<circle cx="228.85" cy="485.00" r="19.05" fill="#a39b9f"/>
<circle cx="228.85" cy="485.00" r="19.05" fill="none" stroke="#aea6c8" stroke-width="1.1" opacity="0.75"/>
<circle cx="228.85" cy="485.00" r="16.85" fill="none" stroke="#aea6c8" stroke-width="0.8" opacity="0.35"/>
<path d="M237.42 468.24 A18.25 18.25 0 0 1 244.09 474.52" stroke="#e6e2ee" stroke-width="1" fill="none" opacity="0.55"/>
<path d="M215.13 477.38 A18.05 18.05 0 0 0 215.13 492.62" stroke="#cfc8e8" stroke-width="0.8" fill="none" opacity="0.3"/>
<g fill="#5c4aa4"><circle cx="235.5" cy="480.1" r="0.52" opacity="0.82"/><circle cx="220.7" cy="496.0" r="0.76" opacity="0.80"/><circle cx="235.9" cy="495.3" r="0.53" opacity="0.83"/><circle cx="225.5" cy="496.8" r="0.34" opacity="0.52"/><circle cx="237.1" cy="480.8" r="0.46" opacity="0.66"/><circle cx="239.8" cy="476.2" r="0.51" opacity="0.53"/><circle cx="243.4" cy="490.4" r="0.76" opacity="0.68"/><circle cx="216.8" cy="483.3" r="0.47" opacity="0.64"/><circle cx="219.2" cy="473.0" r="0.53" opacity="0.72"/><circle cx="227.5" cy="470.9" r="0.51" opacity="0.57"/><circle cx="218.9" cy="477.4" r="0.49" opacity="0.74"/><circle cx="228.6" cy="475.4" r="0.39" opacity="0.66"/><circle cx="234.3" cy="497.6" r="0.33" opacity="0.66"/><circle cx="237.6" cy="481.3" r="0.43" opacity="0.79"/><circle cx="241.1" cy="479.6" r="0.29" opacity="0.54"/><circle cx="227.6" cy="467.9" r="0.42" opacity="0.58"/><circle cx="225.5" cy="476.8" r="0.48" opacity="0.75"/><circle cx="243.2" cy="475.9" r="0.50" opacity="0.74"/><circle cx="216.6" cy="488.6" r="0.52" opacity="0.57"/><circle cx="211.7" cy="482.2" r="0.42" opacity="0.53"/><circle cx="241.1" cy="491.0" r="0.35" opacity="0.85"/><circle cx="222.1" cy="486.7" r="0.55" opacity="0.71"/><circle cx="222.1" cy="494.2" r="0.44" opacity="0.66"/><circle cx="213.5" cy="478.9" r="0.29" opacity="0.94"/><circle cx="225.3" cy="491.8" r="0.56" opacity="0.48"/><circle cx="237.6" cy="477.1" r="0.34" opacity="0.83"/><circle cx="217.1" cy="483.1" r="0.29" opacity="0.50"/><circle cx="222.7" cy="501.0" r="0.58" opacity="0.65"/><circle cx="212.6" cy="487.6" r="0.40" opacity="0.70"/><circle cx="212.2" cy="488.7" r="0.70" opacity="0.61"/></g>
<rect x="208.50" y="464.60" width="40.70" height="40.80" fill="none" stroke="#2b2420" stroke-width="1.7"/>
<rect x="261.00" y="464.60" width="40.70" height="40.80" fill="#8b837f"/>
<circle cx="281.35" cy="485.00" r="19.05" fill="#a39b9f"/>
<circle cx="281.35" cy="485.00" r="19.05" fill="none" stroke="#aea6c8" stroke-width="1.1" opacity="0.75"/>
<circle cx="281.35" cy="485.00" r="16.85" fill="none" stroke="#aea6c8" stroke-width="0.8" opacity="0.35"/>
<path d="M289.92 468.24 A18.25 18.25 0 0 1 296.59 474.52" stroke="#e6e2ee" stroke-width="1" fill="none" opacity="0.55"/>
<path d="M267.63 477.38 A18.05 18.05 0 0 0 267.63 492.62" stroke="#cfc8e8" stroke-width="0.8" fill="none" opacity="0.3"/>
<g fill="#5c4aa4"><circle cx="269.4" cy="479.1" r="0.42" opacity="0.69"/><circle cx="274.5" cy="486.2" r="0.32" opacity="0.49"/><circle cx="275.6" cy="473.5" r="0.39" opacity="0.64"/><circle cx="267.7" cy="492.8" r="0.42" opacity="0.45"/><circle cx="274.7" cy="478.0" r="0.33" opacity="0.65"/><circle cx="281.7" cy="496.4" r="0.35" opacity="0.82"/><circle cx="297.6" cy="487.2" r="0.48" opacity="0.53"/><circle cx="280.4" cy="483.9" r="0.45" opacity="0.91"/><circle cx="291.8" cy="491.7" r="0.45" opacity="0.68"/><circle cx="270.8" cy="491.9" r="0.52" opacity="0.63"/><circle cx="278.2" cy="473.1" r="0.50" opacity="0.53"/><circle cx="288.1" cy="500.7" r="0.29" opacity="0.84"/><circle cx="268.9" cy="494.7" r="0.43" opacity="0.88"/><circle cx="293.5" cy="493.8" r="0.38" opacity="0.87"/><circle cx="274.8" cy="470.4" r="0.41" opacity="0.89"/><circle cx="278.2" cy="472.0" r="0.57" opacity="0.88"/><circle cx="281.5" cy="495.3" r="0.43" opacity="0.94"/><circle cx="267.5" cy="481.0" r="0.50" opacity="0.82"/><circle cx="269.6" cy="491.2" r="0.54" opacity="0.54"/><circle cx="268.2" cy="483.6" r="0.50" opacity="0.76"/><circle cx="297.1" cy="484.1" r="0.61" opacity="0.53"/><circle cx="286.8" cy="486.2" r="0.50" opacity="0.58"/><circle cx="294.2" cy="496.0" r="0.49" opacity="0.61"/><circle cx="275.2" cy="499.4" r="0.54" opacity="0.55"/><circle cx="282.5" cy="489.3" r="0.53" opacity="0.75"/><circle cx="291.6" cy="480.2" r="0.50" opacity="0.72"/><circle cx="290.0" cy="500.0" r="0.50" opacity="0.76"/><circle cx="287.7" cy="490.5" r="0.75" opacity="0.60"/><circle cx="280.0" cy="484.8" r="0.53" opacity="0.95"/><circle cx="269.5" cy="492.5" r="0.65" opacity="0.59"/><circle cx="282.5" cy="498.4" r="0.37" opacity="0.48"/><circle cx="275.1" cy="494.7" r="0.55" opacity="0.66"/><circle cx="272.2" cy="473.0" r="0.32" opacity="0.61"/><circle cx="276.5" cy="485.0" r="0.41" opacity="0.68"/><circle cx="272.7" cy="484.3" r="0.38" opacity="0.86"/><circle cx="272.9" cy="476.9" r="0.54" opacity="0.66"/><circle cx="295.1" cy="485.3" r="0.32" opacity="0.82"/><circle cx="282.3" cy="495.0" r="0.49" opacity="0.56"/><circle cx="292.9" cy="474.0" r="0.53" opacity="0.86"/><circle cx="285.8" cy="485.6" r="0.46" opacity="0.66"/><circle cx="283.4" cy="485.0" r="0.38" opacity="0.60"/><circle cx="274.1" cy="472.1" r="0.37" opacity="0.58"/></g>
<rect x="261.00" y="464.60" width="40.70" height="40.80" fill="none" stroke="#2b2420" stroke-width="1.7"/>
<rect x="304.70" y="464.60" width="40.70" height="40.80" fill="#8b837f"/>
<circle cx="325.05" cy="485.00" r="19.05" fill="#a39b9f"/>
<circle cx="325.05" cy="485.00" r="19.05" fill="none" stroke="#aea6c8" stroke-width="1.1" opacity="0.75"/>
<circle cx="325.05" cy="485.00" r="16.85" fill="none" stroke="#aea6c8" stroke-width="0.8" opacity="0.35"/>
<path d="M333.62 468.24 A18.25 18.25 0 0 1 340.29 474.52" stroke="#e6e2ee" stroke-width="1" fill="none" opacity="0.55"/>
<path d="M311.33 477.38 A18.05 18.05 0 0 0 311.33 492.62" stroke="#cfc8e8" stroke-width="0.8" fill="none" opacity="0.3"/>
<g fill="#5c4aa4"><circle cx="338.4" cy="488.8" r="0.75" opacity="0.46"/><circle cx="335.5" cy="480.9" r="0.37" opacity="0.92"/><circle cx="318.7" cy="500.9" r="0.37" opacity="0.80"/><circle cx="337.0" cy="496.9" r="0.61" opacity="0.75"/><circle cx="327.6" cy="484.6" r="0.57" opacity="0.81"/><circle cx="317.5" cy="492.7" r="0.36" opacity="0.58"/><circle cx="333.8" cy="491.1" r="0.30" opacity="0.55"/><circle cx="322.7" cy="496.3" r="0.50" opacity="0.86"/><circle cx="324.8" cy="500.9" r="0.56" opacity="0.92"/><circle cx="319.8" cy="478.1" r="0.35" opacity="0.55"/><circle cx="341.6" cy="479.8" r="0.50" opacity="0.49"/><circle cx="329.9" cy="478.3" r="0.37" opacity="0.79"/><circle cx="314.9" cy="490.4" r="0.45" opacity="0.76"/><circle cx="324.1" cy="485.9" r="0.31" opacity="0.73"/><circle cx="323.5" cy="492.6" r="0.54" opacity="0.88"/><circle cx="314.0" cy="477.1" r="0.58" opacity="0.80"/><circle cx="326.7" cy="467.9" r="0.39" opacity="0.59"/><circle cx="316.8" cy="495.2" r="0.42" opacity="0.48"/><circle cx="325.6" cy="493.7" r="0.59" opacity="0.61"/><circle cx="333.7" cy="475.7" r="0.48" opacity="0.93"/><circle cx="324.1" cy="482.3" r="0.45" opacity="0.49"/><circle cx="340.4" cy="478.4" r="0.45" opacity="0.46"/><circle cx="331.4" cy="476.3" r="0.35" opacity="0.68"/><circle cx="327.9" cy="473.4" r="0.56" opacity="0.45"/><circle cx="331.8" cy="475.6" r="0.50" opacity="0.61"/><circle cx="330.1" cy="499.0" r="0.36" opacity="0.56"/><circle cx="332.8" cy="493.9" r="0.54" opacity="0.78"/><circle cx="335.7" cy="485.9" r="0.41" opacity="0.68"/><circle cx="327.5" cy="488.1" r="0.75" opacity="0.56"/><circle cx="330.2" cy="498.2" r="0.69" opacity="0.54"/><circle cx="311.2" cy="486.5" r="0.53" opacity="0.59"/><circle cx="334.6" cy="481.0" r="0.70" opacity="0.70"/><circle cx="330.6" cy="471.5" r="0.57" opacity="0.52"/><circle cx="320.8" cy="489.7" r="0.64" opacity="0.69"/><circle cx="311.3" cy="489.7" r="0.63" opacity="0.53"/><circle cx="322.9" cy="468.2" r="0.40" opacity="0.80"/><circle cx="310.5" cy="481.5" r="0.34" opacity="0.79"/><circle cx="321.5" cy="486.3" r="0.44" opacity="0.65"/><circle cx="317.5" cy="485.3" r="0.54" opacity="0.50"/><circle cx="316.5" cy="490.2" r="0.56" opacity="0.60"/><circle cx="342.0" cy="481.7" r="0.67" opacity="0.49"/><circle cx="318.4" cy="478.8" r="0.54" opacity="0.76"/><circle cx="314.5" cy="495.6" r="0.58" opacity="0.58"/><circle cx="329.6" cy="494.1" r="0.30" opacity="0.53"/><circle cx="310.5" cy="484.0" r="0.46" opacity="0.75"/><circle cx="327.6" cy="492.6" r="0.38" opacity="0.64"/><circle cx="333.8" cy="489.3" r="0.36" opacity="0.75"/><circle cx="317.1" cy="496.7" r="0.50" opacity="0.52"/><circle cx="312.0" cy="479.3" r="0.45" opacity="0.50"/><circle cx="325.0" cy="470.5" r="0.53" opacity="0.89"/><circle cx="329.1" cy="474.6" r="0.40" opacity="0.45"/></g>
<rect x="304.70" y="464.60" width="40.70" height="40.80" fill="none" stroke="#2b2420" stroke-width="1.7"/>
<rect x="348.40" y="464.60" width="40.70" height="40.80" fill="#8b837f"/>
<circle cx="368.75" cy="485.00" r="19.05" fill="#a39b9f"/>
<circle cx="368.75" cy="485.00" r="19.05" fill="none" stroke="#aea6c8" stroke-width="1.1" opacity="0.75"/>
<circle cx="368.75" cy="485.00" r="16.85" fill="none" stroke="#aea6c8" stroke-width="0.8" opacity="0.35"/>
<path d="M377.32 468.24 A18.25 18.25 0 0 1 383.99 474.52" stroke="#e6e2ee" stroke-width="1" fill="none" opacity="0.55"/>
<path d="M355.03 477.38 A18.05 18.05 0 0 0 355.03 492.62" stroke="#cfc8e8" stroke-width="0.8" fill="none" opacity="0.3"/>
<g fill="#5c4aa4"><circle cx="376.7" cy="481.9" r="0.43" opacity="0.46"/><circle cx="376.7" cy="496.6" r="0.36" opacity="0.81"/><circle cx="364.5" cy="483.5" r="0.31" opacity="0.64"/><circle cx="381.3" cy="477.1" r="0.41" opacity="0.65"/><circle cx="382.8" cy="477.1" r="0.38" opacity="0.62"/><circle cx="361.7" cy="470.5" r="0.34" opacity="0.45"/><circle cx="364.6" cy="483.3" r="0.45" opacity="0.83"/><circle cx="357.9" cy="495.5" r="0.45" opacity="0.85"/><circle cx="363.4" cy="488.8" r="0.28" opacity="0.59"/><circle cx="362.3" cy="499.4" r="0.51" opacity="0.66"/><circle cx="373.7" cy="474.7" r="0.48" opacity="0.84"/><circle cx="376.4" cy="480.4" r="0.48" opacity="0.72"/><circle cx="374.7" cy="499.4" r="0.46" opacity="0.53"/><circle cx="372.3" cy="488.0" r="0.45" opacity="0.83"/><circle cx="366.3" cy="495.1" r="0.60" opacity="0.89"/><circle cx="362.1" cy="480.3" r="0.33" opacity="0.90"/><circle cx="361.2" cy="474.6" r="0.46" opacity="0.81"/><circle cx="368.5" cy="488.8" r="0.87" opacity="0.73"/><circle cx="355.5" cy="475.4" r="0.52" opacity="0.88"/><circle cx="381.2" cy="492.9" r="0.58" opacity="0.81"/><circle cx="354.2" cy="487.2" r="0.49" opacity="0.89"/><circle cx="365.7" cy="478.1" r="0.44" opacity="0.48"/><circle cx="378.7" cy="482.1" r="0.51" opacity="0.80"/><circle cx="372.8" cy="491.1" r="0.35" opacity="0.56"/><circle cx="380.0" cy="498.0" r="0.42" opacity="0.53"/><circle cx="372.9" cy="492.2" r="0.50" opacity="0.87"/><circle cx="356.7" cy="481.2" r="0.36" opacity="0.63"/><circle cx="366.9" cy="474.0" r="0.48" opacity="0.89"/><circle cx="357.6" cy="475.2" r="0.29" opacity="0.81"/><circle cx="366.8" cy="483.6" r="0.37" opacity="0.82"/><circle cx="372.8" cy="472.8" r="0.58" opacity="0.62"/><circle cx="367.3" cy="495.2" r="0.42" opacity="0.58"/><circle cx="359.7" cy="489.4" r="0.41" opacity="0.61"/><circle cx="369.3" cy="500.7" r="0.50" opacity="0.64"/><circle cx="363.7" cy="490.0" r="0.34" opacity="0.93"/><circle cx="363.5" cy="470.7" r="0.49" opacity="0.86"/><circle cx="354.1" cy="491.0" r="0.47" opacity="0.78"/><circle cx="360.4" cy="500.2" r="0.87" opacity="0.60"/><circle cx="364.5" cy="496.1" r="0.49" opacity="0.94"/><circle cx="357.1" cy="490.0" r="0.42" opacity="0.94"/><circle cx="371.7" cy="494.0" r="0.52" opacity="0.85"/><circle cx="380.5" cy="476.2" r="0.48" opacity="0.91"/><circle cx="356.0" cy="477.1" r="0.43" opacity="0.66"/><circle cx="362.0" cy="487.7" r="0.49" opacity="0.74"/><circle cx="352.7" cy="480.4" r="0.33" opacity="0.80"/><circle cx="371.0" cy="478.6" r="0.65" opacity="0.65"/></g>
<rect x="348.40" y="464.60" width="40.70" height="40.80" fill="none" stroke="#2b2420" stroke-width="1.7"/>
<rect x="392.00" y="464.60" width="40.70" height="40.80" fill="#8b837f"/>
<circle cx="412.35" cy="485.00" r="19.05" fill="#a39b9f"/>
<circle cx="412.35" cy="485.00" r="19.05" fill="none" stroke="#aea6c8" stroke-width="1.1" opacity="0.75"/>
<circle cx="412.35" cy="485.00" r="16.85" fill="none" stroke="#aea6c8" stroke-width="0.8" opacity="0.35"/>
<path d="M420.92 468.24 A18.25 18.25 0 0 1 427.59 474.52" stroke="#e6e2ee" stroke-width="1" fill="none" opacity="0.55"/>
<path d="M398.63 477.38 A18.05 18.05 0 0 0 398.63 492.62" stroke="#cfc8e8" stroke-width="0.8" fill="none" opacity="0.3"/>
<g fill="#5c4aa4"><circle cx="399.0" cy="477.0" r="0.36" opacity="0.89"/><circle cx="425.7" cy="481.1" r="0.38" opacity="0.51"/><circle cx="406.2" cy="483.1" r="0.52" opacity="0.84"/><circle cx="422.0" cy="496.5" r="0.52" opacity="0.50"/><circle cx="420.3" cy="489.2" r="0.80" opacity="0.92"/><circle cx="404.7" cy="489.0" r="0.63" opacity="0.69"/><circle cx="425.4" cy="489.5" r="0.38" opacity="0.69"/><circle cx="400.6" cy="474.0" r="0.31" opacity="0.52"/><circle cx="418.3" cy="481.4" r="0.41" opacity="0.82"/><circle cx="403.3" cy="498.9" r="0.39" opacity="0.61"/><circle cx="403.7" cy="496.4" r="0.44" opacity="0.79"/><circle cx="412.4" cy="483.4" r="0.33" opacity="0.91"/><circle cx="407.4" cy="483.7" r="0.47" opacity="0.55"/><circle cx="422.0" cy="480.7" r="0.33" opacity="0.70"/><circle cx="402.5" cy="480.7" r="0.36" opacity="0.88"/><circle cx="409.2" cy="492.9" r="0.64" opacity="0.64"/><circle cx="399.7" cy="477.7" r="0.34" opacity="0.91"/><circle cx="404.4" cy="486.4" r="0.32" opacity="0.78"/><circle cx="422.9" cy="494.5" r="0.31" opacity="0.73"/><circle cx="400.0" cy="489.4" r="0.30" opacity="0.57"/><circle cx="409.1" cy="474.1" r="0.49" opacity="0.81"/><circle cx="423.1" cy="477.7" r="0.39" opacity="0.78"/><circle cx="419.7" cy="500.4" r="0.56" opacity="0.93"/><circle cx="395.3" cy="481.2" r="0.48" opacity="0.61"/><circle cx="423.2" cy="482.2" r="0.34" opacity="0.46"/><circle cx="406.7" cy="483.7" r="0.62" opacity="0.69"/><circle cx="402.0" cy="493.5" r="0.28" opacity="0.47"/><circle cx="408.5" cy="469.0" r="0.54" opacity="0.79"/><circle cx="421.1" cy="480.0" r="0.38" opacity="0.60"/><circle cx="426.3" cy="494.4" r="0.37" opacity="0.65"/><circle cx="396.3" cy="479.0" r="0.48" opacity="0.87"/><circle cx="407.0" cy="490.7" r="0.38" opacity="0.46"/><circle cx="405.9" cy="497.0" r="0.46" opacity="0.72"/><circle cx="400.5" cy="491.6" r="0.29" opacity="0.57"/><circle cx="425.1" cy="484.4" r="0.29" opacity="0.61"/><circle cx="417.2" cy="481.4" r="0.37" opacity="0.82"/><circle cx="427.6" cy="489.8" r="0.36" opacity="0.49"/><circle cx="424.9" cy="494.5" r="0.49" opacity="0.66"/></g>
<rect x="392.00" y="464.60" width="40.70" height="40.80" fill="none" stroke="#2b2420" stroke-width="1.7"/>
<rect x="435.70" y="464.60" width="40.70" height="40.80" fill="#8b837f"/>
<circle cx="456.05" cy="485.00" r="19.05" fill="#a39b9f"/>
<circle cx="456.05" cy="485.00" r="19.05" fill="none" stroke="#aea6c8" stroke-width="1.1" opacity="0.75"/>
<circle cx="456.05" cy="485.00" r="16.85" fill="none" stroke="#aea6c8" stroke-width="0.8" opacity="0.35"/>
<path d="M464.62 468.24 A18.25 18.25 0 0 1 471.29 474.52" stroke="#e6e2ee" stroke-width="1" fill="none" opacity="0.55"/>
<path d="M442.33 477.38 A18.05 18.05 0 0 0 442.33 492.62" stroke="#cfc8e8" stroke-width="0.8" fill="none" opacity="0.3"/>
<g fill="#5c4aa4"><circle cx="446.9" cy="483.9" r="0.50" opacity="0.77"/><circle cx="464.6" cy="486.2" r="0.38" opacity="0.78"/><circle cx="441.9" cy="482.4" r="0.31" opacity="0.78"/><circle cx="458.7" cy="495.2" r="0.40" opacity="0.64"/><circle cx="471.6" cy="487.7" r="0.54" opacity="0.81"/><circle cx="467.0" cy="483.6" r="0.48" opacity="0.72"/><circle cx="440.4" cy="481.2" r="0.56" opacity="0.51"/><circle cx="459.7" cy="480.3" r="0.33" opacity="0.49"/><circle cx="450.8" cy="487.1" r="0.41" opacity="0.66"/><circle cx="469.4" cy="492.3" r="0.44" opacity="0.62"/><circle cx="455.5" cy="498.1" r="0.56" opacity="0.67"/><circle cx="454.4" cy="498.8" r="0.55" opacity="0.52"/><circle cx="448.9" cy="495.9" r="0.41" opacity="0.56"/><circle cx="449.5" cy="484.0" r="0.46" opacity="0.85"/><circle cx="452.0" cy="485.0" r="0.47" opacity="0.68"/><circle cx="468.1" cy="492.7" r="0.66" opacity="0.68"/><circle cx="462.0" cy="495.5" r="0.33" opacity="0.52"/><circle cx="463.0" cy="499.7" r="0.33" opacity="0.74"/><circle cx="459.5" cy="491.4" r="0.36" opacity="0.89"/><circle cx="453.3" cy="481.3" r="0.34" opacity="0.59"/><circle cx="463.5" cy="491.5" r="0.55" opacity="0.86"/><circle cx="469.6" cy="488.8" r="0.81" opacity="0.67"/><circle cx="470.8" cy="476.8" r="0.45" opacity="0.64"/><circle cx="453.9" cy="498.8" r="0.34" opacity="0.79"/><circle cx="446.0" cy="488.7" r="0.53" opacity="0.72"/></g>
<rect x="435.70" y="464.60" width="40.70" height="40.80" fill="none" stroke="#2b2420" stroke-width="1.7"/>
<rect x="33.90" y="510.10" width="40.70" height="41.60" fill="#8b837f"/>
<circle cx="54.25" cy="530.90" r="19.05" fill="#a39b9f"/>
<circle cx="54.25" cy="530.90" r="19.05" fill="none" stroke="#aea6c8" stroke-width="1.1" opacity="0.75"/>
<circle cx="54.25" cy="530.90" r="16.85" fill="none" stroke="#aea6c8" stroke-width="0.8" opacity="0.35"/>
<path d="M62.82 514.14 A18.25 18.25 0 0 1 69.49 520.42" stroke="#e6e2ee" stroke-width="1" fill="none" opacity="0.55"/>
<path d="M40.53 523.28 A18.05 18.05 0 0 0 40.53 538.52" stroke="#cfc8e8" stroke-width="0.8" fill="none" opacity="0.3"/>
<g fill="#5c4aa4"><circle cx="48.1" cy="545.0" r="0.31" opacity="0.65"/><circle cx="62.5" cy="524.6" r="0.46" opacity="0.54"/><circle cx="50.2" cy="518.5" r="0.50" opacity="0.69"/><circle cx="56.8" cy="538.8" r="0.30" opacity="0.68"/><circle cx="41.6" cy="522.7" r="0.47" opacity="0.82"/><circle cx="70.8" cy="531.8" r="0.43" opacity="0.49"/><circle cx="56.8" cy="534.6" r="0.31" opacity="0.64"/><circle cx="57.4" cy="513.8" r="0.47" opacity="0.53"/><circle cx="66.3" cy="528.2" r="0.38" opacity="0.53"/><circle cx="55.5" cy="529.7" r="0.41" opacity="0.94"/><circle cx="41.6" cy="534.6" r="0.52" opacity="0.87"/><circle cx="56.1" cy="526.7" r="0.32" opacity="0.65"/><circle cx="57.0" cy="524.9" r="0.58" opacity="0.78"/><circle cx="53.4" cy="546.4" r="0.49" opacity="0.60"/><circle cx="56.2" cy="523.2" r="0.42" opacity="0.58"/><circle cx="70.8" cy="525.1" r="0.33" opacity="0.45"/><circle cx="46.9" cy="539.9" r="0.65" opacity="0.79"/><circle cx="60.6" cy="526.3" r="0.39" opacity="0.81"/><circle cx="51.3" cy="521.5" r="0.56" opacity="0.85"/><circle cx="49.2" cy="525.7" r="0.56" opacity="0.70"/><circle cx="47.6" cy="517.0" r="0.33" opacity="0.63"/><circle cx="64.0" cy="541.9" r="0.32" opacity="0.76"/><circle cx="54.2" cy="515.3" r="0.44" opacity="0.90"/><circle cx="45.5" cy="522.0" r="0.54" opacity="0.75"/><circle cx="48.1" cy="535.9" r="0.60" opacity="0.46"/><circle cx="51.5" cy="525.2" r="0.49" opacity="0.55"/><circle cx="64.5" cy="528.2" r="0.31" opacity="0.78"/><circle cx="69.0" cy="525.8" r="0.40" opacity="0.54"/><circle cx="47.9" cy="541.1" r="0.35" opacity="0.84"/><circle cx="42.5" cy="541.5" r="0.40" opacity="0.58"/><circle cx="65.1" cy="541.0" r="0.67" opacity="0.48"/><circle cx="38.1" cy="534.0" r="0.35" opacity="0.85"/><circle cx="62.6" cy="535.5" r="0.55" opacity="0.77"/><circle cx="62.9" cy="532.0" r="0.50" opacity="0.55"/><circle cx="65.4" cy="536.7" r="0.34" opacity="0.49"/><circle cx="48.9" cy="514.8" r="0.35" opacity="0.84"/><circle cx="57.7" cy="543.0" r="0.33" opacity="0.70"/><circle cx="70.2" cy="535.2" r="0.71" opacity="0.50"/><circle cx="53.9" cy="535.3" r="0.49" opacity="0.70"/><circle cx="45.4" cy="531.0" r="0.47" opacity="0.80"/><circle cx="40.9" cy="526.3" r="0.57" opacity="0.86"/><circle cx="59.7" cy="516.4" r="0.41" opacity="0.95"/><circle cx="49.6" cy="541.7" r="0.67" opacity="0.73"/><circle cx="52.7" cy="538.0" r="0.55" opacity="0.70"/><circle cx="71.3" cy="529.4" r="0.55" opacity="0.62"/><circle cx="43.5" cy="542.3" r="0.41" opacity="0.58"/><circle cx="45.6" cy="516.4" r="0.72" opacity="0.60"/><circle cx="58.3" cy="544.9" r="0.39" opacity="0.63"/><circle cx="57.7" cy="519.0" r="0.29" opacity="0.54"/><circle cx="49.3" cy="524.1" r="0.39" opacity="0.76"/><circle cx="59.3" cy="520.3" r="0.73" opacity="0.52"/><circle cx="39.3" cy="530.5" r="0.29" opacity="0.76"/><circle cx="54.6" cy="541.0" r="0.46" opacity="0.48"/><circle cx="64.7" cy="536.6" r="0.34" opacity="0.61"/><circle cx="40.2" cy="532.4" r="0.57" opacity="0.86"/><circle cx="51.0" cy="535.8" r="0.35" opacity="0.85"/><circle cx="57.1" cy="517.9" r="0.30" opacity="0.77"/><circle cx="47.9" cy="539.3" r="0.79" opacity="0.60"/><circle cx="41.6" cy="527.9" r="0.74" opacity="0.50"/><circle cx="55.0" cy="534.4" r="0.56" opacity="0.48"/><circle cx="56.3" cy="524.6" r="0.29" opacity="0.48"/><circle cx="62.1" cy="524.2" r="0.54" opacity="0.95"/><circle cx="61.5" cy="515.0" r="0.47" opacity="0.93"/><circle cx="48.7" cy="532.8" r="0.30" opacity="0.64"/><circle cx="49.8" cy="531.0" r="0.45" opacity="0.58"/><circle cx="45.1" cy="520.6" r="0.57" opacity="0.90"/><circle cx="52.4" cy="545.8" r="0.37" opacity="0.90"/><circle cx="57.5" cy="520.1" r="0.56" opacity="0.92"/><circle cx="70.7" cy="532.4" r="0.43" opacity="0.89"/><circle cx="58.0" cy="537.7" r="0.50" opacity="0.83"/></g>
<rect x="33.90" y="510.10" width="40.70" height="41.60" fill="none" stroke="#2b2420" stroke-width="1.7"/>
<rect x="77.50" y="510.10" width="40.70" height="41.60" fill="#8b837f"/>
<circle cx="97.85" cy="530.90" r="19.05" fill="#a39b9f"/>
<circle cx="97.85" cy="530.90" r="19.05" fill="none" stroke="#aea6c8" stroke-width="1.1" opacity="0.75"/>
<circle cx="97.85" cy="530.90" r="16.85" fill="none" stroke="#aea6c8" stroke-width="0.8" opacity="0.35"/>
<path d="M106.42 514.14 A18.25 18.25 0 0 1 113.09 520.42" stroke="#e6e2ee" stroke-width="1" fill="none" opacity="0.55"/>
<path d="M84.13 523.28 A18.05 18.05 0 0 0 84.13 538.52" stroke="#cfc8e8" stroke-width="0.8" fill="none" opacity="0.3"/>
<g fill="#5c4aa4"><circle cx="88.3" cy="536.8" r="0.55" opacity="0.60"/><circle cx="107.8" cy="516.9" r="0.83" opacity="0.94"/><circle cx="96.9" cy="546.6" r="0.33" opacity="0.65"/><circle cx="92.2" cy="516.6" r="0.53" opacity="0.89"/><circle cx="88.5" cy="522.1" r="0.51" opacity="0.85"/><circle cx="85.2" cy="542.5" r="0.55" opacity="0.85"/><circle cx="84.8" cy="526.8" r="0.52" opacity="0.78"/><circle cx="102.9" cy="526.3" r="0.30" opacity="0.63"/><circle cx="100.3" cy="533.6" r="0.42" opacity="0.84"/><circle cx="82.1" cy="535.3" r="0.46" opacity="0.48"/><circle cx="93.4" cy="540.8" r="0.30" opacity="0.75"/><circle cx="105.8" cy="535.5" r="0.51" opacity="0.78"/><circle cx="102.3" cy="537.5" r="0.52" opacity="0.50"/><circle cx="86.7" cy="520.3" r="0.51" opacity="0.85"/><circle cx="87.6" cy="540.0" r="0.36" opacity="0.83"/><circle cx="106.9" cy="518.8" r="0.48" opacity="0.90"/><circle cx="85.5" cy="541.6" r="0.30" opacity="0.70"/><circle cx="112.8" cy="527.6" r="0.43" opacity="0.68"/><circle cx="104.7" cy="528.6" r="0.56" opacity="0.60"/><circle cx="95.3" cy="515.2" r="0.49" opacity="0.72"/><circle cx="80.9" cy="533.9" r="0.43" opacity="0.86"/><circle cx="105.2" cy="535.9" r="0.48" opacity="0.86"/><circle cx="81.1" cy="528.8" r="0.43" opacity="0.78"/><circle cx="109.6" cy="540.0" r="0.39" opacity="0.53"/><circle cx="83.2" cy="532.8" r="0.50" opacity="0.68"/><circle cx="93.4" cy="518.7" r="0.29" opacity="0.79"/><circle cx="103.3" cy="533.9" r="0.57" opacity="0.61"/><circle cx="98.2" cy="547.6" r="0.47" opacity="0.79"/><circle cx="100.8" cy="528.6" r="0.33" opacity="0.89"/><circle cx="101.7" cy="532.4" r="0.56" opacity="0.46"/><circle cx="112.6" cy="529.7" r="0.39" opacity="0.90"/><circle cx="111.3" cy="533.2" r="0.53" opacity="0.86"/><circle cx="93.1" cy="516.3" r="0.44" opacity="0.53"/><circle cx="93.9" cy="532.0" r="0.51" opacity="0.72"/><circle cx="80.9" cy="528.7" r="0.40" opacity="0.84"/><circle cx="106.2" cy="534.8" r="0.39" opacity="0.63"/><circle cx="106.2" cy="531.7" r="0.45" opacity="0.95"/><circle cx="104.4" cy="529.4" r="0.83" opacity="0.46"/><circle cx="102.8" cy="515.7" r="0.51" opacity="0.50"/><circle cx="92.2" cy="527.4" r="0.30" opacity="0.53"/><circle cx="84.2" cy="525.2" r="0.56" opacity="0.94"/><circle cx="105.8" cy="531.1" r="0.49" opacity="0.91"/><circle cx="88.2" cy="516.9" r="0.36" opacity="0.64"/><circle cx="85.9" cy="541.2" r="0.34" opacity="0.47"/><circle cx="100.4" cy="519.6" r="0.31" opacity="0.90"/><circle cx="87.0" cy="536.9" r="0.30" opacity="0.50"/><circle cx="109.4" cy="535.9" r="0.42" opacity="0.79"/><circle cx="103.9" cy="547.3" r="0.55" opacity="0.62"/><circle cx="110.9" cy="529.9" r="0.52" opacity="0.50"/><circle cx="84.7" cy="533.4" r="0.34" opacity="0.52"/><circle cx="97.7" cy="529.1" r="0.44" opacity="0.50"/><circle cx="114.2" cy="532.8" r="0.41" opacity="0.77"/><circle cx="113.9" cy="528.9" r="0.43" opacity="0.84"/><circle cx="114.3" cy="529.7" r="0.49" opacity="0.60"/><circle cx="88.9" cy="528.2" r="0.49" opacity="0.73"/><circle cx="87.1" cy="527.3" r="0.31" opacity="0.72"/><circle cx="95.4" cy="542.8" r="0.33" opacity="0.67"/><circle cx="104.7" cy="535.3" r="0.46" opacity="0.81"/><circle cx="81.2" cy="527.8" r="0.41" opacity="0.53"/><circle cx="111.7" cy="534.7" r="0.38" opacity="0.81"/><circle cx="113.4" cy="525.1" r="0.33" opacity="0.60"/><circle cx="91.1" cy="526.4" r="0.58" opacity="0.68"/><circle cx="90.9" cy="538.5" r="0.35" opacity="0.94"/><circle cx="114.5" cy="529.9" r="0.44" opacity="0.62"/><circle cx="97.0" cy="517.9" r="0.54" opacity="0.74"/><circle cx="108.5" cy="528.2" r="0.37" opacity="0.72"/><circle cx="84.6" cy="535.0" r="0.52" opacity="0.63"/><circle cx="96.3" cy="528.8" r="0.54" opacity="0.84"/><circle cx="88.2" cy="517.0" r="0.46" opacity="0.50"/><circle cx="107.1" cy="533.6" r="0.39" opacity="0.87"/><circle cx="94.5" cy="518.9" r="0.37" opacity="0.79"/><circle cx="96.1" cy="525.1" r="0.34" opacity="0.49"/><circle cx="98.7" cy="544.1" r="0.44" opacity="0.77"/><circle cx="113.6" cy="538.6" r="0.82" opacity="0.64"/><circle cx="103.4" cy="535.2" r="0.33" opacity="0.82"/><circle cx="97.4" cy="531.1" r="0.51" opacity="0.70"/><circle cx="94.4" cy="518.7" r="0.50" opacity="0.75"/><circle cx="96.7" cy="530.6" r="0.55" opacity="0.67"/><circle cx="98.4" cy="545.4" r="0.53" opacity="0.71"/><circle cx="102.1" cy="540.9" r="0.80" opacity="0.72"/></g>
<rect x="77.50" y="510.10" width="40.70" height="41.60" fill="none" stroke="#2b2420" stroke-width="1.7"/>
<rect x="121.40" y="510.10" width="40.70" height="41.60" fill="#8b837f"/>
<circle cx="141.75" cy="530.90" r="19.05" fill="#a39b9f"/>
<circle cx="141.75" cy="530.90" r="19.05" fill="none" stroke="#aea6c8" stroke-width="1.1" opacity="0.75"/>
<circle cx="141.75" cy="530.90" r="16.85" fill="none" stroke="#aea6c8" stroke-width="0.8" opacity="0.35"/>
<path d="M150.32 514.14 A18.25 18.25 0 0 1 156.99 520.42" stroke="#e6e2ee" stroke-width="1" fill="none" opacity="0.55"/>
<path d="M128.03 523.28 A18.05 18.05 0 0 0 128.03 538.52" stroke="#cfc8e8" stroke-width="0.8" fill="none" opacity="0.3"/>
<g fill="#5c4aa4"><circle cx="129.6" cy="531.4" r="0.51" opacity="0.62"/><circle cx="128.5" cy="527.0" r="0.49" opacity="0.82"/><circle cx="151.8" cy="520.7" r="0.36" opacity="0.45"/><circle cx="134.8" cy="530.7" r="0.37" opacity="0.45"/><circle cx="142.9" cy="521.0" r="0.48" opacity="0.60"/><circle cx="136.2" cy="528.0" r="0.32" opacity="0.49"/><circle cx="150.6" cy="530.2" r="0.54" opacity="0.49"/><circle cx="131.8" cy="538.2" r="0.35" opacity="0.65"/><circle cx="132.8" cy="532.4" r="0.46" opacity="0.72"/><circle cx="158.1" cy="534.7" r="0.40" opacity="0.54"/><circle cx="139.3" cy="544.2" r="0.41" opacity="0.68"/><circle cx="130.9" cy="542.8" r="0.52" opacity="0.88"/><circle cx="127.4" cy="523.8" r="0.32" opacity="0.45"/><circle cx="134.1" cy="517.3" r="0.34" opacity="0.57"/><circle cx="145.8" cy="525.1" r="0.36" opacity="0.68"/><circle cx="143.9" cy="518.6" r="0.83" opacity="0.77"/><circle cx="146.2" cy="532.9" r="0.41" opacity="0.79"/><circle cx="140.2" cy="523.6" r="0.56" opacity="0.74"/><circle cx="146.4" cy="519.1" r="0.53" opacity="0.74"/><circle cx="140.8" cy="545.1" r="0.44" opacity="0.93"/><circle cx="152.5" cy="521.7" r="0.49" opacity="0.46"/><circle cx="147.7" cy="542.7" r="0.38" opacity="0.58"/><circle cx="135.4" cy="525.5" r="0.66" opacity="0.89"/><circle cx="136.9" cy="545.4" r="0.35" opacity="0.74"/><circle cx="134.0" cy="541.7" r="0.45" opacity="0.69"/><circle cx="153.1" cy="543.5" r="0.62" opacity="0.75"/><circle cx="133.2" cy="532.6" r="0.33" opacity="0.70"/><circle cx="130.4" cy="529.4" r="0.86" opacity="0.63"/><circle cx="136.5" cy="540.0" r="0.49" opacity="0.79"/><circle cx="143.7" cy="537.8" r="0.44" opacity="0.73"/><circle cx="129.2" cy="537.4" r="0.42" opacity="0.55"/><circle cx="136.4" cy="539.0" r="0.35" opacity="0.53"/><circle cx="155.4" cy="531.3" r="0.48" opacity="0.66"/><circle cx="134.8" cy="539.2" r="0.35" opacity="0.73"/><circle cx="134.2" cy="524.7" r="0.54" opacity="0.51"/><circle cx="141.5" cy="543.1" r="0.45" opacity="0.52"/><circle cx="151.6" cy="524.7" r="0.42" opacity="0.67"/><circle cx="148.6" cy="538.1" r="0.31" opacity="0.48"/><circle cx="149.3" cy="537.5" r="0.48" opacity="0.75"/><circle cx="127.9" cy="537.4" r="0.35" opacity="0.48"/><circle cx="135.1" cy="515.2" r="0.28" opacity="0.60"/><circle cx="133.0" cy="529.5" r="0.42" opacity="0.47"/><circle cx="131.9" cy="525.7" r="0.29" opacity="0.65"/><circle cx="141.8" cy="547.5" r="0.32" opacity="0.61"/><circle cx="150.0" cy="527.4" r="0.49" opacity="0.83"/><circle cx="146.5" cy="538.4" r="0.50" opacity="0.84"/><circle cx="137.7" cy="545.6" r="0.30" opacity="0.68"/><circle cx="145.3" cy="544.4" r="0.47" opacity="0.48"/><circle cx="140.8" cy="545.3" r="0.29" opacity="0.68"/><circle cx="139.9" cy="546.0" r="0.42" opacity="0.66"/><circle cx="132.5" cy="538.4" r="0.42" opacity="0.51"/><circle cx="129.0" cy="526.0" r="0.40" opacity="0.55"/><circle cx="148.1" cy="543.8" r="0.31" opacity="0.77"/><circle cx="154.4" cy="541.2" r="0.45" opacity="0.56"/><circle cx="152.8" cy="535.3" r="0.57" opacity="0.83"/><circle cx="151.1" cy="534.1" r="0.29" opacity="0.63"/><circle cx="138.5" cy="528.8" r="0.35" opacity="0.51"/><circle cx="127.9" cy="527.9" r="0.55" opacity="0.92"/><circle cx="150.8" cy="520.7" r="0.30" opacity="0.68"/><circle cx="151.1" cy="532.6" r="0.45" opacity="0.84"/><circle cx="135.9" cy="517.7" r="0.50" opacity="0.67"/><circle cx="140.2" cy="534.1" r="0.58" opacity="0.86"/><circle cx="135.7" cy="531.3" r="0.42" opacity="0.46"/><circle cx="141.6" cy="522.6" r="0.48" opacity="0.58"/><circle cx="138.2" cy="534.0" r="0.52" opacity="0.82"/><circle cx="153.5" cy="541.5" r="0.56" opacity="0.70"/><circle cx="155.8" cy="535.0" r="0.45" opacity="0.85"/><circle cx="127.9" cy="538.2" r="0.41" opacity="0.49"/><circle cx="154.1" cy="523.5" r="0.31" opacity="0.68"/><circle cx="149.7" cy="541.8" r="0.45" opacity="0.79"/><circle cx="158.2" cy="531.5" r="0.30" opacity="0.70"/><circle cx="137.4" cy="538.5" r="0.34" opacity="0.88"/><circle cx="126.3" cy="522.9" r="0.39" opacity="0.75"/><circle cx="152.3" cy="526.7" r="0.51" opacity="0.50"/><circle cx="145.8" cy="529.0" r="0.69" opacity="0.95"/></g>
<rect x="121.40" y="510.10" width="40.70" height="41.60" fill="none" stroke="#2b2420" stroke-width="1.7"/>
<rect x="164.90" y="510.10" width="40.70" height="41.60" fill="#8b837f"/>
<circle cx="185.25" cy="530.90" r="19.05" fill="#a39b9f"/>
<circle cx="185.25" cy="530.90" r="19.05" fill="none" stroke="#aea6c8" stroke-width="1.1" opacity="0.75"/>
<circle cx="185.25" cy="530.90" r="16.85" fill="none" stroke="#aea6c8" stroke-width="0.8" opacity="0.35"/>
<path d="M193.82 514.14 A18.25 18.25 0 0 1 200.49 520.42" stroke="#e6e2ee" stroke-width="1" fill="none" opacity="0.55"/>
<path d="M171.53 523.28 A18.05 18.05 0 0 0 171.53 538.52" stroke="#cfc8e8" stroke-width="0.8" fill="none" opacity="0.3"/>
<g fill="#5c4aa4"><circle cx="177.5" cy="531.7" r="0.58" opacity="0.82"/><circle cx="186.7" cy="528.4" r="0.51" opacity="0.64"/><circle cx="176.5" cy="531.4" r="0.44" opacity="0.47"/><circle cx="182.3" cy="543.2" r="0.52" opacity="0.59"/><circle cx="197.9" cy="522.5" r="0.49" opacity="0.89"/><circle cx="194.8" cy="525.7" r="0.49" opacity="0.91"/><circle cx="177.9" cy="518.6" r="0.32" opacity="0.81"/><circle cx="169.2" cy="528.7" r="0.53" opacity="0.82"/><circle cx="172.0" cy="530.7" r="0.29" opacity="0.57"/><circle cx="188.8" cy="535.1" r="0.82" opacity="0.63"/><circle cx="178.3" cy="523.8" r="0.47" opacity="0.80"/><circle cx="178.1" cy="516.9" r="0.40" opacity="0.64"/><circle cx="186.6" cy="525.9" r="0.56" opacity="0.86"/><circle cx="192.8" cy="543.6" r="0.31" opacity="0.55"/><circle cx="199.2" cy="524.3" r="0.44" opacity="0.76"/><circle cx="185.4" cy="520.4" r="0.39" opacity="0.56"/><circle cx="201.5" cy="531.9" r="0.56" opacity="0.80"/><circle cx="188.4" cy="532.8" r="0.58" opacity="0.66"/><circle cx="199.5" cy="531.0" r="0.42" opacity="0.83"/><circle cx="170.1" cy="531.2" r="0.29" opacity="0.87"/><circle cx="171.1" cy="525.8" r="0.29" opacity="0.83"/><circle cx="175.0" cy="530.7" r="0.36" opacity="0.84"/><circle cx="193.7" cy="518.2" r="0.37" opacity="0.57"/><circle cx="195.0" cy="524.6" r="0.35" opacity="0.77"/><circle cx="183.3" cy="540.5" r="0.36" opacity="0.95"/><circle cx="180.6" cy="528.0" r="0.43" opacity="0.82"/><circle cx="192.6" cy="532.6" r="0.54" opacity="0.46"/><circle cx="185.1" cy="534.6" r="0.32" opacity="0.75"/><circle cx="199.1" cy="535.9" r="0.58" opacity="0.45"/><circle cx="174.2" cy="519.4" r="0.58" opacity="0.82"/><circle cx="186.0" cy="517.5" r="0.48" opacity="0.54"/><circle cx="199.1" cy="532.9" r="0.29" opacity="0.66"/><circle cx="188.7" cy="529.7" r="0.46" opacity="0.65"/><circle cx="177.9" cy="522.5" r="0.35" opacity="0.64"/><circle cx="180.3" cy="514.2" r="0.42" opacity="0.46"/><circle cx="173.7" cy="520.4" r="0.46" opacity="0.69"/><circle cx="185.5" cy="542.2" r="0.68" opacity="0.71"/><circle cx="182.2" cy="523.0" r="0.50" opacity="0.52"/><circle cx="180.6" cy="515.1" r="0.32" opacity="0.49"/><circle cx="170.1" cy="524.2" r="0.48" opacity="0.69"/><circle cx="183.0" cy="521.5" r="0.45" opacity="0.75"/><circle cx="196.4" cy="537.6" r="0.62" opacity="0.77"/><circle cx="176.7" cy="542.3" r="0.41" opacity="0.84"/><circle cx="198.5" cy="535.0" r="0.37" opacity="0.63"/><circle cx="190.7" cy="538.2" r="0.52" opacity="0.80"/><circle cx="202.1" cy="533.7" r="0.42" opacity="0.88"/><circle cx="182.8" cy="540.9" r="0.42" opacity="0.60"/><circle cx="190.5" cy="526.4" r="0.34" opacity="0.77"/><circle cx="187.0" cy="541.7" r="0.83" opacity="0.61"/><circle cx="177.0" cy="531.1" r="0.34" opacity="0.82"/><circle cx="181.7" cy="541.9" r="0.36" opacity="0.89"/><circle cx="191.0" cy="527.7" r="0.57" opacity="0.78"/><circle cx="176.1" cy="532.1" r="0.42" opacity="0.48"/><circle cx="180.3" cy="523.0" r="0.52" opacity="0.54"/><circle cx="178.2" cy="537.0" r="0.30" opacity="0.92"/><circle cx="180.0" cy="516.1" r="0.40" opacity="0.76"/><circle cx="173.0" cy="532.9" r="0.79" opacity="0.47"/><circle cx="190.3" cy="524.6" r="0.56" opacity="0.80"/><circle cx="181.3" cy="531.5" r="0.53" opacity="0.94"/><circle cx="199.2" cy="540.6" r="0.50" opacity="0.81"/><circle cx="171.4" cy="533.0" r="0.57" opacity="0.55"/><circle cx="195.0" cy="531.4" r="0.35" opacity="0.58"/><circle cx="189.9" cy="521.2" r="0.51" opacity="0.48"/><circle cx="174.5" cy="525.8" r="0.57" opacity="0.47"/><circle cx="190.8" cy="547.1" r="0.57" opacity="0.54"/></g>
<rect x="164.90" y="510.10" width="40.70" height="41.60" fill="none" stroke="#2b2420" stroke-width="1.7"/>
<rect x="208.50" y="510.10" width="40.70" height="41.60" fill="#8b837f"/>
<circle cx="228.85" cy="530.90" r="19.05" fill="#a39b9f"/>
<circle cx="228.85" cy="530.90" r="19.05" fill="none" stroke="#aea6c8" stroke-width="1.1" opacity="0.75"/>
<circle cx="228.85" cy="530.90" r="16.85" fill="none" stroke="#aea6c8" stroke-width="0.8" opacity="0.35"/>
<path d="M237.42 514.14 A18.25 18.25 0 0 1 244.09 520.42" stroke="#e6e2ee" stroke-width="1" fill="none" opacity="0.55"/>
<path d="M215.13 523.28 A18.05 18.05 0 0 0 215.13 538.52" stroke="#cfc8e8" stroke-width="0.8" fill="none" opacity="0.3"/>
<g fill="#5c4aa4"><circle cx="222.1" cy="518.8" r="0.45" opacity="0.86"/><circle cx="235.6" cy="537.3" r="0.46" opacity="0.77"/><circle cx="218.5" cy="543.2" r="0.36" opacity="0.92"/><circle cx="227.1" cy="539.6" r="0.29" opacity="0.58"/><circle cx="211.7" cy="528.4" r="0.37" opacity="0.63"/><circle cx="224.2" cy="537.9" r="0.53" opacity="0.56"/><circle cx="225.9" cy="516.3" r="0.49" opacity="0.51"/><circle cx="226.5" cy="519.1" r="0.41" opacity="0.53"/><circle cx="229.5" cy="540.5" r="0.58" opacity="0.71"/><circle cx="231.8" cy="521.3" r="0.30" opacity="0.49"/><circle cx="227.5" cy="515.1" r="0.70" opacity="0.49"/><circle cx="234.3" cy="536.1" r="0.73" opacity="0.67"/><circle cx="224.1" cy="535.9" r="0.35" opacity="0.80"/><circle cx="231.6" cy="542.9" r="0.54" opacity="0.85"/><circle cx="239.7" cy="525.9" r="0.62" opacity="0.75"/><circle cx="242.1" cy="527.5" r="0.68" opacity="0.83"/><circle cx="240.6" cy="538.3" r="0.51" opacity="0.87"/><circle cx="233.8" cy="533.9" r="0.57" opacity="0.59"/><circle cx="229.1" cy="514.7" r="0.38" opacity="0.56"/><circle cx="219.2" cy="517.5" r="0.36" opacity="0.52"/><circle cx="228.0" cy="542.3" r="0.73" opacity="0.89"/><circle cx="240.4" cy="520.9" r="0.57" opacity="0.58"/><circle cx="231.3" cy="542.7" r="0.38" opacity="0.65"/><circle cx="219.6" cy="533.2" r="0.47" opacity="0.76"/><circle cx="219.4" cy="543.3" r="0.33" opacity="0.62"/><circle cx="232.7" cy="514.7" r="0.30" opacity="0.69"/><circle cx="227.5" cy="523.3" r="0.53" opacity="0.67"/><circle cx="223.1" cy="527.3" r="0.35" opacity="0.55"/><circle cx="214.7" cy="531.1" r="0.52" opacity="0.55"/><circle cx="220.5" cy="530.6" r="0.42" opacity="0.58"/><circle cx="235.8" cy="518.6" r="0.62" opacity="0.47"/><circle cx="236.8" cy="527.2" r="0.29" opacity="0.69"/><circle cx="226.6" cy="521.3" r="0.55" opacity="0.66"/><circle cx="227.1" cy="531.4" r="0.32" opacity="0.84"/><circle cx="228.0" cy="543.5" r="0.28" opacity="0.78"/><circle cx="217.6" cy="533.4" r="0.39" opacity="0.93"/><circle cx="226.2" cy="539.8" r="0.44" opacity="0.54"/><circle cx="213.5" cy="523.5" r="0.54" opacity="0.63"/><circle cx="225.4" cy="526.6" r="0.57" opacity="0.78"/><circle cx="231.1" cy="523.3" r="0.39" opacity="0.77"/><circle cx="220.6" cy="540.0" r="0.53" opacity="0.80"/><circle cx="212.8" cy="530.2" r="0.31" opacity="0.65"/><circle cx="241.4" cy="529.7" r="0.41" opacity="0.59"/><circle cx="215.9" cy="539.2" r="0.51" opacity="0.59"/><circle cx="236.5" cy="524.2" r="0.46" opacity="0.89"/><circle cx="230.8" cy="544.8" r="0.54" opacity="0.72"/><circle cx="238.1" cy="535.6" r="0.45" opacity="0.82"/><circle cx="230.4" cy="538.9" r="0.36" opacity="0.58"/><circle cx="221.6" cy="523.2" r="0.30" opacity="0.65"/><circle cx="215.5" cy="533.9" r="0.37" opacity="0.54"/></g>
<rect x="208.50" y="510.10" width="40.70" height="41.60" fill="none" stroke="#2b2420" stroke-width="1.7"/>
<rect x="261.00" y="510.10" width="40.70" height="41.60" fill="#8b837f"/>
<circle cx="281.35" cy="530.90" r="19.05" fill="#a39b9f"/>
<circle cx="281.35" cy="530.90" r="19.05" fill="none" stroke="#aea6c8" stroke-width="1.1" opacity="0.75"/>
<circle cx="281.35" cy="530.90" r="16.85" fill="none" stroke="#aea6c8" stroke-width="0.8" opacity="0.35"/>
<path d="M289.92 514.14 A18.25 18.25 0 0 1 296.59 520.42" stroke="#e6e2ee" stroke-width="1" fill="none" opacity="0.55"/>
<path d="M267.63 523.28 A18.05 18.05 0 0 0 267.63 538.52" stroke="#cfc8e8" stroke-width="0.8" fill="none" opacity="0.3"/>
<g fill="#5c4aa4"><circle cx="270.0" cy="525.1" r="0.41" opacity="0.66"/><circle cx="290.3" cy="541.7" r="0.29" opacity="0.80"/><circle cx="288.7" cy="533.4" r="0.57" opacity="0.76"/><circle cx="268.2" cy="539.7" r="0.81" opacity="0.83"/><circle cx="280.4" cy="546.2" r="0.29" opacity="0.54"/><circle cx="294.3" cy="519.7" r="0.43" opacity="0.58"/><circle cx="291.5" cy="520.7" r="0.50" opacity="0.58"/><circle cx="278.5" cy="527.5" r="0.44" opacity="0.46"/><circle cx="267.4" cy="528.5" r="0.35" opacity="0.82"/><circle cx="287.1" cy="527.3" r="0.28" opacity="0.68"/><circle cx="296.0" cy="539.9" r="0.35" opacity="0.55"/><circle cx="292.9" cy="527.6" r="0.35" opacity="0.60"/><circle cx="288.8" cy="539.1" r="0.56" opacity="0.85"/><circle cx="264.6" cy="533.9" r="0.43" opacity="0.82"/><circle cx="277.0" cy="529.5" r="0.52" opacity="0.89"/><circle cx="291.8" cy="524.7" r="0.34" opacity="0.74"/><circle cx="292.2" cy="536.8" r="0.29" opacity="0.54"/><circle cx="278.0" cy="518.1" r="0.30" opacity="0.89"/><circle cx="278.4" cy="547.6" r="0.35" opacity="0.78"/><circle cx="270.3" cy="543.9" r="0.55" opacity="0.85"/><circle cx="269.8" cy="528.1" r="0.29" opacity="0.55"/><circle cx="279.6" cy="526.2" r="0.49" opacity="0.69"/><circle cx="273.1" cy="540.7" r="0.56" opacity="0.82"/><circle cx="286.3" cy="516.3" r="0.57" opacity="0.50"/><circle cx="280.2" cy="543.5" r="0.46" opacity="0.81"/><circle cx="276.0" cy="521.9" r="0.37" opacity="0.91"/><circle cx="285.2" cy="543.7" r="0.53" opacity="0.66"/><circle cx="284.8" cy="527.6" r="0.40" opacity="0.90"/><circle cx="296.8" cy="534.9" r="0.35" opacity="0.55"/><circle cx="277.3" cy="529.9" r="0.55" opacity="0.64"/><circle cx="293.2" cy="527.0" r="0.43" opacity="0.46"/><circle cx="298.2" cy="531.4" r="0.55" opacity="0.87"/><circle cx="290.2" cy="535.9" r="0.34" opacity="0.68"/><circle cx="285.9" cy="537.8" r="0.80" opacity="0.51"/><circle cx="277.8" cy="518.0" r="0.40" opacity="0.50"/><circle cx="294.6" cy="540.8" r="0.56" opacity="0.81"/><circle cx="264.9" cy="524.9" r="0.32" opacity="0.72"/><circle cx="285.1" cy="533.9" r="0.38" opacity="0.60"/><circle cx="281.8" cy="542.9" r="0.48" opacity="0.45"/><circle cx="269.9" cy="541.5" r="0.34" opacity="0.55"/><circle cx="270.2" cy="542.6" r="0.45" opacity="0.63"/><circle cx="278.5" cy="522.9" r="0.32" opacity="0.47"/><circle cx="285.0" cy="537.7" r="0.43" opacity="0.88"/><circle cx="281.1" cy="547.1" r="0.46" opacity="0.66"/><circle cx="272.1" cy="527.7" r="0.46" opacity="0.93"/><circle cx="293.0" cy="519.4" r="0.65" opacity="0.50"/><circle cx="293.4" cy="541.5" r="0.32" opacity="0.61"/><circle cx="285.7" cy="541.8" r="0.56" opacity="0.77"/><circle cx="276.8" cy="533.3" r="0.42" opacity="0.54"/><circle cx="295.0" cy="533.4" r="0.56" opacity="0.50"/><circle cx="279.9" cy="543.0" r="0.54" opacity="0.61"/><circle cx="283.7" cy="515.5" r="0.82" opacity="0.84"/><circle cx="281.8" cy="544.0" r="0.48" opacity="0.75"/><circle cx="278.3" cy="522.2" r="0.31" opacity="0.69"/><circle cx="279.5" cy="525.6" r="0.33" opacity="0.76"/><circle cx="276.5" cy="538.0" r="0.54" opacity="0.52"/><circle cx="288.9" cy="515.1" r="0.49" opacity="0.65"/><circle cx="277.5" cy="524.8" r="0.49" opacity="0.87"/><circle cx="280.1" cy="543.6" r="0.54" opacity="0.56"/></g>
<rect x="261.00" y="510.10" width="40.70" height="41.60" fill="none" stroke="#2b2420" stroke-width="1.7"/>
<rect x="304.70" y="510.10" width="40.70" height="41.60" fill="#8b837f"/>
<circle cx="325.05" cy="530.90" r="19.05" fill="#a39b9f"/>
<circle cx="325.05" cy="530.90" r="19.05" fill="none" stroke="#aea6c8" stroke-width="1.1" opacity="0.75"/>
<circle cx="325.05" cy="530.90" r="16.85" fill="none" stroke="#aea6c8" stroke-width="0.8" opacity="0.35"/>
<path d="M333.62 514.14 A18.25 18.25 0 0 1 340.29 520.42" stroke="#e6e2ee" stroke-width="1" fill="none" opacity="0.55"/>
<path d="M311.33 523.28 A18.05 18.05 0 0 0 311.33 538.52" stroke="#cfc8e8" stroke-width="0.8" fill="none" opacity="0.3"/>
<g fill="#5c4aa4"><circle cx="335.1" cy="535.8" r="0.58" opacity="0.62"/><circle cx="332.2" cy="515.9" r="0.43" opacity="0.87"/><circle cx="318.7" cy="529.9" r="0.41" opacity="0.45"/><circle cx="342.2" cy="533.7" r="0.32" opacity="0.54"/><circle cx="329.4" cy="515.2" r="0.57" opacity="0.61"/><circle cx="336.1" cy="531.6" r="0.30" opacity="0.71"/><circle cx="329.4" cy="543.7" r="0.56" opacity="0.73"/><circle cx="324.1" cy="527.6" r="0.82" opacity="0.71"/><circle cx="325.4" cy="530.0" r="0.50" opacity="0.57"/><circle cx="339.1" cy="521.3" r="0.32" opacity="0.87"/><circle cx="326.9" cy="546.3" r="0.36" opacity="0.69"/><circle cx="334.3" cy="543.8" r="0.50" opacity="0.89"/><circle cx="312.3" cy="541.6" r="0.44" opacity="0.52"/><circle cx="336.6" cy="539.3" r="0.32" opacity="0.78"/><circle cx="311.3" cy="522.2" r="0.37" opacity="0.94"/><circle cx="329.0" cy="545.0" r="0.34" opacity="0.85"/><circle cx="312.9" cy="540.5" r="0.40" opacity="0.94"/><circle cx="314.4" cy="541.0" r="0.80" opacity="0.84"/><circle cx="328.3" cy="514.5" r="0.31" opacity="0.93"/><circle cx="325.2" cy="528.9" r="0.50" opacity="0.46"/><circle cx="332.2" cy="533.8" r="0.54" opacity="0.68"/><circle cx="315.7" cy="520.7" r="0.32" opacity="0.46"/><circle cx="330.3" cy="546.1" r="0.30" opacity="0.83"/><circle cx="334.8" cy="543.0" r="0.41" opacity="0.71"/><circle cx="326.3" cy="540.5" r="0.57" opacity="0.60"/><circle cx="328.0" cy="518.7" r="0.51" opacity="0.64"/><circle cx="317.3" cy="538.3" r="0.58" opacity="0.63"/><circle cx="323.3" cy="541.0" r="0.40" opacity="0.65"/><circle cx="312.3" cy="524.6" r="0.47" opacity="0.49"/><circle cx="322.9" cy="536.0" r="0.32" opacity="0.86"/><circle cx="311.5" cy="532.5" r="0.44" opacity="0.50"/><circle cx="325.1" cy="534.3" r="0.29" opacity="0.55"/><circle cx="317.8" cy="525.0" r="0.35" opacity="0.76"/><circle cx="327.6" cy="516.6" r="0.41" opacity="0.75"/><circle cx="321.2" cy="523.0" r="0.35" opacity="0.45"/><circle cx="323.1" cy="531.7" r="0.34" opacity="0.52"/><circle cx="324.3" cy="521.4" r="0.51" opacity="0.65"/><circle cx="311.5" cy="530.1" r="0.32" opacity="0.91"/><circle cx="332.6" cy="519.3" r="0.53" opacity="0.52"/><circle cx="314.3" cy="529.9" r="0.57" opacity="0.71"/><circle cx="318.8" cy="547.1" r="0.49" opacity="0.75"/><circle cx="314.8" cy="531.4" r="0.64" opacity="0.80"/><circle cx="331.3" cy="519.4" r="0.44" opacity="0.49"/><circle cx="321.9" cy="528.8" r="0.41" opacity="0.82"/><circle cx="339.1" cy="537.8" r="0.31" opacity="0.47"/><circle cx="318.9" cy="529.5" r="0.44" opacity="0.47"/><circle cx="337.7" cy="527.9" r="0.50" opacity="0.59"/><circle cx="341.0" cy="525.1" r="0.87" opacity="0.88"/><circle cx="336.4" cy="531.2" r="0.31" opacity="0.61"/><circle cx="319.8" cy="542.6" r="0.53" opacity="0.56"/><circle cx="333.2" cy="536.8" r="0.37" opacity="0.78"/><circle cx="334.3" cy="528.5" r="0.29" opacity="0.92"/><circle cx="317.5" cy="517.7" r="0.39" opacity="0.56"/><circle cx="332.7" cy="520.7" r="0.43" opacity="0.54"/><circle cx="319.7" cy="536.0" r="0.50" opacity="0.61"/><circle cx="324.9" cy="523.6" r="0.41" opacity="0.81"/><circle cx="340.3" cy="530.1" r="0.70" opacity="0.76"/><circle cx="340.7" cy="524.2" r="0.48" opacity="0.71"/><circle cx="317.0" cy="544.2" r="0.49" opacity="0.65"/><circle cx="331.5" cy="526.7" r="0.33" opacity="0.63"/><circle cx="326.0" cy="532.2" r="0.36" opacity="0.68"/><circle cx="341.8" cy="535.5" r="0.58" opacity="0.84"/><circle cx="327.2" cy="527.4" r="0.42" opacity="0.66"/><circle cx="320.2" cy="535.2" r="0.45" opacity="0.46"/><circle cx="332.9" cy="535.4" r="0.37" opacity="0.84"/><circle cx="312.0" cy="524.3" r="0.41" opacity="0.76"/><circle cx="320.3" cy="517.6" r="0.39" opacity="0.71"/><circle cx="327.7" cy="515.1" r="0.34" opacity="0.73"/></g>
<rect x="304.70" y="510.10" width="40.70" height="41.60" fill="none" stroke="#2b2420" stroke-width="1.7"/>
<rect x="348.40" y="510.10" width="40.70" height="41.60" fill="#8b837f"/>
<circle cx="368.75" cy="530.90" r="19.05" fill="#a39b9f"/>
<circle cx="368.75" cy="530.90" r="19.05" fill="none" stroke="#aea6c8" stroke-width="1.1" opacity="0.75"/>
<circle cx="368.75" cy="530.90" r="16.85" fill="none" stroke="#aea6c8" stroke-width="0.8" opacity="0.35"/>
<path d="M377.32 514.14 A18.25 18.25 0 0 1 383.99 520.42" stroke="#e6e2ee" stroke-width="1" fill="none" opacity="0.55"/>
<path d="M355.03 523.28 A18.05 18.05 0 0 0 355.03 538.52" stroke="#cfc8e8" stroke-width="0.8" fill="none" opacity="0.3"/>
<g fill="#5c4aa4"><circle cx="372.8" cy="541.9" r="0.49" opacity="0.88"/><circle cx="368.8" cy="537.6" r="0.41" opacity="0.81"/><circle cx="384.9" cy="524.9" r="0.49" opacity="0.90"/><circle cx="362.5" cy="529.2" r="0.35" opacity="0.46"/><circle cx="361.9" cy="522.7" r="0.35" opacity="0.58"/><circle cx="363.1" cy="533.9" r="0.58" opacity="0.71"/><circle cx="365.9" cy="518.4" r="0.46" opacity="0.81"/><circle cx="380.4" cy="520.6" r="0.47" opacity="0.45"/><circle cx="363.3" cy="519.8" r="0.35" opacity="0.77"/><circle cx="367.4" cy="530.1" r="0.44" opacity="0.61"/><circle cx="370.8" cy="528.2" r="0.51" opacity="0.53"/><circle cx="383.3" cy="539.1" r="0.39" opacity="0.81"/><circle cx="369.0" cy="526.3" r="0.36" opacity="0.64"/><circle cx="370.4" cy="546.4" r="0.44" opacity="0.69"/><circle cx="373.5" cy="523.0" r="0.40" opacity="0.87"/><circle cx="366.4" cy="520.1" r="0.37" opacity="0.85"/><circle cx="356.0" cy="521.0" r="0.34" opacity="0.67"/><circle cx="366.5" cy="546.6" r="0.33" opacity="0.60"/><circle cx="357.3" cy="528.3" r="0.40" opacity="0.72"/><circle cx="356.7" cy="539.0" r="0.73" opacity="0.73"/><circle cx="354.0" cy="539.4" r="0.45" opacity="0.62"/><circle cx="352.6" cy="530.5" r="0.35" opacity="0.85"/><circle cx="356.9" cy="537.4" r="0.31" opacity="0.53"/><circle cx="364.2" cy="515.1" r="0.83" opacity="0.59"/><circle cx="361.1" cy="517.6" r="0.87" opacity="0.63"/><circle cx="363.4" cy="542.0" r="0.54" opacity="0.73"/><circle cx="364.3" cy="537.2" r="0.45" opacity="0.49"/><circle cx="381.6" cy="541.6" r="0.54" opacity="0.62"/><circle cx="364.6" cy="524.9" r="0.46" opacity="0.68"/><circle cx="373.9" cy="529.8" r="0.45" opacity="0.94"/><circle cx="360.2" cy="544.7" r="0.55" opacity="0.67"/><circle cx="353.4" cy="528.1" r="0.32" opacity="0.55"/><circle cx="372.0" cy="539.6" r="0.56" opacity="0.50"/><circle cx="353.6" cy="535.3" r="0.87" opacity="0.49"/><circle cx="378.3" cy="538.5" r="0.50" opacity="0.74"/><circle cx="381.0" cy="519.9" r="0.33" opacity="0.75"/><circle cx="363.3" cy="528.4" r="0.54" opacity="0.88"/><circle cx="359.5" cy="517.4" r="0.68" opacity="0.67"/><circle cx="369.9" cy="525.9" r="0.42" opacity="0.59"/><circle cx="365.0" cy="524.1" r="0.34" opacity="0.51"/><circle cx="372.0" cy="533.8" r="0.50" opacity="0.74"/><circle cx="371.6" cy="517.4" r="0.40" opacity="0.83"/><circle cx="378.7" cy="538.4" r="0.51" opacity="0.61"/><circle cx="361.0" cy="536.4" r="0.39" opacity="0.91"/><circle cx="358.4" cy="541.2" r="0.39" opacity="0.63"/><circle cx="360.2" cy="517.9" r="0.37" opacity="0.75"/><circle cx="363.3" cy="520.2" r="0.29" opacity="0.60"/><circle cx="360.7" cy="517.7" r="0.38" opacity="0.91"/><circle cx="359.0" cy="520.2" r="0.31" opacity="0.87"/><circle cx="373.1" cy="528.9" r="0.68" opacity="0.80"/><circle cx="357.7" cy="525.1" r="0.30" opacity="0.86"/><circle cx="385.1" cy="536.1" r="0.59" opacity="0.49"/><circle cx="370.6" cy="525.6" r="0.33" opacity="0.79"/><circle cx="354.5" cy="536.9" r="0.74" opacity="0.57"/><circle cx="359.1" cy="523.2" r="0.38" opacity="0.70"/><circle cx="353.3" cy="529.7" r="0.33" opacity="0.68"/><circle cx="364.5" cy="545.9" r="0.31" opacity="0.56"/><circle cx="351.4" cy="529.7" r="0.47" opacity="0.54"/><circle cx="353.2" cy="522.9" r="0.32" opacity="0.48"/><circle cx="375.6" cy="537.6" r="0.56" opacity="0.68"/><circle cx="382.8" cy="533.9" r="0.44" opacity="0.71"/><circle cx="376.9" cy="542.5" r="0.56" opacity="0.93"/><circle cx="375.5" cy="546.2" r="0.49" opacity="0.91"/></g>
<rect x="348.40" y="510.10" width="40.70" height="41.60" fill="none" stroke="#2b2420" stroke-width="1.7"/>
<rect x="392.00" y="510.10" width="40.70" height="41.60" fill="#8b837f"/>
<circle cx="412.35" cy="530.90" r="19.05" fill="#a39b9f"/>
<circle cx="412.35" cy="530.90" r="19.05" fill="none" stroke="#aea6c8" stroke-width="1.1" opacity="0.75"/>
<circle cx="412.35" cy="530.90" r="16.85" fill="none" stroke="#aea6c8" stroke-width="0.8" opacity="0.35"/>
<path d="M420.92 514.14 A18.25 18.25 0 0 1 427.59 520.42" stroke="#e6e2ee" stroke-width="1" fill="none" opacity="0.55"/>
<path d="M398.63 523.28 A18.05 18.05 0 0 0 398.63 538.52" stroke="#cfc8e8" stroke-width="0.8" fill="none" opacity="0.3"/>
<g fill="#5c4aa4"><circle cx="427.0" cy="531.0" r="0.44" opacity="0.92"/><circle cx="404.0" cy="518.2" r="0.44" opacity="0.89"/><circle cx="412.9" cy="520.5" r="0.56" opacity="0.86"/><circle cx="417.8" cy="523.5" r="0.35" opacity="0.70"/><circle cx="411.5" cy="532.7" r="0.34" opacity="0.72"/><circle cx="417.7" cy="533.1" r="0.36" opacity="0.95"/><circle cx="424.1" cy="530.9" r="0.81" opacity="0.74"/><circle cx="425.1" cy="536.4" r="0.46" opacity="0.65"/><circle cx="402.2" cy="539.7" r="0.37" opacity="0.78"/><circle cx="411.0" cy="546.0" r="0.55" opacity="0.65"/><circle cx="408.3" cy="526.5" r="0.56" opacity="0.89"/><circle cx="415.0" cy="517.2" r="0.34" opacity="0.81"/><circle cx="407.4" cy="536.9" r="0.42" opacity="0.57"/><circle cx="403.6" cy="541.9" r="0.56" opacity="0.58"/><circle cx="415.2" cy="518.1" r="0.48" opacity="0.84"/><circle cx="420.5" cy="531.0" r="0.35" opacity="0.80"/><circle cx="406.9" cy="545.0" r="0.64" opacity="0.57"/><circle cx="421.1" cy="518.4" r="0.86" opacity="0.66"/><circle cx="403.7" cy="524.0" r="0.36" opacity="0.48"/><circle cx="407.2" cy="516.0" r="0.43" opacity="0.46"/><circle cx="414.6" cy="547.3" r="0.75" opacity="0.52"/><circle cx="409.8" cy="519.7" r="0.48" opacity="0.53"/><circle cx="409.4" cy="522.9" r="0.39" opacity="0.62"/><circle cx="422.8" cy="534.1" r="0.45" opacity="0.91"/><circle cx="414.2" cy="520.1" r="0.46" opacity="0.57"/><circle cx="413.3" cy="547.6" r="0.46" opacity="0.54"/><circle cx="424.2" cy="543.0" r="0.53" opacity="0.95"/><circle cx="413.3" cy="525.4" r="0.43" opacity="0.54"/><circle cx="420.0" cy="546.3" r="0.42" opacity="0.73"/><circle cx="395.6" cy="533.9" r="0.46" opacity="0.46"/><circle cx="414.0" cy="535.6" r="0.42" opacity="0.89"/><circle cx="411.7" cy="543.8" r="0.33" opacity="0.46"/><circle cx="404.9" cy="532.5" r="0.55" opacity="0.49"/><circle cx="421.7" cy="526.8" r="0.29" opacity="0.84"/><circle cx="421.6" cy="537.9" r="0.49" opacity="0.87"/><circle cx="427.1" cy="527.9" r="0.42" opacity="0.94"/><circle cx="420.0" cy="516.6" r="0.56" opacity="0.53"/><circle cx="413.5" cy="525.4" r="0.50" opacity="0.48"/><circle cx="395.2" cy="529.4" r="0.52" opacity="0.92"/><circle cx="410.5" cy="517.1" r="0.28" opacity="0.84"/><circle cx="410.7" cy="543.5" r="0.30" opacity="0.83"/><circle cx="421.9" cy="533.8" r="0.66" opacity="0.83"/><circle cx="407.5" cy="535.6" r="0.58" opacity="0.66"/><circle cx="415.4" cy="521.9" r="0.31" opacity="0.58"/><circle cx="423.7" cy="544.0" r="0.31" opacity="0.58"/><circle cx="419.9" cy="532.0" r="0.64" opacity="0.65"/><circle cx="416.8" cy="532.3" r="0.30" opacity="0.66"/><circle cx="426.6" cy="523.8" r="0.46" opacity="0.64"/><circle cx="402.8" cy="537.9" r="0.35" opacity="0.92"/><circle cx="395.9" cy="529.4" r="0.36" opacity="0.46"/><circle cx="419.5" cy="526.8" r="0.35" opacity="0.53"/><circle cx="422.4" cy="530.0" r="0.60" opacity="0.55"/><circle cx="400.2" cy="541.2" r="0.64" opacity="0.46"/><circle cx="406.4" cy="521.4" r="0.32" opacity="0.48"/><circle cx="399.0" cy="520.2" r="0.41" opacity="0.52"/></g>
<rect x="392.00" y="510.10" width="40.70" height="41.60" fill="none" stroke="#2b2420" stroke-width="1.7"/>
<rect x="435.70" y="510.10" width="40.70" height="41.60" fill="#8b837f"/>
<circle cx="456.05" cy="530.90" r="19.05" fill="#a39b9f"/>
<circle cx="456.05" cy="530.90" r="19.05" fill="none" stroke="#aea6c8" stroke-width="1.1" opacity="0.75"/>
<circle cx="456.05" cy="530.90" r="16.85" fill="none" stroke="#aea6c8" stroke-width="0.8" opacity="0.35"/>
<path d="M464.62 514.14 A18.25 18.25 0 0 1 471.29 520.42" stroke="#e6e2ee" stroke-width="1" fill="none" opacity="0.55"/>
<path d="M442.33 523.28 A18.05 18.05 0 0 0 442.33 538.52" stroke="#cfc8e8" stroke-width="0.8" fill="none" opacity="0.3"/>
<g fill="#5c4aa4"><circle cx="456.8" cy="525.5" r="0.36" opacity="0.48"/><circle cx="455.7" cy="528.8" r="0.34" opacity="0.87"/><circle cx="442.8" cy="542.2" r="0.55" opacity="0.54"/><circle cx="463.9" cy="518.5" r="0.86" opacity="0.73"/><circle cx="446.3" cy="538.4" r="0.49" opacity="0.52"/><circle cx="465.7" cy="520.4" r="0.50" opacity="0.78"/><circle cx="471.2" cy="526.7" r="0.42" opacity="0.57"/><circle cx="463.9" cy="540.7" r="0.30" opacity="0.52"/><circle cx="461.6" cy="521.7" r="0.53" opacity="0.88"/><circle cx="467.8" cy="528.2" r="0.48" opacity="0.91"/><circle cx="445.3" cy="540.1" r="0.51" opacity="0.92"/><circle cx="451.0" cy="538.4" r="0.34" opacity="0.75"/><circle cx="444.9" cy="542.3" r="0.33" opacity="0.85"/><circle cx="448.1" cy="536.8" r="0.42" opacity="0.94"/><circle cx="460.4" cy="537.2" r="0.45" opacity="0.58"/><circle cx="456.7" cy="531.4" r="0.47" opacity="0.57"/><circle cx="449.7" cy="538.8" r="0.44" opacity="0.59"/><circle cx="443.4" cy="539.5" r="0.50" opacity="0.86"/><circle cx="450.2" cy="533.5" r="0.44" opacity="0.94"/><circle cx="451.6" cy="523.1" r="0.45" opacity="0.91"/><circle cx="449.4" cy="518.0" r="0.52" opacity="0.50"/><circle cx="450.8" cy="534.4" r="0.36" opacity="0.71"/><circle cx="442.5" cy="536.0" r="0.46" opacity="0.64"/><circle cx="464.2" cy="522.3" r="0.50" opacity="0.91"/><circle cx="441.9" cy="540.5" r="0.32" opacity="0.64"/><circle cx="449.1" cy="541.3" r="0.56" opacity="0.83"/><circle cx="455.7" cy="547.3" r="0.60" opacity="0.51"/><circle cx="462.1" cy="534.5" r="0.40" opacity="0.55"/><circle cx="463.8" cy="516.6" r="0.78" opacity="0.64"/><circle cx="459.8" cy="516.4" r="0.48" opacity="0.72"/><circle cx="449.2" cy="518.8" r="0.57" opacity="0.47"/><circle cx="464.0" cy="523.7" r="0.47" opacity="0.87"/><circle cx="445.5" cy="539.9" r="0.42" opacity="0.68"/><circle cx="456.1" cy="519.8" r="0.33" opacity="0.49"/><circle cx="458.9" cy="514.6" r="0.38" opacity="0.68"/><circle cx="471.6" cy="531.7" r="0.46" opacity="0.75"/><circle cx="455.4" cy="540.2" r="0.37" opacity="0.54"/><circle cx="467.4" cy="539.9" r="0.34" opacity="0.48"/><circle cx="451.6" cy="516.5" r="0.39" opacity="0.64"/><circle cx="466.8" cy="518.7" r="0.82" opacity="0.87"/><circle cx="451.6" cy="525.8" r="0.41" opacity="0.64"/><circle cx="453.3" cy="518.4" r="0.51" opacity="0.58"/></g>
<rect x="435.70" y="510.10" width="40.70" height="41.60" fill="none" stroke="#2b2420" stroke-width="1.7"/>
<line x1="536.00" y1="177.40" x2="536.00" y2="257.60" stroke="#000" stroke-width="1.3"/>
<line x1="536.00" y1="257.60" x2="654.50" y2="257.60" stroke="#000" stroke-width="1.3"/>
<line x1="533.80" y1="177.90" x2="536.00" y2="177.90" stroke="#000" stroke-width="1.2"/>
<text x="533.40" y="180.60" font-size="8.10" font-weight="bold" text-anchor="end" fill="#000" textLength="4.17" lengthAdjust="spacingAndGlyphs">1</text>
<line x1="533.80" y1="217.75" x2="536.00" y2="217.75" stroke="#000" stroke-width="1.2"/>
<text x="533.40" y="220.45" font-size="8.10" font-weight="bold" text-anchor="end" fill="#000" textLength="10.43" lengthAdjust="spacingAndGlyphs">0.1</text>
<line x1="533.80" y1="257.60" x2="536.00" y2="257.60" stroke="#000" stroke-width="1.2"/>
<text x="533.40" y="260.30" font-size="8.10" font-weight="bold" text-anchor="end" fill="#000" textLength="14.60" lengthAdjust="spacingAndGlyphs">0.01</text>
<line x1="534.40" y1="205.75" x2="536.00" y2="205.75" stroke="#000" stroke-width="0.8"/>
<line x1="534.40" y1="198.74" x2="536.00" y2="198.74" stroke="#000" stroke-width="0.8"/>
<line x1="534.40" y1="193.76" x2="536.00" y2="193.76" stroke="#000" stroke-width="0.8"/>
<line x1="534.40" y1="189.90" x2="536.00" y2="189.90" stroke="#000" stroke-width="0.8"/>
<line x1="534.40" y1="186.74" x2="536.00" y2="186.74" stroke="#000" stroke-width="0.8"/>
<line x1="534.40" y1="184.07" x2="536.00" y2="184.07" stroke="#000" stroke-width="0.8"/>
<line x1="534.40" y1="181.76" x2="536.00" y2="181.76" stroke="#000" stroke-width="0.8"/>
<line x1="534.40" y1="179.72" x2="536.00" y2="179.72" stroke="#000" stroke-width="0.8"/>
<line x1="534.40" y1="245.60" x2="536.00" y2="245.60" stroke="#000" stroke-width="0.8"/>
<line x1="534.40" y1="238.59" x2="536.00" y2="238.59" stroke="#000" stroke-width="0.8"/>
<line x1="534.40" y1="233.61" x2="536.00" y2="233.61" stroke="#000" stroke-width="0.8"/>
<line x1="534.40" y1="229.75" x2="536.00" y2="229.75" stroke="#000" stroke-width="0.8"/>
<line x1="534.40" y1="226.59" x2="536.00" y2="226.59" stroke="#000" stroke-width="0.8"/>
<line x1="534.40" y1="223.92" x2="536.00" y2="223.92" stroke="#000" stroke-width="0.8"/>
<line x1="534.40" y1="221.61" x2="536.00" y2="221.61" stroke="#000" stroke-width="0.8"/>
<line x1="534.40" y1="219.57" x2="536.00" y2="219.57" stroke="#000" stroke-width="0.8"/>
<line x1="536.00" y1="257.60" x2="536.00" y2="259.80" stroke="#000" stroke-width="1.2"/>
<text x="536.00" y="267.20" font-size="8.10" font-weight="bold" text-anchor="middle" fill="#000" textLength="4.17" lengthAdjust="spacingAndGlyphs">0</text>
<line x1="562.40" y1="257.60" x2="562.40" y2="259.80" stroke="#000" stroke-width="1.2"/>
<text x="562.40" y="267.20" font-size="8.10" font-weight="bold" text-anchor="middle" fill="#000" textLength="4.17" lengthAdjust="spacingAndGlyphs">2</text>
<line x1="588.80" y1="257.60" x2="588.80" y2="259.80" stroke="#000" stroke-width="1.2"/>
<text x="588.80" y="267.20" font-size="8.10" font-weight="bold" text-anchor="middle" fill="#000" textLength="4.17" lengthAdjust="spacingAndGlyphs">4</text>
<line x1="615.20" y1="257.60" x2="615.20" y2="259.80" stroke="#000" stroke-width="1.2"/>
<text x="615.20" y="267.20" font-size="8.10" font-weight="bold" text-anchor="middle" fill="#000" textLength="4.17" lengthAdjust="spacingAndGlyphs">6</text>
<line x1="641.60" y1="257.60" x2="641.60" y2="259.80" stroke="#000" stroke-width="1.2"/>
<text x="641.60" y="267.20" font-size="8.10" font-weight="bold" text-anchor="middle" fill="#000" textLength="4.17" lengthAdjust="spacingAndGlyphs">8</text>
<text x="596.00" y="277.40" font-size="8.10" font-weight="bold" text-anchor="middle" fill="#000" textLength="33.34" lengthAdjust="spacingAndGlyphs">Dose(Gy)</text>
<text x="517.40" y="217.75" font-size="8.10" font-weight="bold" text-anchor="middle" fill="#000" transform="rotate(-90 517.40 217.75)" textLength="58.77" lengthAdjust="spacingAndGlyphs">Survival fraction</text>
<polyline points="536.00,177.90 537.32,178.63 538.64,179.35 539.96,180.08 541.28,180.80 542.60,181.52 543.92,182.24 545.24,182.95 546.56,183.67 547.88,184.39 549.20,185.11 550.52,185.83 551.84,186.56 553.16,187.29 554.48,188.02 555.80,188.75 557.12,189.49 558.44,190.24 559.76,190.99 561.08,191.74 562.40,192.51 563.72,193.27 565.04,194.05 566.36,194.82 567.68,195.60 569.00,196.39 570.32,197.17 571.64,197.96 572.96,198.76 574.28,199.56 575.60,200.36 576.92,201.16 578.24,201.97 579.56,202.78 580.88,203.60 582.20,204.42 583.52,205.24 584.84,206.07 586.16,206.90 587.48,207.73 588.80,208.57 590.12,209.41 591.44,210.25 592.76,211.10 594.08,211.96 595.40,212.82 596.72,213.69 598.04,214.55 599.36,215.43 600.68,216.30 602.00,217.18 603.32,218.06 604.64,218.94 605.96,219.82 607.28,220.71 608.60,221.59 609.92,222.48 611.24,223.37 612.56,224.25 613.88,225.14 615.20,226.02 616.52,226.91 617.84,227.80 619.16,228.69 620.48,229.58 621.80,230.47 623.12,231.37 624.44,232.26 625.76,233.16 627.08,234.06 628.40,234.96 629.72,235.86 631.04,236.76 632.36,237.66 633.68,238.56 635.00,239.46 636.32,240.36 637.64,241.26 638.96,242.16 640.28,243.06 641.60,243.95" fill="none" stroke="#a9bde9" stroke-width="1.4"/>
<rect x="534.80" y="176.70" width="2.4" height="2.4" fill="#a9bde9"/>
<rect x="561.20" y="190.52" width="2.4" height="2.4" fill="#a9bde9"/>
<rect x="587.60" y="208.42" width="2.4" height="2.4" fill="#a9bde9"/>
<rect x="614.00" y="221.53" width="2.4" height="2.4" fill="#a9bde9"/>
<rect x="640.40" y="242.75" width="2.4" height="2.4" fill="#a9bde9"/>
<polyline points="536.00,177.90 537.32,178.38 538.64,178.86 539.96,179.33 541.28,179.79 542.60,180.26 543.92,180.72 545.24,181.18 546.56,181.64 547.88,182.10 549.20,182.56 550.52,183.03 551.84,183.51 553.16,183.99 554.48,184.47 555.80,184.97 557.12,185.48 558.44,186.00 559.76,186.53 561.08,187.07 562.40,187.63 563.72,188.20 565.04,188.79 566.36,189.38 567.68,189.99 569.00,190.61 570.32,191.24 571.64,191.87 572.96,192.52 574.28,193.17 575.60,193.83 576.92,194.49 578.24,195.15 579.56,195.82 580.88,196.50 582.20,197.17 583.52,197.85 584.84,198.53 586.16,199.21 587.48,199.88 588.80,200.56 590.12,201.24 591.44,201.92 592.76,202.62 594.08,203.31 595.40,204.02 596.72,204.73 598.04,205.44 599.36,206.15 600.68,206.86 602.00,207.58 603.32,208.30 604.64,209.01 605.96,209.72 607.28,210.43 608.60,211.14 609.92,211.84 611.24,212.54 612.56,213.23 613.88,213.92 615.20,214.59 616.52,215.26 617.84,215.93 619.16,216.59 620.48,217.25 621.80,217.90 623.12,218.54 624.44,219.19 625.76,219.83 627.08,220.47 628.40,221.11 629.72,221.74 631.04,222.38 632.36,223.01 633.68,223.65 635.00,224.28 636.32,224.92 637.64,225.56 638.96,226.20 640.28,226.84 641.60,227.48" fill="none" stroke="#f4a487" stroke-width="1.4"/>
<rect x="534.80" y="176.70" width="2.4" height="2.4" fill="#f4a487"/>
<rect x="561.20" y="187.05" width="2.4" height="2.4" fill="#f4a487"/>
<rect x="587.60" y="199.36" width="2.4" height="2.4" fill="#f4a487"/>
<rect x="614.00" y="213.39" width="2.4" height="2.4" fill="#f4a487"/>
<rect x="640.40" y="225.98" width="2.4" height="2.4" fill="#f4a487"/>
<polyline points="536.00,177.90 537.32,178.45 538.64,179.00 539.96,179.55 541.28,180.10 542.60,180.65 543.92,181.19 545.24,181.74 546.56,182.29 547.88,182.84 549.20,183.39 550.52,183.94 551.84,184.49 553.16,185.04 554.48,185.59 555.80,186.14 557.12,186.69 558.44,187.24 559.76,187.79 561.08,188.34 562.40,188.89 563.72,189.44 565.04,189.99 566.36,190.54 567.68,191.10 569.00,191.65 570.32,192.20 571.64,192.76 572.96,193.31 574.28,193.87 575.60,194.42 576.92,194.97 578.24,195.53 579.56,196.08 580.88,196.63 582.20,197.19 583.52,197.74 584.84,198.29 586.16,198.84 587.48,199.38 588.80,199.93 590.12,200.48 591.44,201.03 592.76,201.57 594.08,202.12 595.40,202.67 596.72,203.22 598.04,203.77 599.36,204.32 600.68,204.86 602.00,205.41 603.32,205.95 604.64,206.49 605.96,207.03 607.28,207.57 608.60,208.11 609.92,208.64 611.24,209.17 612.56,209.69 613.88,210.21 615.20,210.73 616.52,211.25 617.84,211.76 619.16,212.26 620.48,212.76 621.80,213.26 623.12,213.75 624.44,214.25 625.76,214.73 627.08,215.22 628.40,215.71 629.72,216.19 631.04,216.68 632.36,217.16 633.68,217.64 635.00,218.13 636.32,218.61 637.64,219.10 638.96,219.58 640.28,220.07 641.60,220.56" fill="none" stroke="#3f6dc4" stroke-width="1.4"/>
<rect x="534.80" y="176.70" width="2.4" height="2.4" fill="#3f6dc4"/>
<rect x="561.20" y="188.02" width="2.4" height="2.4" fill="#3f6dc4"/>
<rect x="587.60" y="196.97" width="2.4" height="2.4" fill="#3f6dc4"/>
<rect x="614.00" y="209.53" width="2.4" height="2.4" fill="#3f6dc4"/>
<rect x="640.40" y="223.22" width="2.4" height="2.4" fill="#3f6dc4"/>
<polyline points="536.00,177.90 537.32,178.12 538.64,178.33 539.96,178.54 541.28,178.74 542.60,178.94 543.92,179.13 545.24,179.32 546.56,179.52 547.88,179.71 549.20,179.91 550.52,180.11 551.84,180.32 553.16,180.54 554.48,180.77 555.80,181.01 557.12,181.26 558.44,181.53 559.76,181.81 561.08,182.11 562.40,182.42 563.72,182.76 565.04,183.10 566.36,183.46 567.68,183.84 569.00,184.22 570.32,184.62 571.64,185.02 572.96,185.44 574.28,185.86 575.60,186.30 576.92,186.74 578.24,187.19 579.56,187.64 580.88,188.10 582.20,188.57 583.52,189.04 584.84,189.52 586.16,190.00 587.48,190.48 588.80,190.97 590.12,191.46 591.44,191.96 592.76,192.48 594.08,193.00 595.40,193.54 596.72,194.08 598.04,194.63 599.36,195.18 600.68,195.74 602.00,196.30 603.32,196.86 604.64,197.43 605.96,197.99 607.28,198.56 608.60,199.12 609.92,199.69 611.24,200.24 612.56,200.80 613.88,201.35 615.20,201.89 616.52,202.43 617.84,202.97 619.16,203.51 620.48,204.04 621.80,204.58 623.12,205.11 624.44,205.64 625.76,206.18 627.08,206.71 628.40,207.24 629.72,207.77 631.04,208.30 632.36,208.83 633.68,209.37 635.00,209.90 636.32,210.43 637.64,210.96 638.96,211.49 640.28,212.02 641.60,212.56" fill="none" stroke="#e2482c" stroke-width="1.4"/>
<rect x="534.80" y="176.70" width="2.4" height="2.4" fill="#e2482c"/>
<rect x="561.20" y="181.68" width="2.4" height="2.4" fill="#e2482c"/>
<rect x="587.60" y="189.40" width="2.4" height="2.4" fill="#e2482c"/>
<rect x="614.00" y="201.40" width="2.4" height="2.4" fill="#e2482c"/>
<rect x="640.40" y="213.39" width="2.4" height="2.4" fill="#e2482c"/>
<line x1="537.00" y1="156.50" x2="547.00" y2="156.50" stroke="#3f6dc4" stroke-width="1.4"/>
<rect x="540.80" y="155.30" width="2.4" height="2.4" fill="#3f6dc4"/>
<text x="552.00" y="159.20" font-size="8.10" font-weight="bold" text-anchor="start" fill="#000" textLength="26.66" lengthAdjust="spacingAndGlyphs">Control</text>
<line x1="582.50" y1="156.50" x2="592.50" y2="156.50" stroke="#a9bde9" stroke-width="1.4"/>
<rect x="586.30" y="155.30" width="2.4" height="2.4" fill="#a9bde9"/>
<text x="596.20" y="159.20" font-size="8.10" font-weight="bold" text-anchor="start" fill="#000" textLength="60.21" lengthAdjust="spacingAndGlyphs">Control+shCHK1</text>
<line x1="537.00" y1="168.50" x2="547.00" y2="168.50" stroke="#e2482c" stroke-width="1.4"/>
<rect x="540.80" y="167.30" width="2.4" height="2.4" fill="#e2482c"/>
<text x="552.00" y="171.20" font-size="8.10" font-weight="bold" text-anchor="start" fill="#000" textLength="24.59" lengthAdjust="spacingAndGlyphs">UBE2T</text>
<line x1="582.50" y1="168.50" x2="592.50" y2="168.50" stroke="#f4a487" stroke-width="1.4"/>
<rect x="586.30" y="167.30" width="2.4" height="2.4" fill="#f4a487"/>
<text x="596.20" y="171.20" font-size="8.10" font-weight="bold" text-anchor="start" fill="#000" textLength="58.14" lengthAdjust="spacingAndGlyphs">UBE2T+shCHK1</text>
<line x1="535.60" y1="467.90" x2="535.60" y2="547.50" stroke="#000" stroke-width="1.3"/>
<line x1="535.60" y1="547.50" x2="653.70" y2="547.50" stroke="#000" stroke-width="1.3"/>
<line x1="533.40" y1="468.40" x2="535.60" y2="468.40" stroke="#000" stroke-width="1.2"/>
<text x="533.00" y="471.10" font-size="8.10" font-weight="bold" text-anchor="end" fill="#000" textLength="4.17" lengthAdjust="spacingAndGlyphs">1</text>
<line x1="533.40" y1="507.95" x2="535.60" y2="507.95" stroke="#000" stroke-width="1.2"/>
<text x="533.00" y="510.65" font-size="8.10" font-weight="bold" text-anchor="end" fill="#000" textLength="10.43" lengthAdjust="spacingAndGlyphs">0.1</text>
<line x1="533.40" y1="547.50" x2="535.60" y2="547.50" stroke="#000" stroke-width="1.2"/>
<text x="533.00" y="550.20" font-size="8.10" font-weight="bold" text-anchor="end" fill="#000" textLength="14.60" lengthAdjust="spacingAndGlyphs">0.01</text>
<line x1="534.00" y1="496.04" x2="535.60" y2="496.04" stroke="#000" stroke-width="0.8"/>
<line x1="534.00" y1="489.08" x2="535.60" y2="489.08" stroke="#000" stroke-width="0.8"/>
<line x1="534.00" y1="484.14" x2="535.60" y2="484.14" stroke="#000" stroke-width="0.8"/>
<line x1="534.00" y1="480.31" x2="535.60" y2="480.31" stroke="#000" stroke-width="0.8"/>
<line x1="534.00" y1="477.17" x2="535.60" y2="477.17" stroke="#000" stroke-width="0.8"/>
<line x1="534.00" y1="474.53" x2="535.60" y2="474.53" stroke="#000" stroke-width="0.8"/>
<line x1="534.00" y1="472.23" x2="535.60" y2="472.23" stroke="#000" stroke-width="0.8"/>
<line x1="534.00" y1="470.21" x2="535.60" y2="470.21" stroke="#000" stroke-width="0.8"/>
<line x1="534.00" y1="535.59" x2="535.60" y2="535.59" stroke="#000" stroke-width="0.8"/>
<line x1="534.00" y1="528.63" x2="535.60" y2="528.63" stroke="#000" stroke-width="0.8"/>
<line x1="534.00" y1="523.69" x2="535.60" y2="523.69" stroke="#000" stroke-width="0.8"/>
<line x1="534.00" y1="519.86" x2="535.60" y2="519.86" stroke="#000" stroke-width="0.8"/>
<line x1="534.00" y1="516.72" x2="535.60" y2="516.72" stroke="#000" stroke-width="0.8"/>
<line x1="534.00" y1="514.08" x2="535.60" y2="514.08" stroke="#000" stroke-width="0.8"/>
<line x1="534.00" y1="511.78" x2="535.60" y2="511.78" stroke="#000" stroke-width="0.8"/>
<line x1="534.00" y1="509.76" x2="535.60" y2="509.76" stroke="#000" stroke-width="0.8"/>
<line x1="535.60" y1="547.50" x2="535.60" y2="549.70" stroke="#000" stroke-width="1.2"/>
<text x="535.60" y="557.10" font-size="8.10" font-weight="bold" text-anchor="middle" fill="#000" textLength="4.17" lengthAdjust="spacingAndGlyphs">0</text>
<line x1="562.00" y1="547.50" x2="562.00" y2="549.70" stroke="#000" stroke-width="1.2"/>
<text x="562.00" y="557.10" font-size="8.10" font-weight="bold" text-anchor="middle" fill="#000" textLength="4.17" lengthAdjust="spacingAndGlyphs">2</text>
<line x1="588.40" y1="547.50" x2="588.40" y2="549.70" stroke="#000" stroke-width="1.2"/>
<text x="588.40" y="557.10" font-size="8.10" font-weight="bold" text-anchor="middle" fill="#000" textLength="4.17" lengthAdjust="spacingAndGlyphs">4</text>
<line x1="614.80" y1="547.50" x2="614.80" y2="549.70" stroke="#000" stroke-width="1.2"/>
<text x="614.80" y="557.10" font-size="8.10" font-weight="bold" text-anchor="middle" fill="#000" textLength="4.17" lengthAdjust="spacingAndGlyphs">6</text>
<line x1="641.20" y1="547.50" x2="641.20" y2="549.70" stroke="#000" stroke-width="1.2"/>
<text x="641.20" y="557.10" font-size="8.10" font-weight="bold" text-anchor="middle" fill="#000" textLength="4.17" lengthAdjust="spacingAndGlyphs">8</text>
<text x="595.60" y="567.30" font-size="8.10" font-weight="bold" text-anchor="middle" fill="#000" textLength="33.34" lengthAdjust="spacingAndGlyphs">Dose(Gy)</text>
<text x="517.00" y="507.95" font-size="8.10" font-weight="bold" text-anchor="middle" fill="#000" transform="rotate(-90 517.00 507.95)" textLength="58.77" lengthAdjust="spacingAndGlyphs">Survival fraction</text>
<polyline points="535.60,468.40 536.92,469.08 538.24,469.77 539.56,470.45 540.88,471.13 542.20,471.80 543.52,472.48 544.84,473.16 546.16,473.83 547.48,474.51 548.80,475.19 550.12,475.87 551.44,476.55 552.76,477.23 554.08,477.92 555.40,478.61 556.72,479.30 558.04,480.00 559.36,480.70 560.68,481.40 562.00,482.12 563.32,482.83 564.64,483.55 565.96,484.27 567.28,484.99 568.60,485.71 569.92,486.44 571.24,487.17 572.56,487.91 573.88,488.64 575.20,489.38 576.52,490.12 577.84,490.87 579.16,491.61 580.48,492.36 581.80,493.12 583.12,493.87 584.44,494.63 585.76,495.39 587.08,496.16 588.40,496.93 589.72,497.70 591.04,498.48 592.36,499.27 593.68,500.06 595.00,500.85 596.32,501.66 597.64,502.46 598.96,503.27 600.28,504.08 601.60,504.89 602.92,505.70 604.24,506.51 605.56,507.32 606.88,508.12 608.20,508.93 609.52,509.73 610.84,510.53 612.16,511.32 613.48,512.11 614.80,512.89 616.12,513.67 617.44,514.44 618.76,515.21 620.08,515.98 621.40,516.74 622.72,517.50 624.04,518.26 625.36,519.02 626.68,519.77 628.00,520.53 629.32,521.28 630.64,522.03 631.96,522.79 633.28,523.54 634.60,524.29 635.92,525.04 637.24,525.80 638.56,526.55 639.88,527.31 641.20,528.07" fill="none" stroke="#a9bde9" stroke-width="1.4"/>
<rect x="534.40" y="467.20" width="2.4" height="2.4" fill="#a9bde9"/>
<rect x="560.80" y="480.92" width="2.4" height="2.4" fill="#a9bde9"/>
<rect x="587.20" y="495.73" width="2.4" height="2.4" fill="#a9bde9"/>
<rect x="613.60" y="511.69" width="2.4" height="2.4" fill="#a9bde9"/>
<rect x="640.00" y="539.34" width="2.4" height="2.4" fill="#a9bde9"/>
<polyline points="535.60,468.40 536.92,468.83 538.24,469.26 539.56,469.67 540.88,470.09 542.20,470.49 543.52,470.90 544.84,471.30 546.16,471.70 547.48,472.11 548.80,472.52 550.12,472.93 551.44,473.35 552.76,473.78 554.08,474.22 555.40,474.68 556.72,475.14 558.04,475.62 559.36,476.12 560.68,476.64 562.00,477.17 563.32,477.73 564.64,478.31 565.96,478.90 567.28,479.51 568.60,480.14 569.92,480.78 571.24,481.43 572.56,482.10 573.88,482.77 575.20,483.44 576.52,484.13 577.84,484.82 579.16,485.50 580.48,486.20 581.80,486.88 583.12,487.57 584.44,488.26 585.76,488.93 587.08,489.60 588.40,490.26 589.72,490.92 591.04,491.58 592.36,492.24 593.68,492.89 595.00,493.55 596.32,494.21 597.64,494.87 598.96,495.53 600.28,496.18 601.60,496.84 602.92,497.50 604.24,498.16 605.56,498.82 606.88,499.48 608.20,500.14 609.52,500.80 610.84,501.46 612.16,502.12 613.48,502.78 614.80,503.44 616.12,504.11 617.44,504.77 618.76,505.43 620.08,506.09 621.40,506.76 622.72,507.42 624.04,508.08 625.36,508.75 626.68,509.41 628.00,510.08 629.32,510.74 630.64,511.41 631.96,512.07 633.28,512.74 634.60,513.40 635.92,514.07 637.24,514.73 638.56,515.40 639.88,516.06 641.20,516.72" fill="none" stroke="#f4a487" stroke-width="1.4"/>
<rect x="534.40" y="467.20" width="2.4" height="2.4" fill="#f4a487"/>
<rect x="560.80" y="475.97" width="2.4" height="2.4" fill="#f4a487"/>
<rect x="587.20" y="489.06" width="2.4" height="2.4" fill="#f4a487"/>
<rect x="613.60" y="500.97" width="2.4" height="2.4" fill="#f4a487"/>
<rect x="640.00" y="515.52" width="2.4" height="2.4" fill="#f4a487"/>
<polyline points="535.60,468.40 536.92,468.91 538.24,469.41 539.56,469.90 540.88,470.38 542.20,470.86 543.52,471.33 544.84,471.81 546.16,472.28 547.48,472.76 548.80,473.24 550.12,473.73 551.44,474.22 552.76,474.73 554.08,475.24 555.40,475.77 556.72,476.31 558.04,476.87 559.36,477.45 560.68,478.05 562.00,478.67 563.32,479.31 564.64,479.97 565.96,480.66 567.28,481.36 568.60,482.08 569.92,482.81 571.24,483.55 572.56,484.31 573.88,485.08 575.20,485.85 576.52,486.63 577.84,487.41 579.16,488.20 580.48,488.99 581.80,489.77 583.12,490.56 584.44,491.34 585.76,492.12 587.08,492.88 588.40,493.64 589.72,494.40 591.04,495.15 592.36,495.90 593.68,496.65 595.00,497.40 596.32,498.15 597.64,498.90 598.96,499.65 600.28,500.41 601.60,501.16 602.92,501.92 604.24,502.67 605.56,503.43 606.88,504.19 608.20,504.96 609.52,505.73 610.84,506.50 612.16,507.27 613.48,508.05 614.80,508.83 616.12,509.62 617.44,510.41 618.76,511.21 620.08,512.01 621.40,512.81 622.72,513.62 624.04,514.43 625.36,515.24 626.68,516.05 628.00,516.87 629.32,517.68 630.64,518.50 631.96,519.32 633.28,520.14 634.60,520.95 635.92,521.77 637.24,522.59 638.56,523.40 639.88,524.22 641.20,525.03" fill="none" stroke="#3f6dc4" stroke-width="1.4"/>
<rect x="534.40" y="467.20" width="2.4" height="2.4" fill="#3f6dc4"/>
<rect x="560.80" y="477.47" width="2.4" height="2.4" fill="#3f6dc4"/>
<rect x="587.20" y="492.44" width="2.4" height="2.4" fill="#3f6dc4"/>
<rect x="613.60" y="507.63" width="2.4" height="2.4" fill="#3f6dc4"/>
<rect x="640.00" y="523.83" width="2.4" height="2.4" fill="#3f6dc4"/>
<polyline points="535.60,468.40 536.92,468.61 538.24,468.81 539.56,469.00 540.88,469.19 542.20,469.37 543.52,469.55 544.84,469.73 546.16,469.91 547.48,470.09 548.80,470.28 550.12,470.47 551.44,470.67 552.76,470.87 554.08,471.09 555.40,471.31 556.72,471.55 558.04,471.81 559.36,472.08 560.68,472.36 562.00,472.67 563.32,472.99 564.64,473.32 565.96,473.67 567.28,474.03 568.60,474.40 569.92,474.78 571.24,475.17 572.56,475.57 573.88,475.98 575.20,476.40 576.52,476.83 577.84,477.27 579.16,477.71 580.48,478.17 581.80,478.63 583.12,479.09 584.44,479.56 585.76,480.04 587.08,480.52 588.40,481.01 589.72,481.50 591.04,482.01 592.36,482.54 593.68,483.07 595.00,483.62 596.32,484.18 597.64,484.74 598.96,485.31 600.28,485.89 601.60,486.47 602.92,487.05 604.24,487.64 605.56,488.22 606.88,488.81 608.20,489.39 609.52,489.96 610.84,490.54 612.16,491.10 613.48,491.66 614.80,492.21 616.12,492.75 617.44,493.29 618.76,493.83 620.08,494.37 621.40,494.90 622.72,495.43 624.04,495.96 625.36,496.49 626.68,497.02 628.00,497.54 629.32,498.07 630.64,498.59 631.96,499.12 633.28,499.64 634.60,500.16 635.92,500.69 637.24,501.21 638.56,501.74 639.88,502.27 641.20,502.80" fill="none" stroke="#e2482c" stroke-width="1.4"/>
<rect x="534.40" y="467.20" width="2.4" height="2.4" fill="#e2482c"/>
<rect x="560.80" y="471.47" width="2.4" height="2.4" fill="#e2482c"/>
<rect x="587.20" y="479.81" width="2.4" height="2.4" fill="#e2482c"/>
<rect x="613.60" y="491.71" width="2.4" height="2.4" fill="#e2482c"/>
<rect x="640.00" y="503.62" width="2.4" height="2.4" fill="#e2482c"/>
<line x1="537.00" y1="447.00" x2="547.00" y2="447.00" stroke="#3f6dc4" stroke-width="1.4"/>
<rect x="540.80" y="445.80" width="2.4" height="2.4" fill="#3f6dc4"/>
<text x="550.60" y="449.70" font-size="8.10" font-weight="bold" text-anchor="start" fill="#000" textLength="26.66" lengthAdjust="spacingAndGlyphs">Control</text>
<line x1="582.50" y1="447.00" x2="592.50" y2="447.00" stroke="#a9bde9" stroke-width="1.4"/>
<rect x="586.30" y="445.80" width="2.4" height="2.4" fill="#a9bde9"/>
<text x="596.00" y="449.70" font-size="8.10" font-weight="bold" text-anchor="start" fill="#000" textLength="42.70" lengthAdjust="spacingAndGlyphs">Control+MK</text>
<line x1="537.00" y1="459.00" x2="547.00" y2="459.00" stroke="#e2482c" stroke-width="1.4"/>
<rect x="540.80" y="457.80" width="2.4" height="2.4" fill="#e2482c"/>
<text x="550.60" y="461.70" font-size="8.10" font-weight="bold" text-anchor="start" fill="#000" textLength="24.59" lengthAdjust="spacingAndGlyphs">UBE2T</text>
<line x1="582.50" y1="459.00" x2="592.50" y2="459.00" stroke="#f4a487" stroke-width="1.4"/>
<rect x="586.30" y="457.80" width="2.4" height="2.4" fill="#f4a487"/>
<text x="596.70" y="461.70" font-size="8.10" font-weight="bold" text-anchor="start" fill="#000" textLength="40.63" lengthAdjust="spacingAndGlyphs">UBE2T+MK</text>
<text x="93.30" y="597.70" font-size="10.48" font-weight="bold" text-anchor="end" fill="#000" textLength="34.48" lengthAdjust="spacingAndGlyphs">Control</text>
<text x="93.30" y="627.30" font-size="10.48" font-weight="bold" text-anchor="end" fill="#000" textLength="49.85" lengthAdjust="spacingAndGlyphs">Control+IR</text>
<text x="93.30" y="657.10" font-size="10.48" font-weight="bold" text-anchor="end" fill="#000" textLength="92.18" lengthAdjust="spacingAndGlyphs">Control+IR+MK8776</text>
<text x="93.30" y="686.00" font-size="10.48" font-weight="bold" text-anchor="end" fill="#000" textLength="31.80" lengthAdjust="spacingAndGlyphs">UBE2T</text>
<text x="93.30" y="715.00" font-size="10.48" font-weight="bold" text-anchor="end" fill="#000" textLength="47.17" lengthAdjust="spacingAndGlyphs">UBE2T+IR</text>
<text x="93.30" y="744.40" font-size="10.48" font-weight="bold" text-anchor="end" fill="#000" textLength="89.50" lengthAdjust="spacingAndGlyphs">UBE2T+IR+MK8776</text>
<rect x="99.90" y="579.90" width="78.50" height="29.20" fill="#c0c2c8"/>
<rect x="104.60" y="579.90" width="3.60" height="29.20" fill="#c8b6c4"/>
<line x1="101.60" y1="581.90" x2="104.60" y2="581.90" stroke="#b05070" stroke-width="0.4"/>
<line x1="103.10" y1="583.50" x2="104.60" y2="583.50" stroke="#b05070" stroke-width="0.4"/>
<line x1="103.10" y1="585.10" x2="104.60" y2="585.10" stroke="#b05070" stroke-width="0.4"/>
<line x1="103.10" y1="586.70" x2="104.60" y2="586.70" stroke="#b05070" stroke-width="0.4"/>
<line x1="103.10" y1="588.30" x2="104.60" y2="588.30" stroke="#b05070" stroke-width="0.4"/>
<line x1="101.60" y1="589.90" x2="104.60" y2="589.90" stroke="#b05070" stroke-width="0.4"/>
<line x1="103.10" y1="591.50" x2="104.60" y2="591.50" stroke="#b05070" stroke-width="0.4"/>
<line x1="103.10" y1="593.10" x2="104.60" y2="593.10" stroke="#b05070" stroke-width="0.4"/>
<line x1="103.10" y1="594.70" x2="104.60" y2="594.70" stroke="#b05070" stroke-width="0.4"/>
<line x1="103.10" y1="596.30" x2="104.60" y2="596.30" stroke="#b05070" stroke-width="0.4"/>
<line x1="101.60" y1="597.90" x2="104.60" y2="597.90" stroke="#b05070" stroke-width="0.4"/>
<line x1="103.10" y1="599.50" x2="104.60" y2="599.50" stroke="#b05070" stroke-width="0.4"/>
<line x1="103.10" y1="601.10" x2="104.60" y2="601.10" stroke="#b05070" stroke-width="0.4"/>
<line x1="103.10" y1="602.70" x2="104.60" y2="602.70" stroke="#b05070" stroke-width="0.4"/>
<line x1="103.10" y1="604.30" x2="104.60" y2="604.30" stroke="#b05070" stroke-width="0.4"/>
<line x1="101.60" y1="605.90" x2="104.60" y2="605.90" stroke="#b05070" stroke-width="0.4"/>
<line x1="103.10" y1="607.50" x2="104.60" y2="607.50" stroke="#b05070" stroke-width="0.4"/>
<path d="M134.93 595.12Q132.92 596.79 131.63 599.08Q130.34 601.37 128.08 601.59Q125.82 601.80 124.81 600.14Q123.80 598.49 122.86 597.06Q121.92 595.63 122.51 593.56Q123.10 591.50 124.40 589.50Q125.70 587.50 127.85 586.31Q129.99 585.12 131.33 586.58Q132.66 588.04 133.45 589.20Q134.24 590.36 135.59 591.90Q136.95 593.45 134.93 595.12Z" fill="#c2646e" filter="url(#bl3)"/>
<path d="M127.56 595.81Q127.34 596.50 126.62 596.67Q125.89 596.84 125.11 596.68Q124.33 596.51 124.68 595.71Q125.03 594.91 125.51 594.20Q125.98 593.50 126.75 593.65Q127.53 593.80 127.65 594.46Q127.77 595.12 127.56 595.81Z" fill="#e4c2c0" opacity="0.8" filter="url(#bl3)"/>
<path d="M127.12 597.19Q126.54 596.83 125.99 596.43Q125.44 596.03 126.04 595.42Q126.64 594.80 127.19 594.28Q127.75 593.77 128.05 594.32Q128.35 594.86 128.40 595.41Q128.45 595.95 128.08 596.75Q127.71 597.55 127.12 597.19Z" fill="#e4c2c0" opacity="0.8" filter="url(#bl3)"/>
<path d="M127.58 596.87Q127.29 596.32 127.36 595.83Q127.43 595.33 127.80 595.18Q128.18 595.03 128.70 595.02Q129.22 595.01 129.14 595.58Q129.06 596.16 128.98 596.63Q128.90 597.10 128.39 597.26Q127.87 597.42 127.58 596.87Z" fill="#e4c2c0" opacity="0.8" filter="url(#bl3)"/>
<path d="M129.85 591.42Q129.82 592.25 129.14 592.64Q128.46 593.04 127.64 592.89Q126.82 592.74 126.64 591.99Q126.47 591.25 126.54 590.42Q126.60 589.59 127.55 589.44Q128.50 589.28 129.19 589.94Q129.88 590.59 129.85 591.42Z" fill="#e4c2c0" opacity="0.8" filter="url(#bl3)"/>
<path d="M130.34 594.77Q130.37 595.39 129.93 595.99Q129.48 596.59 128.86 596.74Q128.23 596.88 128.19 596.09Q128.14 595.30 128.41 594.59Q128.69 593.87 129.24 593.53Q129.79 593.18 130.05 593.66Q130.31 594.15 130.34 594.77Z" fill="#e4c2c0" opacity="0.8" filter="url(#bl3)"/>
<path d="M128.86 590.38Q128.24 590.85 127.29 590.96Q126.34 591.07 125.95 590.62Q125.56 590.16 126.25 589.66Q126.93 589.16 127.62 588.99Q128.30 588.82 129.00 588.87Q129.70 588.92 129.59 589.41Q129.49 589.91 128.86 590.38Z" fill="#e4c2c0" opacity="0.8" filter="url(#bl3)"/>
<path d="M132.24 594.24Q131.55 594.15 130.88 593.54Q130.21 592.93 130.47 592.15Q130.72 591.37 131.59 591.09Q132.46 590.82 133.05 591.57Q133.63 592.32 133.77 592.97Q133.92 593.62 133.43 593.98Q132.94 594.34 132.24 594.24Z" fill="#e4c2c0" opacity="0.8" filter="url(#bl3)"/>
<path d="M127.72 594.16Q127.60 594.69 127.40 595.18Q127.19 595.67 126.38 595.54Q125.58 595.41 124.93 594.89Q124.29 594.36 124.75 593.92Q125.21 593.48 125.77 593.36Q126.33 593.25 127.08 593.44Q127.83 593.63 127.72 594.16Z" fill="#e4c2c0" opacity="0.8" filter="url(#bl3)"/>
<path d="M132.95 593.81Q132.72 594.57 132.07 594.59Q131.42 594.61 130.83 594.69Q130.24 594.76 130.41 594.13Q130.57 593.51 130.81 592.80Q131.05 592.09 131.57 592.39Q132.09 592.68 132.64 592.86Q133.19 593.05 132.95 593.81Z" fill="#e4c2c0" opacity="0.8" filter="url(#bl3)"/>
<ellipse cx="131.22" cy="593.50" rx="0.96" ry="1.06" fill="#a01e30" opacity="0.75" filter="url(#bl3)"/>
<ellipse cx="126.04" cy="596.63" rx="0.96" ry="1.06" fill="#a01e30" opacity="0.75" filter="url(#bl3)"/>
<ellipse cx="125.95" cy="591.34" rx="0.96" ry="1.06" fill="#a01e30" opacity="0.75" filter="url(#bl3)"/>
<ellipse cx="125.49" cy="595.86" rx="0.96" ry="1.06" fill="#a01e30" opacity="0.75" filter="url(#bl3)"/>
<ellipse cx="126.13" cy="593.75" rx="0.96" ry="1.06" fill="#a01e30" opacity="0.75" filter="url(#bl3)"/>
<path d="M155.67 589.62Q156.81 592.45 156.60 595.89Q156.39 599.34 154.62 599.81Q152.84 600.27 151.74 600.77Q150.63 601.26 148.99 601.85Q147.36 602.44 146.30 599.58Q145.25 596.73 145.05 593.52Q144.85 590.31 145.82 588.24Q146.80 586.16 147.79 584.23Q148.78 582.29 150.34 582.59Q151.90 582.89 153.21 584.84Q154.52 586.78 155.67 589.62Z" fill="#c66c74" filter="url(#bl3)"/>
<path d="M152.77 594.89Q152.68 595.58 152.48 596.24Q152.29 596.89 151.44 596.86Q150.59 596.83 149.89 596.28Q149.20 595.73 149.66 595.09Q150.12 594.45 150.70 594.21Q151.28 593.97 152.08 594.09Q152.87 594.20 152.77 594.89Z" fill="#e8cac6" opacity="0.8" filter="url(#bl3)"/>
<path d="M154.01 590.73Q153.61 591.90 152.82 592.22Q152.03 592.54 151.30 592.91Q150.58 593.28 150.88 592.32Q151.18 591.36 151.58 590.26Q151.98 589.17 152.57 589.35Q153.15 589.53 153.79 589.54Q154.42 589.55 154.01 590.73Z" fill="#e8cac6" opacity="0.8" filter="url(#bl3)"/>
<path d="M153.58 593.71Q152.67 593.66 151.69 593.30Q150.71 592.94 150.59 592.55Q150.47 592.16 151.19 592.04Q151.92 591.92 153.00 592.18Q154.08 592.44 154.88 592.89Q155.68 593.35 155.08 593.55Q154.48 593.75 153.58 593.71Z" fill="#e8cac6" opacity="0.8" filter="url(#bl3)"/>
<path d="M148.36 598.55Q147.33 598.29 146.45 597.57Q145.58 596.85 145.63 595.95Q145.67 595.06 146.78 595.20Q147.88 595.34 148.91 595.67Q149.94 595.99 150.27 596.88Q150.59 597.77 149.99 598.29Q149.39 598.81 148.36 598.55Z" fill="#e8cac6" opacity="0.8" filter="url(#bl3)"/>
<path d="M154.83 587.72Q154.33 588.45 153.57 589.05Q152.80 589.65 152.23 589.10Q151.66 588.55 151.74 587.79Q151.82 587.03 152.35 586.31Q152.89 585.59 153.74 585.60Q154.60 585.60 154.97 586.30Q155.33 586.99 154.83 587.72Z" fill="#e8cac6" opacity="0.8" filter="url(#bl3)"/>
<path d="M151.85 592.40Q151.02 592.75 149.97 592.40Q148.92 592.04 148.89 591.34Q148.86 590.64 149.54 590.20Q150.22 589.75 151.20 589.87Q152.19 589.99 153.16 590.47Q154.14 590.95 153.41 591.50Q152.68 592.06 151.85 592.40Z" fill="#e8cac6" opacity="0.8" filter="url(#bl3)"/>
<path d="M147.38 593.15Q146.88 592.06 146.94 590.96Q147.01 589.87 147.45 589.45Q147.89 589.03 148.51 589.63Q149.12 590.23 149.17 591.34Q149.22 592.46 149.11 593.33Q149.01 594.20 148.44 594.22Q147.88 594.24 147.38 593.15Z" fill="#e8cac6" opacity="0.8" filter="url(#bl3)"/>
<path d="M153.38 593.16Q152.59 593.91 151.80 594.57Q151.01 595.22 150.55 595.03Q150.09 594.85 150.42 594.12Q150.76 593.40 151.49 592.82Q152.22 592.25 153.06 591.80Q153.90 591.35 154.03 591.88Q154.16 592.41 153.38 593.16Z" fill="#e8cac6" opacity="0.8" filter="url(#bl3)"/>
<path d="M152.35 590.79Q151.59 590.71 151.88 589.96Q152.17 589.22 152.59 588.81Q153.00 588.40 153.75 587.88Q154.50 587.37 154.57 588.07Q154.63 588.77 154.41 589.28Q154.19 589.80 153.65 590.33Q153.10 590.87 152.35 590.79Z" fill="#e8cac6" opacity="0.8" filter="url(#bl3)"/>
<ellipse cx="149.54" cy="593.92" rx="0.87" ry="1.23" fill="#a01e30" opacity="0.75" filter="url(#bl3)"/>
<ellipse cx="149.97" cy="590.60" rx="0.87" ry="1.23" fill="#a01e30" opacity="0.75" filter="url(#bl3)"/>
<ellipse cx="150.11" cy="596.94" rx="0.87" ry="1.23" fill="#a01e30" opacity="0.75" filter="url(#bl3)"/>
<ellipse cx="149.58" cy="591.26" rx="0.87" ry="1.23" fill="#a01e30" opacity="0.75" filter="url(#bl3)"/>
<ellipse cx="152.26" cy="588.98" rx="0.87" ry="1.23" fill="#a01e30" opacity="0.75" filter="url(#bl3)"/>
<path d="M176.93 591.90Q175.98 594.79 175.51 597.23Q175.04 599.67 173.60 600.79Q172.16 601.91 170.64 602.49Q169.11 603.08 167.90 601.78Q166.69 600.48 166.98 597.88Q167.26 595.29 167.67 593.36Q168.07 591.42 168.52 588.48Q168.98 585.53 170.60 585.83Q172.22 586.13 173.41 586.71Q174.60 587.29 176.24 588.15Q177.88 589.01 176.93 591.90Z" fill="#c05c68" filter="url(#bl3)"/>
<path d="M170.72 598.49Q170.62 597.82 170.58 597.18Q170.55 596.55 170.91 596.37Q171.27 596.19 171.59 596.61Q171.91 597.03 171.92 597.61Q171.93 598.19 171.80 598.78Q171.67 599.38 171.25 599.27Q170.83 599.16 170.72 598.49Z" fill="#e2bcbc" opacity="0.8" filter="url(#bl3)"/>
<path d="M173.60 591.24Q172.71 591.75 171.94 591.44Q171.18 591.13 171.02 590.78Q170.85 590.43 170.90 589.84Q170.94 589.24 172.00 589.30Q173.07 589.35 173.58 589.58Q174.08 589.81 174.28 590.27Q174.48 590.73 173.60 591.24Z" fill="#e2bcbc" opacity="0.8" filter="url(#bl3)"/>
<path d="M169.21 599.01Q168.38 598.99 167.56 598.44Q166.74 597.89 166.73 597.36Q166.72 596.83 167.58 596.97Q168.44 597.11 169.20 597.28Q169.95 597.44 170.26 597.92Q170.56 598.41 170.30 598.72Q170.03 599.03 169.21 599.01Z" fill="#e2bcbc" opacity="0.8" filter="url(#bl3)"/>
<path d="M172.19 598.32Q172.29 598.95 171.81 599.73Q171.33 600.50 170.96 600.21Q170.59 599.92 170.22 599.55Q169.84 599.18 170.35 598.44Q170.85 597.70 171.31 597.14Q171.77 596.58 171.93 597.13Q172.09 597.68 172.19 598.32Z" fill="#e2bcbc" opacity="0.8" filter="url(#bl3)"/>
<path d="M173.54 591.39Q173.03 590.92 172.73 589.88Q172.43 588.83 172.99 588.38Q173.56 587.94 174.18 588.67Q174.79 589.39 175.36 590.22Q175.93 591.06 175.61 591.80Q175.29 592.54 174.67 592.20Q174.06 591.86 173.54 591.39Z" fill="#e2bcbc" opacity="0.8" filter="url(#bl3)"/>
<path d="M168.55 599.30Q167.83 599.05 167.87 598.34Q167.92 597.62 168.25 597.14Q168.58 596.65 169.22 596.40Q169.86 596.14 170.09 596.73Q170.32 597.32 170.51 598.00Q170.69 598.67 169.99 599.11Q169.28 599.55 168.55 599.30Z" fill="#e2bcbc" opacity="0.8" filter="url(#bl3)"/>
<path d="M169.54 591.43Q169.06 591.11 168.87 590.45Q168.69 589.80 168.95 589.32Q169.20 588.84 169.73 589.30Q170.26 589.76 170.49 590.21Q170.73 590.65 170.89 591.29Q171.06 591.93 170.54 591.84Q170.03 591.75 169.54 591.43Z" fill="#e2bcbc" opacity="0.8" filter="url(#bl3)"/>
<path d="M172.02 599.87Q171.55 600.13 171.10 599.98Q170.64 599.83 170.23 599.28Q169.82 598.74 170.19 598.23Q170.56 597.72 171.02 597.65Q171.48 597.57 171.98 597.89Q172.48 598.21 172.48 598.91Q172.48 599.62 172.02 599.87Z" fill="#e2bcbc" opacity="0.8" filter="url(#bl3)"/>
<path d="M170.30 594.48Q170.41 595.23 169.91 595.78Q169.41 596.32 168.73 596.58Q168.04 596.84 167.89 596.02Q167.74 595.20 167.87 594.45Q168.00 593.69 168.59 593.43Q169.19 593.16 169.69 593.44Q170.19 593.72 170.30 594.48Z" fill="#e2bcbc" opacity="0.8" filter="url(#bl3)"/>
<ellipse cx="172.19" cy="589.81" rx="0.87" ry="1.12" fill="#a01e30" opacity="0.75" filter="url(#bl3)"/>
<ellipse cx="173.63" cy="593.58" rx="0.87" ry="1.12" fill="#a01e30" opacity="0.75" filter="url(#bl3)"/>
<ellipse cx="169.00" cy="599.17" rx="0.87" ry="1.12" fill="#a01e30" opacity="0.75" filter="url(#bl3)"/>
<ellipse cx="174.27" cy="592.18" rx="0.87" ry="1.12" fill="#a01e30" opacity="0.75" filter="url(#bl3)"/>
<ellipse cx="174.18" cy="591.68" rx="0.87" ry="1.12" fill="#a01e30" opacity="0.75" filter="url(#bl3)"/>
<rect x="99.90" y="611.20" width="78.50" height="23.30" fill="#dddcd8"/>
<rect x="106.80" y="611.20" width="5.10" height="23.30" fill="#8e8e8c"/>
<rect x="101.00" y="611.20" width="3.00" height="23.30" fill="#d0d0cc"/>
<line x1="98.00" y1="613.20" x2="101.00" y2="613.20" stroke="#555" stroke-width="0.4"/>
<line x1="99.50" y1="614.80" x2="101.00" y2="614.80" stroke="#555" stroke-width="0.4"/>
<line x1="99.50" y1="616.40" x2="101.00" y2="616.40" stroke="#555" stroke-width="0.4"/>
<line x1="99.50" y1="618.00" x2="101.00" y2="618.00" stroke="#555" stroke-width="0.4"/>
<line x1="99.50" y1="619.60" x2="101.00" y2="619.60" stroke="#555" stroke-width="0.4"/>
<line x1="98.00" y1="621.20" x2="101.00" y2="621.20" stroke="#555" stroke-width="0.4"/>
<line x1="99.50" y1="622.80" x2="101.00" y2="622.80" stroke="#555" stroke-width="0.4"/>
<line x1="99.50" y1="624.40" x2="101.00" y2="624.40" stroke="#555" stroke-width="0.4"/>
<line x1="99.50" y1="626.00" x2="101.00" y2="626.00" stroke="#555" stroke-width="0.4"/>
<line x1="99.50" y1="627.60" x2="101.00" y2="627.60" stroke="#555" stroke-width="0.4"/>
<line x1="98.00" y1="629.20" x2="101.00" y2="629.20" stroke="#555" stroke-width="0.4"/>
<line x1="99.50" y1="630.80" x2="101.00" y2="630.80" stroke="#555" stroke-width="0.4"/>
<line x1="99.50" y1="632.40" x2="101.00" y2="632.40" stroke="#555" stroke-width="0.4"/>
<path d="M124.99 621.49Q124.76 622.17 124.39 622.64Q124.03 623.11 123.58 623.54Q123.14 623.97 122.69 623.75Q122.25 623.54 122.00 623.13Q121.74 622.73 121.54 622.19Q121.33 621.66 121.39 620.84Q121.44 620.02 122.04 619.51Q122.63 619.00 123.27 618.88Q123.91 618.77 124.22 619.34Q124.54 619.91 124.88 620.36Q125.22 620.81 124.99 621.49Z" fill="#c08448" filter="url(#bl3)"/>
<path d="M123.18 622.99Q123.10 622.79 123.13 622.60Q123.16 622.41 123.29 622.25Q123.43 622.10 123.58 622.27Q123.73 622.45 123.77 622.65Q123.80 622.85 123.73 623.05Q123.65 623.25 123.46 623.22Q123.26 623.20 123.18 622.99Z" fill="#d8a868" opacity="0.8" filter="url(#bl3)"/>
<path d="M123.72 622.08Q123.82 622.34 123.66 622.55Q123.51 622.76 123.26 622.88Q123.01 623.01 122.89 622.73Q122.78 622.46 122.77 622.20Q122.77 621.93 122.98 621.81Q123.20 621.69 123.41 621.76Q123.63 621.83 123.72 622.08Z" fill="#d8a868" opacity="0.8" filter="url(#bl3)"/>
<ellipse cx="122.45" cy="623.15" rx="0.57" ry="0.61" fill="#a06030" opacity="0.75" filter="url(#bl3)"/>
<ellipse cx="123.76" cy="620.85" rx="0.57" ry="0.61" fill="#a06030" opacity="0.75" filter="url(#bl3)"/>
<path d="M151.97 620.09Q152.04 620.80 151.90 621.46Q151.76 622.13 151.23 622.61Q150.69 623.08 149.95 623.26Q149.20 623.44 148.56 623.05Q147.92 622.65 147.43 622.10Q146.95 621.55 147.42 620.93Q147.89 620.32 148.01 619.74Q148.12 619.16 148.66 618.66Q149.20 618.16 149.91 618.41Q150.62 618.66 151.27 619.02Q151.91 619.38 151.97 620.09Z" fill="#c28a4c" filter="url(#bl3)"/>
<path d="M148.90 620.80Q148.84 620.98 148.66 621.06Q148.48 621.13 148.29 621.01Q148.10 620.88 148.05 620.65Q148.01 620.43 148.19 620.35Q148.38 620.27 148.58 620.23Q148.79 620.19 148.88 620.41Q148.96 620.62 148.90 620.80Z" fill="#daa86a" opacity="0.8" filter="url(#bl3)"/>
<path d="M150.68 621.40Q150.52 621.56 150.24 621.54Q149.95 621.51 149.88 621.14Q149.80 620.76 150.00 620.47Q150.19 620.18 150.49 620.20Q150.79 620.21 150.99 620.48Q151.19 620.75 151.01 620.99Q150.83 621.24 150.68 621.40Z" fill="#daa86a" opacity="0.8" filter="url(#bl3)"/>
<ellipse cx="149.51" cy="619.82" rx="0.61" ry="0.58" fill="#a06030" opacity="0.75" filter="url(#bl3)"/>
<ellipse cx="150.38" cy="619.66" rx="0.61" ry="0.58" fill="#a06030" opacity="0.75" filter="url(#bl3)"/>
<path d="M173.35 618.76Q174.26 619.20 174.29 620.18Q174.33 621.16 173.52 621.90Q172.72 622.64 171.80 622.93Q170.87 623.23 170.09 623.03Q169.31 622.83 168.26 622.78Q167.21 622.73 167.06 621.86Q166.92 620.98 166.98 620.05Q167.04 619.11 168.02 618.63Q168.99 618.14 169.96 617.63Q170.93 617.13 171.69 617.72Q172.44 618.32 173.35 618.76Z" fill="#c48c50" filter="url(#bl3)"/>
<path d="M168.84 620.73Q168.59 620.69 168.60 620.44Q168.61 620.19 168.68 619.98Q168.74 619.77 168.94 619.69Q169.14 619.60 169.35 619.64Q169.57 619.68 169.54 619.97Q169.51 620.26 169.29 620.52Q169.08 620.78 168.84 620.73Z" fill="#deb078" opacity="0.8" filter="url(#bl3)"/>
<path d="M169.35 620.55Q169.05 620.60 168.70 620.60Q168.35 620.60 168.38 620.30Q168.42 620.01 168.55 619.76Q168.68 619.52 169.04 619.47Q169.40 619.42 169.67 619.66Q169.94 619.90 169.80 620.20Q169.65 620.51 169.35 620.55Z" fill="#deb078" opacity="0.8" filter="url(#bl3)"/>
<ellipse cx="169.58" cy="620.28" rx="0.72" ry="0.64" fill="#a06030" opacity="0.75" filter="url(#bl3)"/>
<ellipse cx="171.82" cy="620.12" rx="0.72" ry="0.64" fill="#a06030" opacity="0.75" filter="url(#bl3)"/>
<rect x="99.90" y="638.20" width="78.10" height="20.40" fill="#e2e2de"/>
<rect x="105.80" y="638.20" width="4.60" height="20.40" fill="#9a9a98"/>
<rect x="101.00" y="638.20" width="3.00" height="20.40" fill="#d4d4d0"/>
<line x1="98.00" y1="640.20" x2="101.00" y2="640.20" stroke="#555" stroke-width="0.4"/>
<line x1="99.50" y1="641.80" x2="101.00" y2="641.80" stroke="#555" stroke-width="0.4"/>
<line x1="99.50" y1="643.40" x2="101.00" y2="643.40" stroke="#555" stroke-width="0.4"/>
<line x1="99.50" y1="645.00" x2="101.00" y2="645.00" stroke="#555" stroke-width="0.4"/>
<line x1="99.50" y1="646.60" x2="101.00" y2="646.60" stroke="#555" stroke-width="0.4"/>
<line x1="98.00" y1="648.20" x2="101.00" y2="648.20" stroke="#555" stroke-width="0.4"/>
<line x1="99.50" y1="649.80" x2="101.00" y2="649.80" stroke="#555" stroke-width="0.4"/>
<line x1="99.50" y1="651.40" x2="101.00" y2="651.40" stroke="#555" stroke-width="0.4"/>
<line x1="99.50" y1="653.00" x2="101.00" y2="653.00" stroke="#555" stroke-width="0.4"/>
<line x1="99.50" y1="654.60" x2="101.00" y2="654.60" stroke="#555" stroke-width="0.4"/>
<line x1="98.00" y1="656.20" x2="101.00" y2="656.20" stroke="#555" stroke-width="0.4"/>
<path d="M122.32 649.81Q122.35 650.31 122.09 650.75Q121.82 651.19 121.51 651.71Q121.20 652.22 120.91 651.93Q120.61 651.63 120.27 651.52Q119.93 651.41 119.92 650.83Q119.92 650.26 120.15 649.77Q120.38 649.27 120.59 648.72Q120.81 648.17 121.15 648.25Q121.50 648.33 121.85 648.30Q122.21 648.26 122.24 648.79Q122.28 649.31 122.32 649.81Z" fill="#b87840" filter="url(#bl3)"/>
<path d="M152.56 646.36Q152.58 646.60 152.65 646.90Q152.73 647.19 152.42 647.23Q152.11 647.27 151.88 647.43Q151.66 647.58 151.49 647.36Q151.33 647.14 151.18 646.98Q151.04 646.82 150.89 646.55Q150.73 646.29 151.01 646.15Q151.29 646.01 151.48 645.83Q151.66 645.65 151.91 645.72Q152.17 645.80 152.35 645.96Q152.54 646.12 152.56 646.36Z" fill="#c89058" filter="url(#bl3)"/>
<path d="M174.96 648.14Q175.45 648.53 175.48 649.19Q175.52 649.85 175.20 650.29Q174.89 650.73 174.58 651.39Q174.28 652.05 173.72 651.47Q173.15 650.90 172.59 650.71Q172.04 650.52 171.60 649.86Q171.17 649.19 171.63 648.67Q172.10 648.14 172.28 647.53Q172.46 646.91 173.03 646.78Q173.60 646.64 174.04 647.20Q174.47 647.76 174.96 648.14Z" fill="#c48c48" filter="url(#bl3)"/>
<path d="M173.97 648.58Q173.82 648.55 173.77 648.39Q173.73 648.23 173.75 648.05Q173.78 647.87 173.97 647.93Q174.17 647.99 174.25 648.13Q174.33 648.28 174.39 648.46Q174.45 648.63 174.28 648.63Q174.12 648.62 173.97 648.58Z" fill="#dcac68" opacity="0.8" filter="url(#bl3)"/>
<path d="M173.22 650.76Q172.99 650.77 172.82 650.62Q172.66 650.47 172.72 650.24Q172.78 650.00 172.95 649.80Q173.12 649.59 173.27 649.79Q173.43 649.98 173.61 650.15Q173.80 650.32 173.63 650.54Q173.45 650.76 173.22 650.76Z" fill="#dcac68" opacity="0.8" filter="url(#bl3)"/>
<ellipse cx="173.77" cy="649.25" rx="0.58" ry="0.60" fill="#905020" opacity="0.75" filter="url(#bl3)"/>
<ellipse cx="174.35" cy="649.76" rx="0.58" ry="0.60" fill="#905020" opacity="0.75" filter="url(#bl3)"/>
<rect x="99.90" y="664.90" width="78.10" height="31.80" fill="#c6d0da"/>
<rect x="104.20" y="664.90" width="3.60" height="31.80" fill="#ccb8c8"/>
<line x1="101.20" y1="666.90" x2="104.20" y2="666.90" stroke="#b05070" stroke-width="0.4"/>
<line x1="102.70" y1="668.50" x2="104.20" y2="668.50" stroke="#b05070" stroke-width="0.4"/>
<line x1="102.70" y1="670.10" x2="104.20" y2="670.10" stroke="#b05070" stroke-width="0.4"/>
<line x1="102.70" y1="671.70" x2="104.20" y2="671.70" stroke="#b05070" stroke-width="0.4"/>
<line x1="102.70" y1="673.30" x2="104.20" y2="673.30" stroke="#b05070" stroke-width="0.4"/>
<line x1="101.20" y1="674.90" x2="104.20" y2="674.90" stroke="#b05070" stroke-width="0.4"/>
<line x1="102.70" y1="676.50" x2="104.20" y2="676.50" stroke="#b05070" stroke-width="0.4"/>
<line x1="102.70" y1="678.10" x2="104.20" y2="678.10" stroke="#b05070" stroke-width="0.4"/>
<line x1="102.70" y1="679.70" x2="104.20" y2="679.70" stroke="#b05070" stroke-width="0.4"/>
<line x1="102.70" y1="681.30" x2="104.20" y2="681.30" stroke="#b05070" stroke-width="0.4"/>
<line x1="101.20" y1="682.90" x2="104.20" y2="682.90" stroke="#b05070" stroke-width="0.4"/>
<line x1="102.70" y1="684.50" x2="104.20" y2="684.50" stroke="#b05070" stroke-width="0.4"/>
<line x1="102.70" y1="686.10" x2="104.20" y2="686.10" stroke="#b05070" stroke-width="0.4"/>
<line x1="102.70" y1="687.70" x2="104.20" y2="687.70" stroke="#b05070" stroke-width="0.4"/>
<line x1="102.70" y1="689.30" x2="104.20" y2="689.30" stroke="#b05070" stroke-width="0.4"/>
<line x1="101.20" y1="690.90" x2="104.20" y2="690.90" stroke="#b05070" stroke-width="0.4"/>
<line x1="102.70" y1="692.50" x2="104.20" y2="692.50" stroke="#b05070" stroke-width="0.4"/>
<line x1="102.70" y1="694.10" x2="104.20" y2="694.10" stroke="#b05070" stroke-width="0.4"/>
<path d="M133.98 679.03Q134.77 682.22 133.21 685.28Q131.66 688.35 129.51 690.67Q127.36 692.98 125.01 691.97Q122.66 690.96 119.84 690.58Q117.02 690.21 116.04 686.56Q115.06 682.91 116.10 679.07Q117.13 675.24 119.63 673.57Q122.13 671.90 124.32 669.93Q126.51 667.97 128.66 669.41Q130.80 670.84 132.00 673.35Q133.20 675.85 133.98 679.03Z" fill="#cf9a9c" filter="url(#bl3)"/>
<path d="M125.10 685.41Q124.41 686.11 123.57 685.85Q122.73 685.59 122.27 685.14Q121.82 684.69 122.29 684.13Q122.76 683.58 123.51 682.93Q124.27 682.29 124.72 682.92Q125.18 683.55 125.49 684.14Q125.79 684.72 125.10 685.41Z" fill="#ecdcd8" opacity="0.8" filter="url(#bl3)"/>
<path d="M131.29 678.89Q131.37 679.61 130.77 680.08Q130.17 680.55 129.38 679.93Q128.59 679.30 127.60 678.58Q126.62 677.87 127.18 677.13Q127.74 676.40 128.88 676.34Q130.03 676.29 130.62 677.23Q131.21 678.18 131.29 678.89Z" fill="#ecdcd8" opacity="0.8" filter="url(#bl3)"/>
<path d="M128.69 683.23Q127.64 683.30 126.67 683.22Q125.69 683.14 125.14 681.91Q124.59 680.68 125.58 679.94Q126.57 679.21 127.55 679.03Q128.53 678.85 129.10 679.79Q129.67 680.72 129.70 681.93Q129.73 683.15 128.69 683.23Z" fill="#ecdcd8" opacity="0.8" filter="url(#bl3)"/>
<path d="M123.52 677.72Q122.83 678.00 122.09 677.94Q121.36 677.88 121.06 677.30Q120.75 676.72 121.21 676.18Q121.67 675.63 122.46 675.46Q123.25 675.29 123.79 675.73Q124.33 676.18 124.27 676.81Q124.20 677.44 123.52 677.72Z" fill="#ecdcd8" opacity="0.8" filter="url(#bl3)"/>
<path d="M125.91 686.76Q124.44 686.13 124.05 684.78Q123.67 683.42 124.39 682.72Q125.12 682.03 126.03 681.97Q126.94 681.92 127.83 682.57Q128.73 683.22 129.19 684.54Q129.65 685.86 128.52 686.62Q127.38 687.38 125.91 686.76Z" fill="#ecdcd8" opacity="0.8" filter="url(#bl3)"/>
<path d="M122.69 685.60Q122.83 686.57 122.19 687.30Q121.55 688.03 120.75 687.75Q119.94 687.47 119.05 686.97Q118.16 686.47 118.53 685.38Q118.89 684.29 119.89 683.85Q120.89 683.41 121.72 684.02Q122.55 684.62 122.69 685.60Z" fill="#ecdcd8" opacity="0.8" filter="url(#bl3)"/>
<path d="M123.55 675.21Q122.71 675.87 121.30 676.36Q119.89 676.85 119.87 676.05Q119.85 675.26 120.25 674.59Q120.65 673.92 121.73 673.42Q122.81 672.91 123.57 673.14Q124.33 673.37 124.36 673.96Q124.39 674.55 123.55 675.21Z" fill="#ecdcd8" opacity="0.8" filter="url(#bl3)"/>
<path d="M130.71 687.72Q130.92 688.71 129.93 688.93Q128.94 689.14 128.07 688.80Q127.21 688.47 126.38 687.69Q125.56 686.91 126.36 686.42Q127.16 685.94 127.96 685.70Q128.76 685.45 129.63 686.09Q130.50 686.73 130.71 687.72Z" fill="#ecdcd8" opacity="0.8" filter="url(#bl3)"/>
<path d="M132.06 680.50Q132.20 681.67 131.10 682.17Q130.00 682.66 128.84 683.19Q127.67 683.71 127.66 682.30Q127.64 680.89 128.59 679.78Q129.53 678.67 130.47 678.14Q131.41 677.62 131.66 678.47Q131.91 679.33 132.06 680.50Z" fill="#ecdcd8" opacity="0.8" filter="url(#bl3)"/>
<path d="M127.96 674.69Q127.66 673.95 127.83 673.17Q128.00 672.39 128.79 672.25Q129.58 672.11 130.24 672.50Q130.90 672.89 131.23 673.78Q131.57 674.67 130.71 675.05Q129.85 675.43 129.06 675.43Q128.26 675.44 127.96 674.69Z" fill="#ecdcd8" opacity="0.8" filter="url(#bl3)"/>
<path d="M123.90 683.40Q123.06 682.76 122.78 681.67Q122.51 680.58 123.38 679.60Q124.26 678.63 125.71 678.62Q127.17 678.62 127.44 679.95Q127.70 681.29 127.38 682.41Q127.05 683.53 125.90 683.78Q124.74 684.04 123.90 683.40Z" fill="#ecdcd8" opacity="0.8" filter="url(#bl3)"/>
<path d="M129.98 675.53Q129.27 676.12 128.34 676.10Q127.42 676.09 126.93 675.55Q126.44 675.01 126.94 674.33Q127.43 673.64 128.36 673.11Q129.29 672.58 129.80 673.17Q130.32 673.75 130.50 674.35Q130.69 674.95 129.98 675.53Z" fill="#ecdcd8" opacity="0.8" filter="url(#bl3)"/>
<ellipse cx="129.03" cy="675.19" rx="1.21" ry="1.41" fill="#b02838" opacity="0.75" filter="url(#bl3)"/>
<ellipse cx="130.86" cy="685.31" rx="1.21" ry="1.41" fill="#b02838" opacity="0.75" filter="url(#bl3)"/>
<ellipse cx="127.22" cy="676.96" rx="1.21" ry="1.41" fill="#b02838" opacity="0.75" filter="url(#bl3)"/>
<ellipse cx="128.64" cy="683.72" rx="1.21" ry="1.41" fill="#b02838" opacity="0.75" filter="url(#bl3)"/>
<ellipse cx="129.52" cy="677.62" rx="1.21" ry="1.41" fill="#b02838" opacity="0.75" filter="url(#bl3)"/>
<ellipse cx="128.72" cy="676.12" rx="1.21" ry="1.41" fill="#b02838" opacity="0.75" filter="url(#bl3)"/>
<ellipse cx="125.10" cy="675.12" rx="1.21" ry="1.41" fill="#b02838" opacity="0.75" filter="url(#bl3)"/>
<path d="M153.74 678.08Q154.43 681.25 153.73 685.15Q153.03 689.05 151.53 692.76Q150.03 696.47 148.07 695.43Q146.10 694.39 144.59 692.73Q143.07 691.06 142.27 687.68Q141.46 684.29 142.38 680.58Q143.30 676.86 144.12 673.22Q144.94 669.58 146.74 667.66Q148.54 665.74 150.52 666.01Q152.51 666.29 152.78 670.60Q153.06 674.92 153.74 678.08Z" fill="#cf9c9e" filter="url(#bl3)"/>
<path d="M146.94 682.18Q145.72 681.43 145.64 680.11Q145.56 678.79 146.12 678.17Q146.67 677.55 147.75 677.42Q148.82 677.29 149.25 678.66Q149.69 680.04 149.83 681.17Q149.98 682.30 149.07 682.62Q148.15 682.94 146.94 682.18Z" fill="#eeded8" opacity="0.8" filter="url(#bl3)"/>
<path d="M146.90 679.17Q147.16 680.12 146.28 680.60Q145.39 681.08 144.45 681.59Q143.52 682.10 143.34 680.94Q143.16 679.78 143.83 678.81Q144.51 677.84 145.26 677.34Q146.00 676.85 146.31 677.53Q146.63 678.22 146.90 679.17Z" fill="#eeded8" opacity="0.8" filter="url(#bl3)"/>
<path d="M149.57 680.36Q148.80 681.42 147.72 682.13Q146.63 682.85 145.99 682.36Q145.35 681.86 145.44 680.90Q145.54 679.93 146.47 678.68Q147.40 677.43 148.39 677.71Q149.38 677.99 149.86 678.65Q150.33 679.30 149.57 680.36Z" fill="#eeded8" opacity="0.8" filter="url(#bl3)"/>
<path d="M151.00 677.57Q150.50 678.07 149.75 678.27Q149.01 678.48 148.46 678.02Q147.91 677.57 148.06 676.75Q148.20 675.93 149.11 675.72Q150.01 675.51 150.71 675.65Q151.42 675.78 151.46 676.42Q151.51 677.06 151.00 677.57Z" fill="#eeded8" opacity="0.8" filter="url(#bl3)"/>
<path d="M150.57 685.16Q149.39 685.73 148.08 685.63Q146.76 685.53 146.22 684.90Q145.68 684.26 146.58 683.56Q147.47 682.86 148.95 682.37Q150.43 681.88 151.00 682.57Q151.56 683.25 151.65 683.92Q151.75 684.59 150.57 685.16Z" fill="#eeded8" opacity="0.8" filter="url(#bl3)"/>
<path d="M149.72 677.30Q149.06 676.41 148.59 675.53Q148.13 674.66 148.40 674.17Q148.68 673.68 149.43 673.82Q150.19 673.96 150.90 675.12Q151.62 676.29 151.66 677.22Q151.71 678.15 151.04 678.17Q150.38 678.19 149.72 677.30Z" fill="#eeded8" opacity="0.8" filter="url(#bl3)"/>
<path d="M147.66 684.95Q147.46 685.60 146.70 686.04Q145.93 686.48 145.63 685.84Q145.33 685.20 145.24 684.63Q145.14 684.06 145.72 683.73Q146.30 683.40 147.01 683.18Q147.72 682.96 147.79 683.63Q147.86 684.30 147.66 684.95Z" fill="#eeded8" opacity="0.8" filter="url(#bl3)"/>
<path d="M149.64 677.57Q148.49 677.96 146.74 677.75Q144.99 677.55 145.47 676.97Q145.95 676.38 146.67 676.09Q147.38 675.79 148.93 675.45Q150.49 675.11 151.04 675.70Q151.60 676.29 151.19 676.73Q150.78 677.17 149.64 677.57Z" fill="#eeded8" opacity="0.8" filter="url(#bl3)"/>
<path d="M148.55 679.48Q147.27 680.06 146.04 680.45Q144.81 680.85 144.75 680.33Q144.70 679.80 144.77 679.15Q144.85 678.50 146.22 678.20Q147.58 677.90 148.55 677.85Q149.52 677.80 149.68 678.35Q149.83 678.91 148.55 679.48Z" fill="#eeded8" opacity="0.8" filter="url(#bl3)"/>
<path d="M149.29 675.24Q149.33 676.08 148.60 676.29Q147.86 676.50 147.11 676.75Q146.36 677.01 146.34 676.17Q146.32 675.33 146.73 674.81Q147.14 674.29 147.64 674.11Q148.14 673.94 148.70 674.16Q149.26 674.39 149.29 675.24Z" fill="#eeded8" opacity="0.8" filter="url(#bl3)"/>
<path d="M149.57 682.98Q148.50 682.63 147.79 682.05Q147.07 681.48 146.65 680.58Q146.23 679.69 147.38 679.62Q148.53 679.54 149.53 680.12Q150.53 680.70 150.97 681.42Q151.41 682.15 151.03 682.74Q150.65 683.33 149.57 682.98Z" fill="#eeded8" opacity="0.8" filter="url(#bl3)"/>
<path d="M146.55 689.34Q145.70 689.60 145.08 689.19Q144.47 688.79 143.88 688.02Q143.29 687.24 143.92 686.47Q144.54 685.70 145.38 685.69Q146.21 685.68 146.86 686.33Q147.50 686.98 147.45 688.03Q147.40 689.08 146.55 689.34Z" fill="#eeded8" opacity="0.8" filter="url(#bl3)"/>
<ellipse cx="150.47" cy="686.02" rx="0.98" ry="1.54" fill="#b02838" opacity="0.75" filter="url(#bl3)"/>
<ellipse cx="144.69" cy="682.87" rx="0.98" ry="1.54" fill="#b02838" opacity="0.75" filter="url(#bl3)"/>
<ellipse cx="146.33" cy="674.70" rx="0.98" ry="1.54" fill="#b02838" opacity="0.75" filter="url(#bl3)"/>
<ellipse cx="146.00" cy="681.59" rx="0.98" ry="1.54" fill="#b02838" opacity="0.75" filter="url(#bl3)"/>
<ellipse cx="149.39" cy="681.30" rx="0.98" ry="1.54" fill="#b02838" opacity="0.75" filter="url(#bl3)"/>
<ellipse cx="144.70" cy="679.58" rx="0.98" ry="1.54" fill="#b02838" opacity="0.75" filter="url(#bl3)"/>
<ellipse cx="151.37" cy="672.40" rx="0.98" ry="1.54" fill="#b02838" opacity="0.75" filter="url(#bl3)"/>
<path d="M177.40 679.38Q177.07 682.34 175.98 685.24Q174.90 688.14 172.76 689.77Q170.62 691.39 168.88 690.03Q167.13 688.68 166.13 687.08Q165.13 685.49 164.17 683.51Q163.20 681.53 164.07 678.93Q164.94 676.33 166.14 673.27Q167.35 670.21 169.72 669.68Q172.08 669.15 173.97 670.35Q175.85 671.54 176.79 673.98Q177.74 676.42 177.40 679.38Z" fill="#cc9698" filter="url(#bl3)"/>
<path d="M172.15 677.46Q172.02 678.13 171.28 678.66Q170.54 679.20 170.32 678.67Q170.10 678.14 170.14 677.69Q170.19 677.24 170.50 676.46Q170.80 675.67 171.39 675.81Q171.98 675.96 172.13 676.38Q172.28 676.79 172.15 677.46Z" fill="#ead8d4" opacity="0.8" filter="url(#bl3)"/>
<path d="M173.95 675.48Q173.79 676.12 173.48 676.65Q173.18 677.18 172.65 676.91Q172.12 676.65 171.54 676.29Q170.96 675.92 171.44 675.41Q171.91 674.90 172.40 674.61Q172.88 674.33 173.49 674.59Q174.11 674.84 173.95 675.48Z" fill="#ead8d4" opacity="0.8" filter="url(#bl3)"/>
<path d="M173.19 685.57Q172.87 686.37 172.09 686.21Q171.31 686.04 170.50 685.91Q169.69 685.78 170.02 684.98Q170.35 684.19 170.96 683.91Q171.56 683.64 172.10 683.71Q172.65 683.79 173.08 684.28Q173.51 684.77 173.19 685.57Z" fill="#ead8d4" opacity="0.8" filter="url(#bl3)"/>
<path d="M170.81 676.96Q170.43 676.46 170.44 675.91Q170.45 675.37 170.89 674.70Q171.32 674.03 172.09 674.28Q172.85 674.54 173.01 675.16Q173.18 675.79 172.88 676.36Q172.59 676.93 171.89 677.20Q171.20 677.46 170.81 676.96Z" fill="#ead8d4" opacity="0.8" filter="url(#bl3)"/>
<path d="M170.26 684.27Q169.94 683.46 170.14 682.83Q170.35 682.19 170.84 681.56Q171.32 680.92 171.99 681.47Q172.66 682.01 172.79 682.82Q172.93 683.64 172.54 684.32Q172.16 685.00 171.37 685.04Q170.58 685.08 170.26 684.27Z" fill="#ead8d4" opacity="0.8" filter="url(#bl3)"/>
<path d="M170.28 682.88Q169.78 682.02 169.40 680.97Q169.02 679.93 169.42 679.13Q169.82 678.33 170.58 679.35Q171.34 680.36 172.05 681.32Q172.75 682.27 172.28 682.83Q171.81 683.39 171.29 683.57Q170.77 683.75 170.28 682.88Z" fill="#ead8d4" opacity="0.8" filter="url(#bl3)"/>
<path d="M174.01 686.13Q172.99 686.14 172.26 685.75Q171.53 685.35 170.99 684.70Q170.45 684.04 171.34 683.62Q172.23 683.20 173.45 683.37Q174.66 683.54 175.12 684.23Q175.58 684.92 175.31 685.52Q175.04 686.12 174.01 686.13Z" fill="#ead8d4" opacity="0.8" filter="url(#bl3)"/>
<path d="M169.44 676.16Q169.33 675.09 169.43 674.32Q169.53 673.56 169.97 672.97Q170.40 672.39 170.77 673.25Q171.14 674.11 171.50 675.16Q171.86 676.22 171.36 677.01Q170.86 677.81 170.21 677.52Q169.55 677.23 169.44 676.16Z" fill="#ead8d4" opacity="0.8" filter="url(#bl3)"/>
<path d="M172.21 685.34Q171.51 685.34 171.08 684.81Q170.65 684.27 170.88 683.36Q171.11 682.45 171.78 681.92Q172.46 681.38 173.17 681.55Q173.89 681.73 174.07 682.70Q174.25 683.67 173.58 684.50Q172.91 685.34 172.21 685.34Z" fill="#ead8d4" opacity="0.8" filter="url(#bl3)"/>
<path d="M169.63 687.39Q168.92 688.10 168.20 687.37Q167.48 686.64 167.33 685.73Q167.18 684.82 167.87 684.27Q168.55 683.72 169.27 683.92Q169.99 684.13 170.50 684.70Q171.01 685.26 170.68 685.97Q170.34 686.68 169.63 687.39Z" fill="#ead8d4" opacity="0.8" filter="url(#bl3)"/>
<ellipse cx="167.27" cy="677.64" rx="1.05" ry="1.25" fill="#b02838" opacity="0.75" filter="url(#bl3)"/>
<ellipse cx="171.44" cy="677.82" rx="1.05" ry="1.25" fill="#b02838" opacity="0.75" filter="url(#bl3)"/>
<ellipse cx="169.60" cy="674.72" rx="1.05" ry="1.25" fill="#b02838" opacity="0.75" filter="url(#bl3)"/>
<ellipse cx="168.67" cy="685.91" rx="1.05" ry="1.25" fill="#b02838" opacity="0.75" filter="url(#bl3)"/>
<ellipse cx="172.36" cy="682.54" rx="1.05" ry="1.25" fill="#b02838" opacity="0.75" filter="url(#bl3)"/>
<ellipse cx="171.85" cy="683.04" rx="1.05" ry="1.25" fill="#b02838" opacity="0.75" filter="url(#bl3)"/>
<rect x="99.90" y="699.20" width="78.10" height="23.50" fill="#acacaa"/>
<rect x="106.20" y="699.20" width="6.00" height="23.50" fill="#8a8a88"/>
<rect x="101.00" y="699.20" width="3.00" height="23.50" fill="#9c9c9a"/>
<line x1="98.00" y1="701.20" x2="101.00" y2="701.20" stroke="#333" stroke-width="0.4"/>
<line x1="99.50" y1="702.80" x2="101.00" y2="702.80" stroke="#333" stroke-width="0.4"/>
<line x1="99.50" y1="704.40" x2="101.00" y2="704.40" stroke="#333" stroke-width="0.4"/>
<line x1="99.50" y1="706.00" x2="101.00" y2="706.00" stroke="#333" stroke-width="0.4"/>
<line x1="99.50" y1="707.60" x2="101.00" y2="707.60" stroke="#333" stroke-width="0.4"/>
<line x1="98.00" y1="709.20" x2="101.00" y2="709.20" stroke="#333" stroke-width="0.4"/>
<line x1="99.50" y1="710.80" x2="101.00" y2="710.80" stroke="#333" stroke-width="0.4"/>
<line x1="99.50" y1="712.40" x2="101.00" y2="712.40" stroke="#333" stroke-width="0.4"/>
<line x1="99.50" y1="714.00" x2="101.00" y2="714.00" stroke="#333" stroke-width="0.4"/>
<line x1="99.50" y1="715.60" x2="101.00" y2="715.60" stroke="#333" stroke-width="0.4"/>
<line x1="98.00" y1="717.20" x2="101.00" y2="717.20" stroke="#333" stroke-width="0.4"/>
<line x1="99.50" y1="718.80" x2="101.00" y2="718.80" stroke="#333" stroke-width="0.4"/>
<line x1="99.50" y1="720.40" x2="101.00" y2="720.40" stroke="#333" stroke-width="0.4"/>
<path d="M128.88 711.07Q128.44 713.11 127.96 715.30Q127.48 717.49 125.61 718.56Q123.73 719.64 121.60 719.72Q119.47 719.80 118.73 717.58Q117.99 715.36 117.49 713.67Q116.99 711.97 117.59 710.25Q118.18 708.52 119.32 707.17Q120.47 705.81 122.21 704.53Q123.96 703.25 125.20 704.97Q126.45 706.69 127.89 707.86Q129.32 709.03 128.88 711.07Z" fill="#bc8860" filter="url(#bl3)"/>
<path d="M126.21 715.51Q125.84 715.94 125.41 716.08Q124.98 716.21 124.30 715.97Q123.62 715.72 123.64 715.10Q123.67 714.47 123.79 713.80Q123.91 713.13 124.74 713.37Q125.57 713.62 126.08 714.34Q126.58 715.07 126.21 715.51Z" fill="#dcb088" opacity="0.8" filter="url(#bl3)"/>
<path d="M119.61 709.30Q119.23 709.00 119.42 708.55Q119.61 708.09 120.45 707.75Q121.28 707.40 122.05 707.44Q122.83 707.47 123.07 707.87Q123.31 708.27 122.65 708.82Q121.99 709.38 120.99 709.49Q119.98 709.61 119.61 709.30Z" fill="#dcb088" opacity="0.8" filter="url(#bl3)"/>
<path d="M122.85 711.13Q123.47 711.63 122.93 712.23Q122.39 712.83 121.68 713.00Q120.96 713.17 120.48 712.68Q119.99 712.18 120.11 711.61Q120.23 711.05 120.65 710.62Q121.07 710.19 121.65 710.41Q122.24 710.62 122.85 711.13Z" fill="#dcb088" opacity="0.8" filter="url(#bl3)"/>
<path d="M126.46 711.25Q126.21 711.93 125.69 712.12Q125.18 712.32 124.74 712.25Q124.29 712.17 124.11 711.69Q123.93 711.21 124.32 710.84Q124.71 710.47 125.18 710.20Q125.65 709.93 126.18 710.25Q126.72 710.56 126.46 711.25Z" fill="#dcb088" opacity="0.8" filter="url(#bl3)"/>
<ellipse cx="120.22" cy="707.06" rx="0.99" ry="1.01" fill="#8a5030" opacity="0.75" filter="url(#bl3)"/>
<ellipse cx="122.35" cy="707.17" rx="0.99" ry="1.01" fill="#8a5030" opacity="0.75" filter="url(#bl3)"/>
<ellipse cx="122.48" cy="712.01" rx="0.99" ry="1.01" fill="#8a5030" opacity="0.75" filter="url(#bl3)"/>
<path d="M117.5 708.5 Q119.5 704.5 124 705" stroke="#3a2018" stroke-width="1.5" fill="none" opacity="0.85" filter="url(#bl3)"/>
<path d="M152.11 706.77Q152.98 708.97 154.44 711.34Q155.91 713.71 154.23 716.20Q152.54 718.68 149.93 720.73Q147.32 722.77 144.53 721.21Q141.73 719.65 139.80 718.28Q137.86 716.91 135.92 714.86Q133.98 712.81 134.94 710.02Q135.89 707.23 138.52 705.86Q141.14 704.50 143.78 703.08Q146.42 701.66 148.83 703.12Q151.25 704.57 152.11 706.77Z" fill="#c08c60" filter="url(#bl3)"/>
<path d="M142.17 714.58Q141.88 715.20 141.33 715.66Q140.78 716.13 140.24 715.64Q139.70 715.15 139.71 714.59Q139.71 714.03 139.94 713.49Q140.17 712.94 140.87 712.85Q141.58 712.76 142.01 713.36Q142.45 713.96 142.17 714.58Z" fill="#deb488" opacity="0.8" filter="url(#bl3)"/>
<path d="M147.76 713.11Q147.23 712.52 147.37 711.80Q147.51 711.07 148.03 710.74Q148.54 710.41 149.15 710.64Q149.77 710.87 150.27 711.62Q150.78 712.36 150.19 712.91Q149.61 713.46 148.95 713.57Q148.29 713.69 147.76 713.11Z" fill="#deb488" opacity="0.8" filter="url(#bl3)"/>
<path d="M138.50 714.71Q138.15 713.64 138.18 712.68Q138.20 711.72 139.33 710.96Q140.45 710.20 141.73 710.68Q143.00 711.16 143.32 712.32Q143.64 713.47 142.61 714.29Q141.58 715.11 140.22 715.45Q138.86 715.78 138.50 714.71Z" fill="#deb488" opacity="0.8" filter="url(#bl3)"/>
<path d="M150.91 708.28Q150.18 708.55 149.66 707.98Q149.15 707.40 148.71 706.64Q148.27 705.87 149.11 705.36Q149.95 704.86 150.84 705.27Q151.73 705.69 152.24 706.35Q152.74 707.00 152.19 707.51Q151.64 708.01 150.91 708.28Z" fill="#deb488" opacity="0.8" filter="url(#bl3)"/>
<path d="M146.84 717.62Q146.22 716.93 145.83 716.09Q145.45 715.24 146.29 714.76Q147.14 714.27 148.13 714.01Q149.11 713.74 149.63 714.65Q150.15 715.56 149.69 716.44Q149.23 717.33 148.35 717.82Q147.46 718.31 146.84 717.62Z" fill="#deb488" opacity="0.8" filter="url(#bl3)"/>
<path d="M144.19 712.39Q142.96 712.40 143.51 711.25Q144.06 710.10 145.05 709.08Q146.04 708.06 147.37 707.76Q148.69 707.46 148.72 708.31Q148.74 709.15 148.14 709.94Q147.54 710.72 146.47 711.55Q145.41 712.38 144.19 712.39Z" fill="#deb488" opacity="0.8" filter="url(#bl3)"/>
<ellipse cx="147.63" cy="709.51" rx="1.32" ry="1.14" fill="#985a38" opacity="0.75" filter="url(#bl3)"/>
<ellipse cx="145.76" cy="716.88" rx="1.32" ry="1.14" fill="#985a38" opacity="0.75" filter="url(#bl3)"/>
<ellipse cx="149.19" cy="713.22" rx="1.32" ry="1.14" fill="#985a38" opacity="0.75" filter="url(#bl3)"/>
<ellipse cx="144.15" cy="707.05" rx="1.32" ry="1.14" fill="#985a38" opacity="0.75" filter="url(#bl3)"/>
<path d="M134 707 Q137 701.5 146 702.5" stroke="#2a1812" stroke-width="2.2" fill="none" opacity="0.9" filter="url(#bl3)"/>
<path d="M174.30 708.62Q175.47 709.80 174.08 710.83Q172.69 711.87 172.26 713.37Q171.82 714.86 170.42 714.40Q169.03 713.94 167.38 714.20Q165.72 714.46 165.89 712.67Q166.06 710.88 165.11 709.51Q164.16 708.13 165.17 706.91Q166.18 705.69 167.49 704.85Q168.80 704.00 170.44 704.08Q172.07 704.16 172.60 705.80Q173.13 707.43 174.30 708.62Z" fill="#c89262" filter="url(#bl3)"/>
<path d="M171.64 711.39Q171.75 712.01 171.13 712.07Q170.50 712.12 169.88 711.97Q169.26 711.82 168.99 711.16Q168.71 710.50 169.25 710.21Q169.78 709.91 170.35 709.79Q170.93 709.67 171.23 710.22Q171.53 710.78 171.64 711.39Z" fill="#e4b888" opacity="0.8" filter="url(#bl3)"/>
<path d="M168.79 712.05Q168.17 711.94 167.86 711.37Q167.56 710.80 168.12 710.36Q168.68 709.91 169.19 709.39Q169.71 708.87 170.19 709.30Q170.67 709.74 170.35 710.35Q170.03 710.96 169.72 711.56Q169.41 712.17 168.79 712.05Z" fill="#e4b888" opacity="0.8" filter="url(#bl3)"/>
<path d="M168.27 708.90Q168.18 709.15 167.89 709.25Q167.61 709.35 167.27 709.12Q166.92 708.89 166.98 708.49Q167.04 708.10 167.32 707.95Q167.61 707.80 167.90 707.95Q168.18 708.10 168.27 708.38Q168.36 708.66 168.27 708.90Z" fill="#e4b888" opacity="0.8" filter="url(#bl3)"/>
<ellipse cx="168.30" cy="712.02" rx="0.83" ry="0.80" fill="#985a38" opacity="0.75" filter="url(#bl3)"/>
<ellipse cx="170.02" cy="707.18" rx="0.83" ry="0.80" fill="#985a38" opacity="0.75" filter="url(#bl3)"/>
<path d="M166 707 Q168 704.6 172 705.5" stroke="#3a2418" stroke-width="1.4" fill="none" filter="url(#bl3)"/>
<rect x="99.90" y="726.90" width="78.10" height="23.90" fill="#e6e6e2"/>
<rect x="109.20" y="726.90" width="2.00" height="23.90" fill="#a0a0a0"/>
<rect x="103.00" y="726.90" width="2.50" height="23.90" fill="#d8d8d4"/>
<line x1="100.00" y1="728.90" x2="103.00" y2="728.90" stroke="#555" stroke-width="0.4"/>
<line x1="101.50" y1="730.50" x2="103.00" y2="730.50" stroke="#555" stroke-width="0.4"/>
<line x1="101.50" y1="732.10" x2="103.00" y2="732.10" stroke="#555" stroke-width="0.4"/>
<line x1="101.50" y1="733.70" x2="103.00" y2="733.70" stroke="#555" stroke-width="0.4"/>
<line x1="101.50" y1="735.30" x2="103.00" y2="735.30" stroke="#555" stroke-width="0.4"/>
<line x1="100.00" y1="736.90" x2="103.00" y2="736.90" stroke="#555" stroke-width="0.4"/>
<line x1="101.50" y1="738.50" x2="103.00" y2="738.50" stroke="#555" stroke-width="0.4"/>
<line x1="101.50" y1="740.10" x2="103.00" y2="740.10" stroke="#555" stroke-width="0.4"/>
<line x1="101.50" y1="741.70" x2="103.00" y2="741.70" stroke="#555" stroke-width="0.4"/>
<line x1="101.50" y1="743.30" x2="103.00" y2="743.30" stroke="#555" stroke-width="0.4"/>
<line x1="100.00" y1="744.90" x2="103.00" y2="744.90" stroke="#555" stroke-width="0.4"/>
<line x1="101.50" y1="746.50" x2="103.00" y2="746.50" stroke="#555" stroke-width="0.4"/>
<line x1="101.50" y1="748.10" x2="103.00" y2="748.10" stroke="#555" stroke-width="0.4"/>
<line x1="101.50" y1="749.70" x2="103.00" y2="749.70" stroke="#555" stroke-width="0.4"/>
<path d="M124.25 735.68Q124.44 736.30 124.32 736.97Q124.20 737.64 123.68 738.06Q123.16 738.48 122.51 738.60Q121.87 738.71 121.28 738.41Q120.70 738.11 120.21 737.58Q119.72 737.06 119.94 736.37Q120.16 735.68 120.35 734.98Q120.53 734.29 121.23 734.35Q121.94 734.41 122.52 734.32Q123.10 734.24 123.58 734.65Q124.06 735.06 124.25 735.68Z" fill="#9c5c48" filter="url(#bl3)"/>
<path d="M122.20 735.60Q122.00 735.72 121.89 735.54Q121.79 735.35 121.92 734.99Q122.05 734.63 122.29 734.39Q122.53 734.15 122.74 734.20Q122.95 734.25 122.90 734.63Q122.85 735.00 122.63 735.23Q122.40 735.47 122.20 735.60Z" fill="#b87860" opacity="0.8" filter="url(#bl3)"/>
<path d="M121.90 736.20Q121.63 736.36 121.38 736.53Q121.13 736.71 120.89 736.44Q120.66 736.16 120.81 735.91Q120.95 735.66 121.10 735.44Q121.26 735.22 121.50 735.38Q121.74 735.53 121.96 735.79Q122.18 736.05 121.90 736.20Z" fill="#b87860" opacity="0.8" filter="url(#bl3)"/>
<ellipse cx="121.34" cy="735.00" rx="0.62" ry="0.60" fill="#703020" opacity="0.75" filter="url(#bl3)"/>
<ellipse cx="122.18" cy="735.76" rx="0.62" ry="0.60" fill="#703020" opacity="0.75" filter="url(#bl3)"/>
<path d="M150.24 736.07Q150.18 737.13 149.91 738.19Q149.64 739.24 148.68 739.94Q147.72 740.65 146.66 740.07Q145.61 739.49 144.53 739.23Q143.46 738.98 143.07 737.94Q142.68 736.91 142.90 735.86Q143.12 734.81 144.10 734.43Q145.09 734.05 145.88 733.92Q146.67 733.79 147.59 733.79Q148.51 733.78 149.41 734.39Q150.30 735.00 150.24 736.07Z" fill="#a86e4e" filter="url(#bl3)"/>
<path d="M148.35 735.81Q148.43 736.10 148.13 736.02Q147.82 735.94 147.53 735.84Q147.23 735.73 147.14 735.45Q147.04 735.18 147.12 734.95Q147.19 734.73 147.52 734.88Q147.85 735.03 148.06 735.28Q148.26 735.52 148.35 735.81Z" fill="#c89070" opacity="0.8" filter="url(#bl3)"/>
<path d="M147.15 736.49Q146.96 736.39 147.08 736.23Q147.20 736.07 147.41 735.89Q147.61 735.72 147.84 735.84Q148.08 735.96 148.11 736.16Q148.14 736.35 147.98 736.56Q147.82 736.76 147.57 736.67Q147.33 736.58 147.15 736.49Z" fill="#c89070" opacity="0.8" filter="url(#bl3)"/>
<ellipse cx="144.75" cy="736.46" rx="0.72" ry="0.68" fill="#703020" opacity="0.75" filter="url(#bl3)"/>
<ellipse cx="146.67" cy="735.94" rx="0.72" ry="0.68" fill="#703020" opacity="0.75" filter="url(#bl3)"/>
<ellipse cx="155.8" cy="737" rx="3.5" ry="2.4" fill="#f0c8b8" opacity="0.6" filter="url(#bl2)"/>
<path d="M171.99 735.41Q171.80 737.00 171.96 738.57Q172.11 740.15 170.75 740.83Q169.39 741.52 168.08 741.55Q166.77 741.57 165.39 741.32Q164.01 741.06 163.22 739.79Q162.42 738.52 162.44 737.01Q162.46 735.49 163.26 734.25Q164.06 733.00 165.40 732.63Q166.74 732.26 168.02 732.46Q169.30 732.67 170.74 733.24Q172.18 733.81 171.99 735.41Z" fill="#a8704e" filter="url(#bl3)"/>
<path d="M167.17 736.91Q167.38 737.15 167.20 737.43Q167.02 737.70 166.66 737.73Q166.30 737.75 166.00 737.56Q165.70 737.37 165.76 737.05Q165.82 736.74 166.11 736.57Q166.39 736.40 166.68 736.54Q166.96 736.68 167.17 736.91Z" fill="#c89470" opacity="0.8" filter="url(#bl3)"/>
<path d="M170.32 734.21Q170.13 734.66 169.83 735.13Q169.53 735.60 169.15 735.51Q168.76 735.42 168.82 734.93Q168.88 734.45 169.10 734.09Q169.33 733.73 169.76 733.27Q170.20 732.82 170.36 733.29Q170.51 733.76 170.32 734.21Z" fill="#c89470" opacity="0.8" filter="url(#bl3)"/>
<path d="M165.27 739.80Q164.64 739.67 164.59 739.09Q164.53 738.51 164.64 738.07Q164.75 737.62 165.23 737.70Q165.72 737.78 166.01 738.09Q166.31 738.39 166.37 738.78Q166.42 739.16 166.16 739.54Q165.89 739.92 165.27 739.80Z" fill="#c89470" opacity="0.8" filter="url(#bl3)"/>
<ellipse cx="169.06" cy="738.46" rx="0.87" ry="0.83" fill="#703020" opacity="0.75" filter="url(#bl3)"/>
<ellipse cx="164.81" cy="739.20" rx="0.87" ry="0.83" fill="#703020" opacity="0.75" filter="url(#bl3)"/>
<line x1="268.10" y1="592.90" x2="268.10" y2="741.90" stroke="#000" stroke-width="1.4"/>
<line x1="267.50" y1="741.30" x2="455.30" y2="741.30" stroke="#000" stroke-width="1.4"/>
<line x1="265.10" y1="741.30" x2="268.10" y2="741.30" stroke="#000" stroke-width="1.3"/>
<text x="263.50" y="745.10" font-size="11.23" font-weight="bold" text-anchor="end" fill="#000" textLength="5.78" lengthAdjust="spacingAndGlyphs">0</text>
<line x1="265.10" y1="711.72" x2="268.10" y2="711.72" stroke="#000" stroke-width="1.3"/>
<text x="263.50" y="715.52" font-size="11.23" font-weight="bold" text-anchor="end" fill="#000" textLength="17.35" lengthAdjust="spacingAndGlyphs">500</text>
<line x1="265.10" y1="682.14" x2="268.10" y2="682.14" stroke="#000" stroke-width="1.3"/>
<text x="263.50" y="685.94" font-size="11.23" font-weight="bold" text-anchor="end" fill="#000" textLength="23.14" lengthAdjust="spacingAndGlyphs">1000</text>
<line x1="265.10" y1="652.56" x2="268.10" y2="652.56" stroke="#000" stroke-width="1.3"/>
<text x="263.50" y="656.36" font-size="11.23" font-weight="bold" text-anchor="end" fill="#000" textLength="23.14" lengthAdjust="spacingAndGlyphs">1500</text>
<line x1="265.10" y1="622.98" x2="268.10" y2="622.98" stroke="#000" stroke-width="1.3"/>
<text x="263.50" y="626.78" font-size="11.23" font-weight="bold" text-anchor="end" fill="#000" textLength="23.14" lengthAdjust="spacingAndGlyphs">2000</text>
<line x1="265.10" y1="593.40" x2="268.10" y2="593.40" stroke="#000" stroke-width="1.3"/>
<text x="263.50" y="597.20" font-size="11.23" font-weight="bold" text-anchor="end" fill="#000" textLength="23.14" lengthAdjust="spacingAndGlyphs">2500</text>
<line x1="268.10" y1="741.30" x2="268.10" y2="744.30" stroke="#000" stroke-width="1.3"/>
<text x="268.10" y="755.40" font-size="11.02" font-weight="bold" text-anchor="middle" fill="#000" textLength="5.67" lengthAdjust="spacingAndGlyphs">0</text>
<line x1="328.00" y1="741.30" x2="328.00" y2="744.30" stroke="#000" stroke-width="1.3"/>
<text x="328.00" y="755.40" font-size="11.02" font-weight="bold" text-anchor="middle" fill="#000" textLength="5.67" lengthAdjust="spacingAndGlyphs">7</text>
<line x1="387.90" y1="741.30" x2="387.90" y2="744.30" stroke="#000" stroke-width="1.3"/>
<text x="387.90" y="755.40" font-size="11.02" font-weight="bold" text-anchor="middle" fill="#000" textLength="11.35" lengthAdjust="spacingAndGlyphs">14</text>
<line x1="447.80" y1="741.30" x2="447.80" y2="744.30" stroke="#000" stroke-width="1.3"/>
<text x="447.80" y="755.40" font-size="11.02" font-weight="bold" text-anchor="middle" fill="#000" textLength="11.35" lengthAdjust="spacingAndGlyphs">21</text>
<text x="262.00" y="755.40" font-size="11.02" font-weight="bold" text-anchor="end" fill="#000" textLength="22.11" lengthAdjust="spacingAndGlyphs">Day:</text>
<text x="232.0" y="664.8" font-size="11" font-weight="bold" text-anchor="middle" transform="rotate(-90 232.0 664.8)">Tumor volume(mm<tspan font-size="7.2" dy="-3.8">3</tspan><tspan dy="3.8">)</tspan></text>
<polyline points="268.10,724.14 328.00,731.83 387.90,736.57 447.80,740.12" fill="none" stroke="#95aee2" stroke-width="1.9"/>
<line x1="268.10" y1="721.78" x2="268.10" y2="726.51" stroke="#95aee2" stroke-width="1.1"/>
<line x1="265.60" y1="721.78" x2="270.60" y2="721.78" stroke="#95aee2" stroke-width="1.1"/>
<line x1="265.60" y1="726.51" x2="270.60" y2="726.51" stroke="#95aee2" stroke-width="1.1"/>
<circle cx="268.10" cy="724.14" r="1.9" fill="#95aee2"/>
<circle cx="328.00" cy="731.83" r="1.9" fill="#95aee2"/>
<circle cx="387.90" cy="736.57" r="1.9" fill="#95aee2"/>
<circle cx="447.80" cy="740.12" r="1.9" fill="#95aee2"/>
<polyline points="268.10,722.37 328.00,727.69 387.90,732.43 447.80,733.61" fill="none" stroke="#3a72c4" stroke-width="1.9"/>
<line x1="268.10" y1="720.59" x2="268.10" y2="724.14" stroke="#3a72c4" stroke-width="1.1"/>
<line x1="265.60" y1="720.59" x2="270.60" y2="720.59" stroke="#3a72c4" stroke-width="1.1"/>
<line x1="265.60" y1="724.14" x2="270.60" y2="724.14" stroke="#3a72c4" stroke-width="1.1"/>
<circle cx="268.10" cy="722.37" r="1.9" fill="#3a72c4"/>
<circle cx="328.00" cy="727.69" r="1.9" fill="#3a72c4"/>
<circle cx="387.90" cy="732.43" r="1.9" fill="#3a72c4"/>
<circle cx="447.80" cy="733.61" r="1.9" fill="#3a72c4"/>
<polyline points="268.10,719.41 328.00,719.41 387.90,721.19 447.80,712.31" fill="none" stroke="#f4a07c" stroke-width="1.9"/>
<circle cx="268.10" cy="719.41" r="1.9" fill="#f4a07c"/>
<circle cx="328.00" cy="719.41" r="1.9" fill="#f4a07c"/>
<line x1="387.90" y1="718.82" x2="387.90" y2="723.55" stroke="#f4a07c" stroke-width="1.1"/>
<line x1="385.40" y1="718.82" x2="390.40" y2="718.82" stroke="#f4a07c" stroke-width="1.1"/>
<line x1="385.40" y1="723.55" x2="390.40" y2="723.55" stroke="#f4a07c" stroke-width="1.1"/>
<circle cx="387.90" cy="721.19" r="1.9" fill="#f4a07c"/>
<line x1="447.80" y1="707.58" x2="447.80" y2="717.04" stroke="#f4a07c" stroke-width="1.1"/>
<line x1="445.30" y1="707.58" x2="450.30" y2="707.58" stroke="#f4a07c" stroke-width="1.1"/>
<line x1="445.30" y1="717.04" x2="450.30" y2="717.04" stroke="#f4a07c" stroke-width="1.1"/>
<circle cx="447.80" cy="712.31" r="1.9" fill="#f4a07c"/>
<polyline points="268.10,720.59 328.00,712.31 387.90,692.79 447.80,646.64" fill="none" stroke="#26478f" stroke-width="1.9"/>
<line x1="268.10" y1="718.23" x2="268.10" y2="722.96" stroke="#26478f" stroke-width="1.1"/>
<line x1="265.60" y1="718.23" x2="270.60" y2="718.23" stroke="#26478f" stroke-width="1.1"/>
<line x1="265.60" y1="722.96" x2="270.60" y2="722.96" stroke="#26478f" stroke-width="1.1"/>
<circle cx="268.10" cy="720.59" r="1.9" fill="#26478f"/>
<line x1="328.00" y1="710.54" x2="328.00" y2="714.09" stroke="#26478f" stroke-width="1.1"/>
<line x1="325.50" y1="710.54" x2="330.50" y2="710.54" stroke="#26478f" stroke-width="1.1"/>
<line x1="325.50" y1="714.09" x2="330.50" y2="714.09" stroke="#26478f" stroke-width="1.1"/>
<circle cx="328.00" cy="712.31" r="1.9" fill="#26478f"/>
<line x1="387.90" y1="689.24" x2="387.90" y2="696.34" stroke="#26478f" stroke-width="1.1"/>
<line x1="385.40" y1="689.24" x2="390.40" y2="689.24" stroke="#26478f" stroke-width="1.1"/>
<line x1="385.40" y1="696.34" x2="390.40" y2="696.34" stroke="#26478f" stroke-width="1.1"/>
<circle cx="387.90" cy="692.79" r="1.9" fill="#26478f"/>
<line x1="447.80" y1="640.14" x2="447.80" y2="653.15" stroke="#26478f" stroke-width="1.1"/>
<line x1="445.30" y1="640.14" x2="450.30" y2="640.14" stroke="#26478f" stroke-width="1.1"/>
<line x1="445.30" y1="653.15" x2="450.30" y2="653.15" stroke="#26478f" stroke-width="1.1"/>
<circle cx="447.80" cy="646.64" r="1.9" fill="#26478f"/>
<polyline points="268.10,719.41 328.00,717.64 387.90,695.75 447.80,659.07" fill="none" stroke="#e2321e" stroke-width="1.9"/>
<circle cx="268.10" cy="719.41" r="1.9" fill="#e2321e"/>
<line x1="328.00" y1="711.72" x2="328.00" y2="723.55" stroke="#e2321e" stroke-width="1.1"/>
<line x1="325.50" y1="711.72" x2="330.50" y2="711.72" stroke="#e2321e" stroke-width="1.1"/>
<line x1="325.50" y1="723.55" x2="330.50" y2="723.55" stroke="#e2321e" stroke-width="1.1"/>
<circle cx="328.00" cy="717.64" r="1.9" fill="#e2321e"/>
<line x1="387.90" y1="683.91" x2="387.90" y2="707.58" stroke="#e2321e" stroke-width="1.1"/>
<line x1="385.40" y1="683.91" x2="390.40" y2="683.91" stroke="#e2321e" stroke-width="1.1"/>
<line x1="385.40" y1="707.58" x2="390.40" y2="707.58" stroke="#e2321e" stroke-width="1.1"/>
<circle cx="387.90" cy="695.75" r="1.9" fill="#e2321e"/>
<line x1="447.80" y1="643.69" x2="447.80" y2="674.45" stroke="#e2321e" stroke-width="1.1"/>
<line x1="445.30" y1="643.69" x2="450.30" y2="643.69" stroke="#e2321e" stroke-width="1.1"/>
<line x1="445.30" y1="674.45" x2="450.30" y2="674.45" stroke="#e2321e" stroke-width="1.1"/>
<circle cx="447.80" cy="659.07" r="1.9" fill="#e2321e"/>
<polyline points="268.10,720.00 328.00,705.80 387.90,685.69 447.80,614.11" fill="none" stroke="#801c22" stroke-width="1.9"/>
<line x1="268.10" y1="718.23" x2="268.10" y2="721.78" stroke="#801c22" stroke-width="1.1"/>
<line x1="265.60" y1="718.23" x2="270.60" y2="718.23" stroke="#801c22" stroke-width="1.1"/>
<line x1="265.60" y1="721.78" x2="270.60" y2="721.78" stroke="#801c22" stroke-width="1.1"/>
<circle cx="268.10" cy="720.00" r="1.9" fill="#801c22"/>
<line x1="328.00" y1="704.03" x2="328.00" y2="707.58" stroke="#801c22" stroke-width="1.1"/>
<line x1="325.50" y1="704.03" x2="330.50" y2="704.03" stroke="#801c22" stroke-width="1.1"/>
<line x1="325.50" y1="707.58" x2="330.50" y2="707.58" stroke="#801c22" stroke-width="1.1"/>
<circle cx="328.00" cy="705.80" r="1.9" fill="#801c22"/>
<line x1="387.90" y1="678.59" x2="387.90" y2="692.79" stroke="#801c22" stroke-width="1.1"/>
<line x1="385.40" y1="678.59" x2="390.40" y2="678.59" stroke="#801c22" stroke-width="1.1"/>
<line x1="385.40" y1="692.79" x2="390.40" y2="692.79" stroke="#801c22" stroke-width="1.1"/>
<circle cx="387.90" cy="685.69" r="1.9" fill="#801c22"/>
<line x1="447.80" y1="602.87" x2="447.80" y2="625.35" stroke="#801c22" stroke-width="1.1"/>
<line x1="445.30" y1="602.87" x2="450.30" y2="602.87" stroke="#801c22" stroke-width="1.1"/>
<line x1="445.30" y1="625.35" x2="450.30" y2="625.35" stroke="#801c22" stroke-width="1.1"/>
<circle cx="447.80" cy="614.11" r="1.9" fill="#801c22"/>
<line x1="277.40" y1="588.90" x2="289.70" y2="588.90" stroke="#26478f" stroke-width="1.5"/>
<circle cx="283.5" cy="588.90" r="1.7" fill="#26478f"/>
<text x="295.80" y="593.50" font-size="10.48" font-weight="bold" text-anchor="start" fill="#000" textLength="34.48" lengthAdjust="spacingAndGlyphs">Control</text>
<line x1="277.40" y1="601.20" x2="289.70" y2="601.20" stroke="#3a72c4" stroke-width="1.5"/>
<circle cx="283.5" cy="601.20" r="1.7" fill="#3a72c4"/>
<text x="295.80" y="605.80" font-size="10.48" font-weight="bold" text-anchor="start" fill="#000" textLength="49.85" lengthAdjust="spacingAndGlyphs">Control+IR</text>
<line x1="277.40" y1="613.80" x2="289.70" y2="613.80" stroke="#95aee2" stroke-width="1.5"/>
<circle cx="283.5" cy="613.80" r="1.7" fill="#95aee2"/>
<text x="295.80" y="618.40" font-size="10.48" font-weight="bold" text-anchor="start" fill="#000" textLength="92.18" lengthAdjust="spacingAndGlyphs">Control+IR+MK8776</text>
<line x1="277.40" y1="626.70" x2="289.70" y2="626.70" stroke="#801c22" stroke-width="1.5"/>
<circle cx="283.5" cy="626.70" r="1.7" fill="#801c22"/>
<text x="295.80" y="631.30" font-size="10.48" font-weight="bold" text-anchor="start" fill="#000" textLength="31.80" lengthAdjust="spacingAndGlyphs">UBE2T</text>
<line x1="277.40" y1="639.60" x2="289.70" y2="639.60" stroke="#e2321e" stroke-width="1.5"/>
<circle cx="283.5" cy="639.60" r="1.7" fill="#e2321e"/>
<text x="295.80" y="644.20" font-size="10.48" font-weight="bold" text-anchor="start" fill="#000" textLength="47.17" lengthAdjust="spacingAndGlyphs">UBE2T+IR</text>
<line x1="277.40" y1="652.30" x2="289.70" y2="652.30" stroke="#f4a07c" stroke-width="1.5"/>
<circle cx="283.5" cy="652.30" r="1.7" fill="#f4a07c"/>
<text x="295.80" y="656.90" font-size="10.48" font-weight="bold" text-anchor="start" fill="#000" textLength="89.50" lengthAdjust="spacingAndGlyphs">UBE2T+IR+MK8776</text>
<path d="M452.3 659.7H456V711.3H452.3" fill="none" stroke="#000" stroke-width="1"/>
<text x="458.20" y="690.60" font-size="9.18" font-weight="bold" text-anchor="start" fill="#000" textLength="6.62" lengthAdjust="spacingAndGlyphs">**</text>
<line x1="524.90" y1="594.00" x2="524.90" y2="708.10" stroke="#000" stroke-width="1.5"/>
<line x1="524.30" y1="707.50" x2="684.00" y2="707.50" stroke="#000" stroke-width="1.5"/>
<line x1="521.90" y1="707.50" x2="524.90" y2="707.50" stroke="#000" stroke-width="1.4"/>
<text x="520.60" y="711.50" font-size="12.10" font-weight="bold" text-anchor="end" fill="#000" textLength="6.23" lengthAdjust="spacingAndGlyphs">0</text>
<line x1="521.90" y1="669.83" x2="524.90" y2="669.83" stroke="#000" stroke-width="1.4"/>
<text x="520.60" y="673.83" font-size="12.10" font-weight="bold" text-anchor="end" fill="#000" textLength="6.23" lengthAdjust="spacingAndGlyphs">1</text>
<line x1="521.90" y1="632.16" x2="524.90" y2="632.16" stroke="#000" stroke-width="1.4"/>
<text x="520.60" y="636.16" font-size="12.10" font-weight="bold" text-anchor="end" fill="#000" textLength="6.23" lengthAdjust="spacingAndGlyphs">2</text>
<line x1="521.90" y1="594.49" x2="524.90" y2="594.49" stroke="#000" stroke-width="1.4"/>
<text x="520.60" y="598.49" font-size="12.10" font-weight="bold" text-anchor="end" fill="#000" textLength="6.23" lengthAdjust="spacingAndGlyphs">3</text>
<line x1="542.05" y1="640.45" x2="542.05" y2="647.98" stroke="#000" stroke-width="1.2"/>
<line x1="538.85" y1="640.45" x2="545.25" y2="640.45" stroke="#000" stroke-width="1.2"/>
<rect x="534.30" y="647.98" width="15.50" height="59.52" fill="#1f4a8c" stroke="#111" stroke-width="1.2"/>
<line x1="567.25" y1="694.32" x2="567.25" y2="697.71" stroke="#000" stroke-width="1.2"/>
<line x1="564.05" y1="694.32" x2="570.45" y2="694.32" stroke="#000" stroke-width="1.2"/>
<rect x="559.50" y="697.71" width="15.50" height="9.79" fill="#3c78c6" stroke="#111" stroke-width="1.2"/>
<line x1="592.35" y1="701.47" x2="592.35" y2="703.73" stroke="#000" stroke-width="1.2"/>
<line x1="589.15" y1="701.47" x2="595.55" y2="701.47" stroke="#000" stroke-width="1.2"/>
<rect x="584.60" y="703.73" width="15.50" height="3.77" fill="#9aaee0" stroke="#111" stroke-width="1.2"/>
<line x1="618.05" y1="609.56" x2="618.05" y2="618.60" stroke="#000" stroke-width="1.2"/>
<line x1="614.85" y1="609.56" x2="621.25" y2="609.56" stroke="#000" stroke-width="1.2"/>
<rect x="610.30" y="618.60" width="15.50" height="88.90" fill="#7a1a22" stroke="#111" stroke-width="1.2"/>
<line x1="642.55" y1="657.78" x2="642.55" y2="661.92" stroke="#000" stroke-width="1.2"/>
<line x1="639.35" y1="657.78" x2="645.75" y2="657.78" stroke="#000" stroke-width="1.2"/>
<rect x="634.80" y="661.92" width="15.50" height="45.58" fill="#e02a22" stroke="#111" stroke-width="1.2"/>
<line x1="667.05" y1="688.66" x2="667.05" y2="692.06" stroke="#000" stroke-width="1.2"/>
<line x1="663.85" y1="688.66" x2="670.25" y2="688.66" stroke="#000" stroke-width="1.2"/>
<rect x="659.30" y="692.06" width="15.50" height="15.44" fill="#f4a080" stroke="#111" stroke-width="1.2"/>
<path d="M643.60 655.80V653.20H668.70V655.80" fill="none" stroke="#000" stroke-width="1.1"/>
<text x="656.15" y="654.24" font-size="8.64" font-weight="bold" text-anchor="middle" fill="#000" textLength="6.23" lengthAdjust="spacingAndGlyphs">**</text>
<text x="507.00" y="650.00" font-size="12.96" font-weight="bold" text-anchor="middle" fill="#000" transform="rotate(-90 507.00 650.00)" textLength="96.43" lengthAdjust="spacingAndGlyphs">Tumor weight (g)</text>
<text x="526.80" y="724.50" font-size="10.80" font-weight="bold" text-anchor="end" fill="#000" textLength="32.78" lengthAdjust="spacingAndGlyphs">UBE2T</text>
<text x="525.90" y="738.80" font-size="10.80" font-weight="bold" text-anchor="end" fill="#000" textLength="10.00" lengthAdjust="spacingAndGlyphs">IR</text>
<text x="525.90" y="754.90" font-size="10.80" font-weight="bold" text-anchor="end" fill="#000" textLength="37.80" lengthAdjust="spacingAndGlyphs">MK8776</text>
<path d="M540.75 720.80H543.35" stroke="#000" stroke-width="1.2"/>
<path d="M565.95 720.80H568.55" stroke="#000" stroke-width="1.2"/>
<path d="M591.05 720.80H593.65" stroke="#000" stroke-width="1.2"/>
<path d="M615.75 720.80H620.35M618.05 718.50V723.10" stroke="#000" stroke-width="1.2"/>
<path d="M640.25 720.80H644.85M642.55 718.50V723.10" stroke="#000" stroke-width="1.2"/>
<path d="M664.75 720.80H669.35M667.05 718.50V723.10" stroke="#000" stroke-width="1.2"/>
<path d="M540.75 735.80H543.35" stroke="#000" stroke-width="1.2"/>
<path d="M564.95 735.80H569.55M567.25 733.50V738.10" stroke="#000" stroke-width="1.2"/>
<path d="M590.05 735.80H594.65M592.35 733.50V738.10" stroke="#000" stroke-width="1.2"/>
<path d="M616.75 735.80H619.35" stroke="#000" stroke-width="1.2"/>
<path d="M640.25 735.80H644.85M642.55 733.50V738.10" stroke="#000" stroke-width="1.2"/>
<path d="M664.75 735.80H669.35M667.05 733.50V738.10" stroke="#000" stroke-width="1.2"/>
<path d="M540.75 751.50H543.35" stroke="#000" stroke-width="1.2"/>
<path d="M565.95 751.50H568.55" stroke="#000" stroke-width="1.2"/>
<path d="M590.05 751.50H594.65M592.35 749.20V753.80" stroke="#000" stroke-width="1.2"/>
<path d="M616.75 751.50H619.35" stroke="#000" stroke-width="1.2"/>
<path d="M641.25 751.50H643.85" stroke="#000" stroke-width="1.2"/>
<path d="M664.75 751.50H669.35M667.05 749.20V753.80" stroke="#000" stroke-width="1.2"/>
</svg>
</body></html>
